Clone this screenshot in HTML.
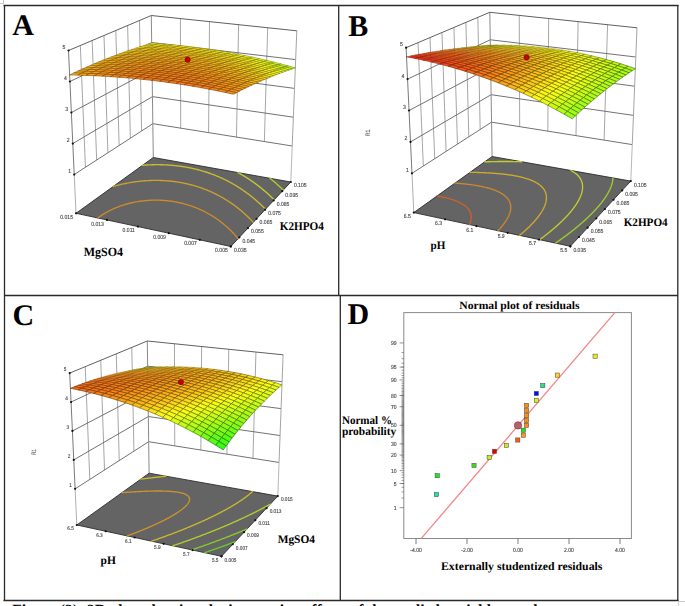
<!DOCTYPE html>
<html><head><meta charset="utf-8"><title>Figure</title><style>html,body{margin:0;padding:0;background:#fff;}body{width:685px;height:606px;overflow:hidden;}svg{display:block;}</style></head><body>
<svg width="685" height="606" viewBox="0 0 685 606" text-rendering="geometricPrecision"><g stroke="#2a2a2a" stroke-width="1.3"><line x1="3.5" y1="5.5" x2="678.5" y2="5.5"/><line x1="3.5" y1="600.5" x2="678.5" y2="600.5"/><line x1="4.5" y1="5" x2="4.5" y2="601"/><line x1="677.8" y1="5" x2="677.8" y2="601"/><line x1="4" y1="295.5" x2="678" y2="295.5"/><line x1="338.7" y1="5" x2="338.7" y2="295.5"/><line x1="340.3" y1="295.5" x2="340.3" y2="601"/></g>
<g stroke="#c8c8c8" stroke-width="1"><line x1="3.5" y1="0" x2="3.5" y2="4"/><line x1="0" y1="3.5" x2="3" y2="3.5"/><line x1="678.7" y1="601.5" x2="685" y2="601.5"/><line x1="678.7" y1="601.5" x2="678.7" y2="606"/></g>
<g stroke="#9c9c9c" stroke-width="0.9" fill="none"><line x1="85.44" y1="167.27" x2="80.33" y2="45.5"/><line x1="96.67" y1="160.01" x2="92.16" y2="40.5"/><line x1="107.9" y1="152.75" x2="103.99" y2="35.5"/><line x1="119.13" y1="145.48" x2="115.81" y2="30.5"/><line x1="130.36" y1="138.22" x2="127.64" y2="25.5"/><line x1="141.59" y1="130.95" x2="139.47" y2="20.5"/><line x1="180.7" y1="128.15" x2="180.4" y2="18.56"/><line x1="208.59" y1="132.61" x2="209.5" y2="21.62"/><line x1="236.47" y1="137.08" x2="238.6" y2="24.68"/><line x1="264.35" y1="141.54" x2="267.7" y2="27.74"/></g>
<g stroke="#626262" stroke-width="0.9" fill="none"><polyline points="74.21,174.54 152.82,123.69 292.23,146"/><polyline points="72.79,143.53 152.44,96.64 293.37,117.2"/><polyline points="71.36,112.52 152.06,69.6 294.51,88.4"/><polyline points="69.93,81.51 151.68,42.55 295.66,59.6"/></g>
<line x1="76" y1="213.3" x2="74.21" y2="174.54" stroke="#b0b0b0" stroke-width="1"/>
<line x1="74.21" y1="174.54" x2="68.5" y2="50.5" stroke="#7a7a7a" stroke-width="1"/>
<line x1="153.3" y1="157.5" x2="151.3" y2="15.5" stroke="#8a8a8a" stroke-width="1"/>
<line x1="290.8" y1="182" x2="292.23" y2="146" stroke="#b8b8b8" stroke-width="1"/>
<line x1="292.23" y1="146" x2="296.8" y2="30.8" stroke="#a5a5a5" stroke-width="1"/>
<polyline points="68.5,50.5 151.3,15.5 296.8,30.8" fill="none" stroke="#606060" stroke-width="1"/>
<polygon points="76,213.3 230.8,246.5 290.8,182 153.3,157.5" fill="#646464" stroke="#2e2e2e" stroke-width="0.9" stroke-linejoin="round"/>
<polyline points="97.9,218 98.37,217.64 98.84,217.28 99.32,216.93 99.8,216.58 100.3,216.23 100.8,215.88 101.3,215.53 101.82,215.18 102.34,214.84 102.87,214.49 103.34,214.19 103.4,214.15 103.95,213.81 104.5,213.47 105.07,213.14 105.63,212.8 106.21,212.47 106.8,212.14 107.39,211.81 108,211.48 108.39,211.27 108.61,211.15 109.23,210.83 109.87,210.51 110.51,210.19 111.16,209.87 111.82,209.55 111.9,209.52 112.49,209.24 113.18,208.93 113.87,208.62 114.58,208.31 114.81,208.21 115.29,208 116.02,207.7 116.76,207.4 117.38,207.16 117.52,207.1 118.29,206.81 119.07,206.51 119.72,206.27 119.86,206.22 120.67,205.94 121.49,205.65 121.89,205.52 122.34,205.37 123.19,205.1 123.93,204.86 124.07,204.82 124.96,204.55 125.86,204.28 125.87,204.28 126.8,204.02 127.71,203.77 127.75,203.76 128.72,203.51 129.47,203.32 129.72,203.26 130.74,203.01 131.18,202.91 131.78,202.77 132.82,202.54 132.86,202.53 133.96,202.31 134.41,202.21 135.09,202.08 135.96,201.92 136.26,201.86 137.46,201.65 137.47,201.65 138.71,201.45 138.94,201.42 140,201.26 140.37,201.21 141.33,201.08 141.77,201.02 142.72,200.9 143.14,200.85 144.17,200.74 144.49,200.71 145.69,200.59 145.81,200.58 147.1,200.47 147.28,200.46 148.38,200.38 148.97,200.34 149.63,200.3 150.75,200.24 150.86,200.24 152.07,200.19 152.67,200.18 153.27,200.16 154.44,200.14 154.75,200.14 155.6,200.13 156.75,200.13 157.03,200.14 157.88,200.15 158.99,200.18 159.6,200.2 160.09,200.21 161.18,200.26 162.26,200.32 162.6,200.34 163.32,200.38 164.37,200.46 165.41,200.55 166.35,200.63 166.44,200.64 167.46,200.74 168.46,200.85 169.46,200.97 170.45,201.1 171.43,201.23 172.32,201.37 172.4,201.38 173.36,201.53 174.31,201.68 175.25,201.85 176.18,202.02 177.11,202.2 178.03,202.38 178.94,202.57 179.84,202.77 180.74,202.98 181.63,203.19 182.43,203.38 182.51,203.4 183.39,203.63 184.25,203.86 185.12,204.09 185.97,204.33 186.82,204.58 187.66,204.83 188.2,205 188.5,205.09 189.33,205.36 190.16,205.63 190.98,205.9 191.78,206.18 191.79,206.18 192.6,206.47 193.4,206.76 194.2,207.06 194.58,207.2 194.99,207.36 195.78,207.67 196.56,207.98 196.96,208.14 197.34,208.3 198.11,208.62 198.88,208.95 199.06,209.03 199.64,209.29 200.39,209.62 200.95,209.88 201.15,209.97 201.9,210.32 202.64,210.67 202.68,210.69 203.38,211.03 204.11,211.4 204.29,211.48 204.84,211.77 205.57,212.14 205.79,212.25 206.29,212.52 207.01,212.9 207.2,213.01 207.72,213.29 208.43,213.69 208.53,213.75 209.14,214.09 209.8,214.47 209.84,214.49 210.53,214.9 211.01,215.19 211.23,215.31 211.92,215.73 212.17,215.89 212.6,216.16 213.28,216.59 213.28,216.59 213.96,217.02 214.35,217.27 214.63,217.46 215.3,217.9 215.38,217.96 215.97,218.35 216.37,218.63 216.63,218.81 217.29,219.27 217.33,219.3 217.94,219.73 218.26,219.96 218.59,220.2 219.17,220.62 219.24,220.67 219.88,221.15 220.04,221.27 220.52,221.64 220.89,221.92 221.16,222.13 221.72,222.56 221.79,222.62 222.42,223.12 222.52,223.2 223.05,223.62 223.31,223.84 223.67,224.13 224.07,224.47 224.29,224.65 224.82,225.1 224.91,225.17 225.52,225.7 225.55,225.72 226.13,226.23 226.26,226.35 226.73,226.76 226.96,226.97 227.33,227.3 227.64,227.58 227.93,227.85 228.3,228.2 228.52,228.4 228.95,228.81 229.11,228.96 229.59,229.42 229.7,229.52 230.22,230.03 230.28,230.09 230.83,230.63 230.87,230.67 231.43,231.24 231.44,231.25 232.02,231.83 232.02,231.84 232.58,232.43 232.59,232.44 233.15,233.02 233.16,233.03 233.71,233.63 233.72,233.63 234.26,234.22 234.27,234.24 234.8,234.82 234.83,234.85 235.32,235.41 235.38,235.47 235.84,235.99 235.93,236.1 236.34,236.58 236.47,236.73 236.84,237.17 237.01,237.37 237.33,237.75 237.55,238.02 237.81,238.33 238.08,238.67" fill="none" stroke="#cc8a2e" stroke-width="1.35" stroke-linecap="round"/>
<polyline points="113.01,186.58 113.37,186.48 114.28,186.21 114.95,186.02 115.2,185.95 116.14,185.69 116.83,185.51 117.09,185.44 118.06,185.18 118.64,185.03 119.04,184.93 120.04,184.68 120.39,184.6 121.06,184.44 122.1,184.2 122.1,184.2 123.15,183.96 123.75,183.83 124.23,183.73 125.33,183.5 125.37,183.49 126.45,183.27 126.94,183.17 127.59,183.05 128.49,182.88 128.76,182.83 129.95,182.62 129.99,182.61 131.18,182.41 131.47,182.36 132.43,182.21 132.92,182.14 133.72,182.02 134.34,181.92 135.04,181.83 135.74,181.73 136.39,181.64 137.11,181.55 137.79,181.47 138.46,181.39 139.24,181.3 139.79,181.24 140.73,181.14 141.1,181.11 142.28,181 142.38,180.99 143.65,180.88 143.88,180.86 144.91,180.78 145.56,180.74 146.14,180.7 147.31,180.63 147.36,180.62 148.57,180.56 149.16,180.53 149.75,180.51 150.93,180.46 151.1,180.46 152.09,180.43 153.17,180.41 153.24,180.41 154.37,180.39 155.4,180.38 155.5,180.38 156.61,180.39 157.71,180.4 157.81,180.4 158.79,180.41 159.87,180.44 160.49,180.46 160.94,180.47 161.99,180.51 163.04,180.56 163.52,180.59 164.08,180.62 165.1,180.68 166.12,180.75 167.12,180.82 167.13,180.82 168.13,180.91 169.12,180.99 170.11,181.09 171.08,181.19 171.88,181.27 172.05,181.29 173.01,181.41 173.96,181.52 174.91,181.65 175.85,181.78 176.78,181.91 177.7,182.05 178.62,182.2 179.53,182.35 180.44,182.51 181.34,182.67 182.23,182.83 183.12,183 184,183.18 184.87,183.36 185.74,183.55 186.6,183.74 187.46,183.93 188.31,184.13 189.16,184.34 190,184.55 190.84,184.76 191.67,184.98 192.26,185.14 192.5,185.2 193.32,185.43 194.14,185.66 194.95,185.9 195.76,186.14 196.56,186.38 196.77,186.45 197.36,186.63 198.15,186.89 198.94,187.14 199.73,187.4 200.15,187.55 200.51,187.67 201.29,187.94 202.06,188.22 202.83,188.49 202.95,188.54 203.6,188.78 204.36,189.06 205.11,189.35 205.39,189.46 205.87,189.65 206.62,189.95 207.36,190.25 207.57,190.34 208.1,190.55 208.84,190.86 209.57,191.18 209.58,191.18 210.31,191.5 211.04,191.82 211.41,191.99 211.76,192.15 212.48,192.48 213.13,192.78 213.2,192.81 213.91,193.15 214.62,193.49 214.75,193.55 215.33,193.83 216.03,194.18 216.27,194.3 216.73,194.54 217.43,194.89 217.72,195.05 218.13,195.26 218.82,195.62 219.11,195.78 219.51,195.99 220.19,196.36 220.43,196.49 220.87,196.74 221.55,197.12 221.7,197.2 222.23,197.5 222.9,197.89 222.93,197.9 223.57,198.28 224.11,198.6 224.24,198.68 224.91,199.08 225.24,199.28 225.57,199.48 226.23,199.89 226.35,199.96 226.88,200.3 227.42,200.64 227.54,200.71 228.19,201.13 228.45,201.31 228.84,201.55 229.46,201.97 229.48,201.98 230.12,202.41 230.44,202.63 230.76,202.85 231.4,203.28 231.4,203.28 232.04,203.73 232.33,203.93 232.67,204.17 233.24,204.58 233.3,204.62 233.93,205.07 234.13,205.22 234.55,205.53 235,205.86 235.17,205.99 235.79,206.46 235.84,206.5 236.41,206.93 236.67,207.13 237.02,207.4 237.49,207.76 237.64,207.88 238.25,208.36 238.28,208.39 238.85,208.85 239.06,209.01 239.46,209.34 239.83,209.64 240.06,209.83 240.58,210.26 240.66,210.33 241.26,210.83 241.32,210.88 241.85,211.33 242.04,211.49 242.45,211.84 242.75,212.11 243.04,212.36 243.45,212.72 243.63,212.88 244.13,213.33 244.21,213.4 244.8,213.93 244.81,213.94 245.38,214.46 245.47,214.54 245.95,214.99 246.12,215.15 246.53,215.53 246.77,215.75 247.11,216.07 247.4,216.35 247.68,216.62 248.02,216.95 248.25,217.18 248.63,217.55 248.81,217.73 249.24,218.15 249.38,218.29 249.83,218.75 249.94,218.86 250.42,219.34 250.5,219.43 251,219.94 251.06,220 251.56,220.53 251.62,220.58 252.13,221.12 252.17,221.16 252.68,221.71 252.72,221.75 253.23,222.3 253.27,222.35" fill="none" stroke="#cca12e" stroke-width="1.35" stroke-linecap="round"/>
<polyline points="142.49,165.3 143.11,165.25 143.72,165.21 144.81,165.13 144.94,165.12 146.14,165.04 146.58,165.01 147.33,164.97 148.42,164.91 148.5,164.91 149.67,164.85 150.35,164.83 150.82,164.81 151.96,164.77 152.38,164.76 153.09,164.74 154.2,164.72 154.53,164.71 155.31,164.7 156.4,164.69 156.82,164.69 157.49,164.69 158.57,164.69 159.29,164.7 159.63,164.7 160.69,164.72 161.74,164.74 161.99,164.75 162.78,164.77 163.81,164.81 164.83,164.85 164.99,164.85 165.84,164.89 166.85,164.95 167.84,165 168.46,165.04 168.84,165.07 169.82,165.13 170.79,165.21 171.76,165.29 172.71,165.37 172.72,165.37 173.68,165.46 174.62,165.55 175.56,165.65 176.5,165.75 177.43,165.86 178.35,165.97 178.9,166.04 179.26,166.09 180.17,166.21 181.08,166.34 181.97,166.47 182.87,166.6 183.75,166.74 184.63,166.89 185.51,167.03 186.38,167.18 187.24,167.34 188.1,167.5 188.96,167.66 189.81,167.83 190.65,168.01 191.5,168.18 192.33,168.36 193.16,168.55 193.99,168.73 194.62,168.88 194.81,168.92 195.63,169.12 196.44,169.32 197.25,169.52 198.06,169.73 198.86,169.94 199.65,170.15 200.45,170.37 200.53,170.4 201.23,170.59 202.02,170.82 202.8,171.05 203.58,171.28 204.35,171.52 204.51,171.57 205.12,171.75 205.88,172 206.65,172.24 207.4,172.49 207.71,172.59 208.16,172.75 208.91,173 209.66,173.26 210.4,173.53 210.45,173.54 211.14,173.79 211.88,174.07 212.62,174.34 212.88,174.44 213.35,174.62 214.08,174.9 214.8,175.18 215.08,175.29 215.52,175.47 216.24,175.76 216.96,176.05 217.11,176.12 217.67,176.35 218.38,176.65 218.99,176.91 219.09,176.96 219.79,177.26 220.49,177.57 220.76,177.69 221.19,177.89 221.89,178.2 222.43,178.45 222.58,178.52 223.27,178.85 223.96,179.18 224.01,179.2 224.64,179.51 225.32,179.84 225.51,179.93 226,180.18 226.68,180.52 226.95,180.66 227.35,180.86 228.03,181.21 228.34,181.37 228.69,181.56 229.36,181.91 229.66,182.07 230.03,182.27 230.69,182.63 230.95,182.77 231.35,182.99 232,183.35 232.18,183.46 232.66,183.72 233.31,184.1 233.38,184.14 233.96,184.47 234.54,184.81 234.61,184.85 235.25,185.23 235.67,185.48 235.89,185.62 236.53,186.01 236.77,186.15 237.17,186.4 237.81,186.8 237.83,186.81 238.44,187.19 238.87,187.47 239.08,187.6 239.7,188 239.89,188.12 240.33,188.41 240.88,188.77 240.96,188.82 241.58,189.24 241.84,189.41 242.2,189.66 242.79,190.05 242.82,190.08 243.44,190.5 243.71,190.69 244.05,190.93 244.62,191.33 244.67,191.36 245.28,191.8 245.5,191.96 245.89,192.24 246.37,192.59 246.49,192.68 247.1,193.12 247.22,193.22 247.7,193.57 248.06,193.84 248.3,194.02 248.88,194.46 248.9,194.48 249.5,194.94 249.69,195.08 250.09,195.4 250.48,195.7 250.69,195.87 251.26,196.32 251.28,196.33 251.87,196.81 252.03,196.93 252.46,197.28 252.78,197.55 253.04,197.76 253.52,198.16 253.63,198.24 254.21,198.73 254.25,198.77 254.79,199.22 254.97,199.37 255.37,199.71 255.68,199.98 255.95,200.21 256.38,200.58 256.52,200.71 257.07,201.19 257.1,201.21 257.67,201.72 257.74,201.79 258.24,202.23 258.41,202.39 258.8,202.75 259.07,202.99 259.37,203.27 259.72,203.59 259.94,203.79 260.36,204.18 260.5,204.31 260.99,204.78 261.06,204.84 261.62,205.37 261.62,205.37 262.18,205.91 262.24,205.97 262.73,206.45 262.84,206.56 263.29,206.99 263.45,207.15 263.84,207.54 264.04,207.74 264.39,208.09 264.63,208.33 264.94,208.65 265.21,208.92 265.49,209.21" fill="none" stroke="#ccba2e" stroke-width="1.35" stroke-linecap="round"/>
<polyline points="237.97,172.59 238.28,172.75 238.92,173.11 239.2,173.26 239.56,173.46 240.2,173.82 240.4,173.93 240.83,174.18 241.47,174.55 241.56,174.6 242.1,174.92 242.69,175.26 242.73,175.29 243.36,175.66 243.79,175.92 243.99,176.04 244.61,176.42 244.86,176.57 245.23,176.8 245.85,177.18 245.9,177.21 246.47,177.57 246.92,177.86 247.09,177.96 247.7,178.36 247.92,178.5 248.32,178.75 248.9,179.14 248.93,179.16 249.54,179.56 249.86,179.77 250.15,179.96 250.75,180.37 250.8,180.4 251.36,180.79 251.71,181.03 251.96,181.2 252.56,181.62 252.62,181.66 253.16,182.04 253.5,182.28 253.76,182.47 254.35,182.89 254.37,182.9 254.95,183.32 255.22,183.52 255.54,183.76 256.06,184.14 256.13,184.19 256.72,184.63 256.88,184.76 257.3,185.08 257.69,185.37 257.89,185.52 258.47,185.97 258.49,185.98 259.06,186.42 259.28,186.59 259.64,186.88 260.05,187.2 260.22,187.33 260.79,187.8 260.81,187.81 261.37,188.26 261.56,188.41 261.95,188.73 262.3,189.02 262.52,189.2 263.03,189.62 263.09,189.67 263.66,190.15 263.75,190.22 264.23,190.63 264.46,190.82 264.8,191.11 265.16,191.42 265.36,191.6 265.85,192.02 265.93,192.09 266.49,192.58 266.53,192.62 267.05,193.08 267.2,193.21 267.61,193.58 267.86,193.81 268.17,194.08 268.52,194.4 268.72,194.58 269.17,194.99 269.28,195.09 269.81,195.58 269.83,195.61 270.39,196.12 270.44,196.17 270.94,196.64 271.07,196.76 271.49,197.16 271.68,197.35 272.04,197.69 272.29,197.94 272.58,198.22 272.9,198.53 273.13,198.75 273.5,199.11 273.67,199.29 274.09,199.7 274.22,199.83" fill="none" stroke="#c9cc2e" stroke-width="1.35" stroke-linecap="round"/>
<polyline points="269.99,178.29 270.11,178.39 270.68,178.84 270.73,178.89 271.24,179.3 271.47,179.49 271.8,179.76 272.19,180.08 272.36,180.22 272.91,180.67 272.92,180.68 273.47,181.15 273.61,181.27 274.03,181.62 274.31,181.86 274.58,182.09 275,182.45 275.14,182.57 275.68,183.04 275.69,183.05 276.24,183.53 276.35,183.63 276.79,184.02 277.01,184.22 277.34,184.5 277.67,184.8 277.88,185 278.32,185.39 278.43,185.49 278.96,185.98 278.97,185.99 279.52,186.49 279.6,186.56 280.06,186.99 280.23,187.15 280.6,187.5 280.85,187.73 281.14,188 281.47,188.31 281.68,188.52 282.08,188.9 282.22,189.03 282.68,189.48 282.76,189.55 283.28,190.06 283.29,190.07" fill="none" stroke="#b2cc2e" stroke-width="1.35" stroke-linecap="round"/>
<g stroke-width="0.6" stroke-linejoin="round"><polygon points="147.59,44.31 154.83,44.81 158.88,43.56 151.69,43.04" fill="#fcf014" stroke="#6a6508" stroke-width="0.38"/><polygon points="143.49,45.6 150.78,46.09 154.83,44.81 147.59,44.31" fill="#fce914" stroke="#6a6208" stroke-width="0.39"/><polygon points="154.83,44.81 162.08,45.39 166.08,44.15 158.88,43.56" fill="#fced14" stroke="#6a6308" stroke-width="0.39"/><polygon points="150.78,46.09 158.08,46.66 162.08,45.39 154.83,44.81" fill="#fce514" stroke="#6a6008" stroke-width="0.39"/><polygon points="139.39,46.93 146.73,47.4 150.78,46.09 143.49,45.6" fill="#fce214" stroke="#6a5f08" stroke-width="0.39"/><polygon points="162.08,45.39 169.33,46.04 173.28,44.82 166.08,44.15" fill="#fcea14" stroke="#6a6208" stroke-width="0.4"/><polygon points="146.73,47.4 154.07,47.95 158.08,46.66 150.78,46.09" fill="#fcde14" stroke="#6a5d08" stroke-width="0.4"/><polygon points="158.08,46.66 165.38,47.29 169.33,46.04 162.08,45.39" fill="#fce214" stroke="#6a5f08" stroke-width="0.4"/><polygon points="169.33,46.04 176.58,46.77 180.48,45.56 173.28,44.82" fill="#fce814" stroke="#6a6208" stroke-width="0.4"/><polygon points="135.29,48.28 142.68,48.75 146.73,47.4 139.39,46.93" fill="#fcdc14" stroke="#6a5c08" stroke-width="0.4"/><polygon points="131.18,49.67 138.62,50.12 142.68,48.75 135.29,48.28" fill="#fcd614" stroke="#6a5a08" stroke-width="0.41"/><polygon points="142.68,48.75 150.07,49.28 154.07,47.95 146.73,47.4" fill="#fcd814" stroke="#6a5b08" stroke-width="0.41"/><polygon points="154.07,47.95 161.42,48.58 165.38,47.29 158.08,46.66" fill="#fcdb14" stroke="#6a5c08" stroke-width="0.4"/><polygon points="165.38,47.29 172.67,48 176.58,46.77 169.33,46.04" fill="#fce014" stroke="#6a5e08" stroke-width="0.4"/><polygon points="176.58,46.77 183.83,47.56 187.68,46.37 180.48,45.56" fill="#fce714" stroke="#6a6108" stroke-width="0.4"/><polygon points="172.67,48 179.97,48.79 183.83,47.56 176.58,46.77" fill="#fcdf14" stroke="#6a5e08" stroke-width="0.41"/><polygon points="127.08,51.1 134.56,51.53 138.62,50.12 131.18,49.67" fill="#fcd014" stroke="#6a5708" stroke-width="0.41"/><polygon points="138.62,50.12 146.06,50.64 150.07,49.28 142.68,48.75" fill="#fcd114" stroke="#6a5808" stroke-width="0.41"/><polygon points="150.07,49.28 157.47,49.89 161.42,48.58 154.07,47.95" fill="#fcd414" stroke="#6a5908" stroke-width="0.41"/><polygon points="161.42,48.58 168.77,49.27 172.67,48 165.38,47.29" fill="#fcd914" stroke="#6a5b08" stroke-width="0.41"/><polygon points="183.83,47.56 191.08,48.44 194.87,47.25 187.68,46.37" fill="#fce714" stroke="#6a6108" stroke-width="0.41"/><polygon points="122.97,52.55 130.51,52.97 134.56,51.53 127.08,51.1" fill="#fccb14" stroke="#6a5508" stroke-width="0.42"/><polygon points="146.06,50.64 153.51,51.23 157.47,49.89 150.07,49.28" fill="#fcce14" stroke="#6a5608" stroke-width="0.42"/><polygon points="168.77,49.27 176.12,50.04 179.97,48.79 172.67,48" fill="#fcd714" stroke="#6a5a08" stroke-width="0.41"/><polygon points="179.97,48.79 187.28,49.65 191.08,48.44 183.83,47.56" fill="#fcdf14" stroke="#6a5e08" stroke-width="0.41"/><polygon points="191.08,48.44 198.33,49.38 202.07,48.21 194.87,47.25" fill="#fce814" stroke="#6a6108" stroke-width="0.41"/><polygon points="134.56,51.53 142.05,52.03 146.06,50.64 138.62,50.12" fill="#fccc14" stroke="#6a5508" stroke-width="0.42"/><polygon points="157.47,49.89 164.86,50.57 168.77,49.27 161.42,48.58" fill="#fcd214" stroke="#6a5808" stroke-width="0.41"/><polygon points="130.51,52.97 138.05,53.45 142.05,52.03 134.56,51.53" fill="#fcc614" stroke="#6a5308" stroke-width="0.42"/><polygon points="153.51,51.23 160.96,51.9 164.86,50.57 157.47,49.89" fill="#fccb14" stroke="#6a5508" stroke-width="0.42"/><polygon points="187.28,49.65 194.58,50.58 198.33,49.38 191.08,48.44" fill="#fcdf14" stroke="#6a5e08" stroke-width="0.42"/><polygon points="118.87,54.04 126.45,54.44 130.51,52.97 122.97,52.55" fill="#fcc614" stroke="#6a5308" stroke-width="0.42"/><polygon points="142.05,52.03 149.55,52.61 153.51,51.23 146.06,50.64" fill="#fcc814" stroke="#6a5408" stroke-width="0.42"/><polygon points="164.86,50.57 172.26,51.33 176.12,50.04 168.77,49.27" fill="#fcd014" stroke="#6a5708" stroke-width="0.42"/><polygon points="176.12,50.04 183.47,50.89 187.28,49.65 179.97,48.79" fill="#fcd614" stroke="#6a5a08" stroke-width="0.42"/><polygon points="198.33,49.38 205.58,50.41 209.27,49.25 202.07,48.21" fill="#fce914" stroke="#6a6208" stroke-width="0.42"/><polygon points="126.45,54.44 134.04,54.91 138.05,53.45 130.51,52.97" fill="#fcc114" stroke="#6a5108" stroke-width="0.43"/><polygon points="138.05,53.45 145.59,54.02 149.55,52.61 142.05,52.03" fill="#fcc214" stroke="#6a5108" stroke-width="0.43"/><polygon points="149.55,52.61 157.05,53.26 160.96,51.9 153.51,51.23" fill="#fcc414" stroke="#6a5308" stroke-width="0.43"/><polygon points="160.96,51.9 168.41,52.64 172.26,51.33 164.86,50.57" fill="#fcc914" stroke="#6a5408" stroke-width="0.42"/><polygon points="183.47,50.89 190.82,51.81 194.58,50.58 187.28,49.65" fill="#fcd714" stroke="#6a5a08" stroke-width="0.42"/><polygon points="194.58,50.58 201.88,51.6 205.58,50.41 198.33,49.38" fill="#fce014" stroke="#6a5e08" stroke-width="0.42"/><polygon points="114.76,55.57 122.39,55.95 126.45,54.44 118.87,54.04" fill="#fcc214" stroke="#6a5208" stroke-width="0.43"/><polygon points="172.26,51.33 179.67,52.16 183.47,50.89 176.12,50.04" fill="#fccf14" stroke="#6a5708" stroke-width="0.42"/><polygon points="205.58,50.41 212.82,51.51 216.47,50.36 209.27,49.25" fill="#fceb14" stroke="#6a6308" stroke-width="0.42"/><polygon points="110.65,57.13 118.33,57.5 122.39,55.95 114.76,55.57" fill="#fcbe14" stroke="#6a5008" stroke-width="0.44"/><polygon points="134.04,54.91 141.63,55.46 145.59,54.02 138.05,53.45" fill="#fcbd14" stroke="#6a4f08" stroke-width="0.43"/><polygon points="145.59,54.02 153.14,54.65 157.05,53.26 149.55,52.61" fill="#fcbf14" stroke="#6a5008" stroke-width="0.43"/><polygon points="157.05,53.26 164.55,53.99 168.41,52.64 160.96,51.9" fill="#fcc214" stroke="#6a5208" stroke-width="0.43"/><polygon points="168.41,52.64 175.86,53.46 179.67,52.16 172.26,51.33" fill="#fcc714" stroke="#6a5408" stroke-width="0.43"/><polygon points="179.67,52.16 187.07,53.07 190.82,51.81 183.47,50.89" fill="#fcce14" stroke="#6a5708" stroke-width="0.43"/><polygon points="190.82,51.81 198.18,52.81 201.88,51.6 194.58,50.58" fill="#fcd714" stroke="#6a5a08" stroke-width="0.43"/><polygon points="201.88,51.6 209.18,52.68 212.82,51.51 205.58,50.41" fill="#fce214" stroke="#6a5f08" stroke-width="0.43"/><polygon points="212.82,51.51 220.07,52.69 223.66,51.55 216.47,50.36" fill="#fcee14" stroke="#6a6408" stroke-width="0.43"/><polygon points="122.39,55.95 130.02,56.41 134.04,54.91 126.45,54.44" fill="#fcbd14" stroke="#6a4f08" stroke-width="0.43"/><polygon points="153.14,54.65 160.68,55.37 164.55,53.99 157.05,53.26" fill="#fcbc14" stroke="#6a4f08" stroke-width="0.44"/><polygon points="175.86,53.46 183.31,54.36 187.07,53.07 179.67,52.16" fill="#fcc714" stroke="#6a5408" stroke-width="0.43"/><polygon points="209.18,52.68 216.47,53.85 220.07,52.69 212.82,51.51" fill="#fce514" stroke="#6a6008" stroke-width="0.43"/><polygon points="118.33,57.5 126.01,57.93 130.02,56.41 122.39,55.95" fill="#fcb914" stroke="#6a4e08" stroke-width="0.44"/><polygon points="141.63,55.46 149.22,56.08 153.14,54.65 145.59,54.02" fill="#fcb914" stroke="#6a4e08" stroke-width="0.44"/><polygon points="106.55,58.73 114.27,59.08 118.33,57.5 110.65,57.13" fill="#fcbb14" stroke="#6a4f08" stroke-width="0.44"/><polygon points="130.02,56.41 137.66,56.94 141.63,55.46 134.04,54.91" fill="#fcb814" stroke="#6a4d08" stroke-width="0.44"/><polygon points="164.55,53.99 172.05,54.79 175.86,53.46 168.41,52.64" fill="#fcc014" stroke="#6a5108" stroke-width="0.43"/><polygon points="187.07,53.07 194.47,54.06 198.18,52.81 190.82,51.81" fill="#fccf14" stroke="#6a5708" stroke-width="0.43"/><polygon points="198.18,52.81 205.53,53.89 209.18,52.68 201.88,51.6" fill="#fcd914" stroke="#6a5b08" stroke-width="0.43"/><polygon points="220.07,52.69 227.31,53.94 230.85,52.82 223.66,51.55" fill="#fcf214" stroke="#6a6608" stroke-width="0.43"/><polygon points="102.44,60.37 110.21,60.7 114.27,59.08 106.55,58.73" fill="#fcb814" stroke="#6a4d08" stroke-width="0.45"/><polygon points="126.01,57.93 133.7,58.45 137.66,56.94 130.02,56.41" fill="#fcb314" stroke="#6a4b08" stroke-width="0.45"/><polygon points="149.22,56.08 156.82,56.78 160.68,55.37 153.14,54.65" fill="#fcb614" stroke="#6a4c08" stroke-width="0.44"/><polygon points="160.68,55.37 168.24,56.16 172.05,54.79 164.55,53.99" fill="#fcba14" stroke="#6a4e08" stroke-width="0.44"/><polygon points="172.05,54.79 179.55,55.67 183.31,54.36 175.86,53.46" fill="#fcc014" stroke="#6a5008" stroke-width="0.44"/><polygon points="183.31,54.36 190.76,55.33 194.47,54.06 187.07,53.07" fill="#fcc714" stroke="#6a5408" stroke-width="0.44"/><polygon points="205.53,53.89 212.87,55.04 216.47,53.85 209.18,52.68" fill="#fcdb14" stroke="#6a5c08" stroke-width="0.44"/><polygon points="216.47,53.85 223.77,55.1 227.31,53.94 220.07,52.69" fill="#fce814" stroke="#6a6108" stroke-width="0.44"/><polygon points="227.31,53.94 234.55,55.28 238.04,54.16 230.85,52.82" fill="#fcf614" stroke="#6a6708" stroke-width="0.44"/><polygon points="114.27,59.08 122,59.5 126.01,57.93 118.33,57.5" fill="#fcb514" stroke="#6a4c08" stroke-width="0.45"/><polygon points="137.66,56.94 145.31,57.54 149.22,56.08 141.63,55.46" fill="#fcb414" stroke="#6a4c08" stroke-width="0.44"/><polygon points="194.47,54.06 201.87,55.12 205.53,53.89 198.18,52.81" fill="#fcd014" stroke="#6a5708" stroke-width="0.44"/><polygon points="168.24,56.16 175.79,57.02 179.55,55.67 172.05,54.79" fill="#fcb914" stroke="#6a4e08" stroke-width="0.44"/><polygon points="223.77,55.1 231.06,56.42 234.55,55.28 227.31,53.94" fill="#fcec14" stroke="#6a6308" stroke-width="0.44"/><polygon points="110.21,60.7 117.99,61.11 122,59.5 114.27,59.08" fill="#fcb214" stroke="#6a4b08" stroke-width="0.45"/><polygon points="133.7,58.45 141.39,59.04 145.31,57.54 137.66,56.94" fill="#fcaf14" stroke="#6a4a08" stroke-width="0.45"/><polygon points="98.33,62.05 106.15,62.36 110.21,60.7 102.44,60.37" fill="#fcb514" stroke="#6a4c08" stroke-width="0.46"/><polygon points="122,59.5 129.74,60 133.7,58.45 126.01,57.93" fill="#fcaf14" stroke="#6a4a08" stroke-width="0.45"/><polygon points="145.31,57.54 152.96,58.22 156.82,56.78 149.22,56.08" fill="#fcb114" stroke="#6a4a08" stroke-width="0.45"/><polygon points="156.82,56.78 164.42,57.55 168.24,56.16 160.68,55.37" fill="#fcb414" stroke="#6a4c08" stroke-width="0.45"/><polygon points="179.55,55.67 187.05,56.63 190.76,55.33 183.31,54.36" fill="#fcc014" stroke="#6a5008" stroke-width="0.44"/><polygon points="190.76,55.33 198.22,56.38 201.87,55.12 194.47,54.06" fill="#fcc814" stroke="#6a5408" stroke-width="0.44"/><polygon points="201.87,55.12 209.27,56.26 212.87,55.04 205.53,53.89" fill="#fcd214" stroke="#6a5808" stroke-width="0.44"/><polygon points="212.87,55.04 220.22,56.28 223.77,55.1 216.47,53.85" fill="#fcde14" stroke="#6a5d08" stroke-width="0.44"/><polygon points="234.55,55.28 241.79,56.69 245.22,55.59 238.04,54.16" fill="#fcfc14" stroke="#6a6a08" stroke-width="0.44"/><polygon points="117.99,61.11 125.77,61.59 129.74,60 122,59.5" fill="#fcac14" stroke="#6a4808" stroke-width="0.46"/><polygon points="141.39,59.04 149.09,59.71 152.96,58.22 145.31,57.54" fill="#fcac14" stroke="#6a4808" stroke-width="0.45"/><polygon points="164.42,57.55 172.03,58.41 175.79,57.02 168.24,56.16" fill="#fcb214" stroke="#6a4b08" stroke-width="0.45"/><polygon points="175.79,57.02 183.34,57.97 187.05,56.63 179.55,55.67" fill="#fcb914" stroke="#6a4e08" stroke-width="0.45"/><polygon points="198.22,56.38 205.67,57.51 209.27,56.26 201.87,55.12" fill="#fcca14" stroke="#6a5508" stroke-width="0.45"/><polygon points="220.22,56.28 227.56,57.59 231.06,56.42 223.77,55.1" fill="#fce214" stroke="#6a5f08" stroke-width="0.44"/><polygon points="231.06,56.42 238.35,57.83 241.79,56.69 234.55,55.28" fill="#fcf114" stroke="#6a6508" stroke-width="0.44"/><polygon points="106.15,62.36 113.98,62.75 117.99,61.11 110.21,60.7" fill="#fcaf14" stroke="#6a4908" stroke-width="0.46"/><polygon points="129.74,60 137.48,60.57 141.39,59.04 133.7,58.45" fill="#fcab14" stroke="#6a4808" stroke-width="0.46"/><polygon points="94.23,63.77 102.09,64.06 106.15,62.36 98.33,62.05" fill="#fcb314" stroke="#6a4b08" stroke-width="0.46"/><polygon points="152.96,58.22 160.61,58.98 164.42,57.55 156.82,56.78" fill="#fcae14" stroke="#6a4908" stroke-width="0.45"/><polygon points="187.05,56.63 194.56,57.67 198.22,56.38 190.76,55.33" fill="#fcc014" stroke="#6a5108" stroke-width="0.45"/><polygon points="209.27,56.26 216.67,57.49 220.22,56.28 212.87,55.04" fill="#fcd514" stroke="#6a5a08" stroke-width="0.44"/><polygon points="241.79,56.69 249.02,58.19 252.4,57.09 245.22,55.59" fill="#f7fc14" stroke="#686a08" stroke-width="0.44"/><polygon points="125.77,61.59 133.56,62.14 137.48,60.57 129.74,60" fill="#fca714" stroke="#6a4608" stroke-width="0.46"/><polygon points="90.12,65.53 98.04,65.8 102.09,64.06 94.23,63.77" fill="#fcb114" stroke="#6a4b08" stroke-width="0.47"/><polygon points="113.98,62.75 121.81,63.21 125.77,61.59 117.99,61.11" fill="#fca914" stroke="#6a4708" stroke-width="0.47"/><polygon points="149.09,59.71 156.79,60.45 160.61,58.98 152.96,58.22" fill="#fca914" stroke="#6a4708" stroke-width="0.46"/><polygon points="160.61,58.98 168.26,59.82 172.03,58.41 164.42,57.55" fill="#fcad14" stroke="#6a4808" stroke-width="0.46"/><polygon points="172.03,58.41 179.63,59.34 183.34,57.97 175.79,57.02" fill="#fcb214" stroke="#6a4b08" stroke-width="0.45"/><polygon points="183.34,57.97 190.9,59 194.56,57.67 187.05,56.63" fill="#fcb914" stroke="#6a4e08" stroke-width="0.45"/><polygon points="194.56,57.67 202.06,58.79 205.67,57.51 198.22,56.38" fill="#fcc214" stroke="#6a5108" stroke-width="0.45"/><polygon points="205.67,57.51 213.12,58.72 216.67,57.49 209.27,56.26" fill="#fccc14" stroke="#6a5608" stroke-width="0.45"/><polygon points="216.67,57.49 224.06,58.79 227.56,57.59 220.22,56.28" fill="#fcd914" stroke="#6a5b08" stroke-width="0.45"/><polygon points="227.56,57.59 234.9,58.99 238.35,57.83 231.06,56.42" fill="#fce714" stroke="#6a6108" stroke-width="0.45"/><polygon points="238.35,57.83 245.63,59.31 249.02,58.19 241.79,56.69" fill="#fcf714" stroke="#6a6808" stroke-width="0.45"/><polygon points="249.02,58.19 256.24,59.77 259.57,58.68 252.4,57.09" fill="#f0fc14" stroke="#656a08" stroke-width="0.45"/><polygon points="137.48,60.57 145.23,61.22 149.09,59.71 141.39,59.04" fill="#fca714" stroke="#6a4608" stroke-width="0.46"/><polygon points="102.09,64.06 109.97,64.43 113.98,62.75 106.15,62.36" fill="#fcac14" stroke="#6a4808" stroke-width="0.47"/><polygon points="156.79,60.45 164.49,61.27 168.26,59.82 160.61,58.98" fill="#fca714" stroke="#6a4608" stroke-width="0.46"/><polygon points="190.9,59 198.45,60.1 202.06,58.79 194.56,57.67" fill="#fcba14" stroke="#6a4e08" stroke-width="0.46"/><polygon points="213.12,58.72 220.56,60.02 224.06,58.79 216.67,57.49" fill="#fcd014" stroke="#6a5708" stroke-width="0.45"/><polygon points="245.63,59.31 252.91,60.88 256.24,59.77 249.02,58.19" fill="#fcfc14" stroke="#6a6a08" stroke-width="0.45"/><polygon points="133.56,62.14 141.36,62.78 145.23,61.22 137.48,60.57" fill="#fca314" stroke="#6a4408" stroke-width="0.47"/><polygon points="86.02,67.33 93.98,67.58 98.04,65.8 90.12,65.53" fill="#fcb014" stroke="#6a4a08" stroke-width="0.48"/><polygon points="98.04,65.8 105.96,66.15 109.97,64.43 102.09,64.06" fill="#fcaa14" stroke="#6a4708" stroke-width="0.48"/><polygon points="121.81,63.21 129.65,63.75 133.56,62.14 125.77,61.59" fill="#fca414" stroke="#6a4508" stroke-width="0.47"/><polygon points="109.97,64.43 117.85,64.88 121.81,63.21 113.98,62.75" fill="#fca614" stroke="#6a4608" stroke-width="0.47"/><polygon points="145.23,61.22 152.97,61.95 156.79,60.45 149.09,59.71" fill="#fca414" stroke="#6a4508" stroke-width="0.47"/><polygon points="168.26,59.82 175.91,60.74 179.63,59.34 172.03,58.41" fill="#fcac14" stroke="#6a4808" stroke-width="0.46"/><polygon points="179.63,59.34 187.23,60.35 190.9,59 183.34,57.97" fill="#fcb214" stroke="#6a4b08" stroke-width="0.46"/><polygon points="202.06,58.79 209.56,59.99 213.12,58.72 205.67,57.51" fill="#fcc414" stroke="#6a5208" stroke-width="0.46"/><polygon points="224.06,58.79 231.46,60.17 234.9,58.99 227.56,57.59" fill="#fcdd14" stroke="#6a5d08" stroke-width="0.45"/><polygon points="234.9,58.99 242.24,60.46 245.63,59.31 238.35,57.83" fill="#fcec14" stroke="#6a6308" stroke-width="0.45"/><polygon points="256.24,59.77 263.46,61.43 266.74,60.35 259.57,58.68" fill="#e9fc14" stroke="#626a08" stroke-width="0.45"/><polygon points="105.96,66.15 113.88,66.58 117.85,64.88 109.97,64.43" fill="#fca414" stroke="#6a4508" stroke-width="0.48"/><polygon points="141.36,62.78 149.16,63.49 152.97,61.95 145.23,61.22" fill="#fca014" stroke="#6a4308" stroke-width="0.47"/><polygon points="152.97,61.95 160.73,62.76 164.49,61.27 156.79,60.45" fill="#fca214" stroke="#6a4408" stroke-width="0.47"/><polygon points="164.49,61.27 172.2,62.18 175.91,60.74 168.26,59.82" fill="#fca614" stroke="#6a4608" stroke-width="0.47"/><polygon points="187.23,60.35 194.84,61.44 198.45,60.1 190.9,59" fill="#fcb314" stroke="#6a4b08" stroke-width="0.46"/><polygon points="198.45,60.1 206,61.29 209.56,59.99 202.06,58.79" fill="#fcbc14" stroke="#6a4f08" stroke-width="0.46"/><polygon points="209.56,59.99 217.06,61.27 220.56,60.02 213.12,58.72" fill="#fcc714" stroke="#6a5408" stroke-width="0.46"/><polygon points="220.56,60.02 228.01,61.39 231.46,60.17 224.06,58.79" fill="#fcd414" stroke="#6a5908" stroke-width="0.46"/><polygon points="242.24,60.46 249.57,62.02 252.91,60.88 245.63,59.31" fill="#fcf314" stroke="#6a6608" stroke-width="0.45"/><polygon points="252.91,60.88 260.18,62.53 263.46,61.43 256.24,59.77" fill="#f4fc14" stroke="#676a08" stroke-width="0.45"/><polygon points="263.46,61.43 270.67,63.17 273.9,62.09 266.74,60.35" fill="#e1fc14" stroke="#5e6a08" stroke-width="0.45"/><polygon points="81.92,69.17 89.92,69.41 93.98,67.58 86.02,67.33" fill="#fcaf14" stroke="#6a4a08" stroke-width="0.49"/><polygon points="93.98,67.58 101.95,67.92 105.96,66.15 98.04,65.8" fill="#fca814" stroke="#6a4708" stroke-width="0.48"/><polygon points="129.65,63.75 137.49,64.37 141.36,62.78 133.56,62.14" fill="#fc9f14" stroke="#6a4308" stroke-width="0.48"/><polygon points="117.85,64.88 125.73,65.4 129.65,63.75 121.81,63.21" fill="#fca114" stroke="#6a4308" stroke-width="0.48"/><polygon points="175.91,60.74 183.57,61.74 187.23,60.35 179.63,59.34" fill="#fcab14" stroke="#6a4808" stroke-width="0.46"/><polygon points="231.46,60.17 238.84,61.64 242.24,60.46 234.9,58.99" fill="#fce214" stroke="#6a5f08" stroke-width="0.46"/><polygon points="149.16,63.49 156.96,64.28 160.73,62.76 152.97,61.95" fill="#fc9d14" stroke="#6a4208" stroke-width="0.48"/><polygon points="206,61.29 213.55,62.56 217.06,61.27 209.56,59.99" fill="#fcbf14" stroke="#6a5008" stroke-width="0.46"/><polygon points="260.18,62.53 267.44,64.27 270.67,63.17 263.46,61.43" fill="#ecfc14" stroke="#636a08" stroke-width="0.46"/><polygon points="113.88,66.58 121.82,67.08 125.73,65.4 117.85,64.88" fill="#fc9e14" stroke="#6a4208" stroke-width="0.49"/><polygon points="77.82,71.06 85.87,71.27 89.92,69.41 81.92,69.17" fill="#fcaf14" stroke="#6a4908" stroke-width="0.5"/><polygon points="101.95,67.92 109.92,68.32 113.88,66.58 105.96,66.15" fill="#fca214" stroke="#6a4408" stroke-width="0.49"/><polygon points="89.92,69.41 97.94,69.72 101.95,67.92 93.98,67.58" fill="#fca714" stroke="#6a4608" stroke-width="0.49"/><polygon points="137.49,64.37 145.34,65.07 149.16,63.49 141.36,62.78" fill="#fc9c14" stroke="#6a4108" stroke-width="0.48"/><polygon points="160.73,62.76 168.48,63.65 172.2,62.18 164.49,61.27" fill="#fca014" stroke="#6a4308" stroke-width="0.47"/><polygon points="172.2,62.18 179.9,63.16 183.57,61.74 175.91,60.74" fill="#fca514" stroke="#6a4508" stroke-width="0.47"/><polygon points="183.57,61.74 191.22,62.82 194.84,61.44 187.23,60.35" fill="#fcac14" stroke="#6a4808" stroke-width="0.47"/><polygon points="194.84,61.44 202.44,62.62 206,61.29 198.45,60.1" fill="#fcb514" stroke="#6a4c08" stroke-width="0.47"/><polygon points="217.06,61.27 224.55,62.63 228.01,61.39 220.56,60.02" fill="#fccb14" stroke="#6a5508" stroke-width="0.46"/><polygon points="228.01,61.39 235.45,62.84 238.84,61.64 231.46,60.17" fill="#fcd914" stroke="#6a5b08" stroke-width="0.46"/><polygon points="238.84,61.64 246.23,63.19 249.57,62.02 242.24,60.46" fill="#fce814" stroke="#6a6208" stroke-width="0.46"/><polygon points="249.57,62.02 256.89,63.66 260.18,62.53 252.91,60.88" fill="#fcfa14" stroke="#6a6908" stroke-width="0.46"/><polygon points="270.67,63.17 277.88,64.99 281.05,63.93 273.9,62.09" fill="#d7fc14" stroke="#5a6a08" stroke-width="0.46"/><polygon points="125.73,65.4 133.62,66 137.49,64.37 129.65,63.75" fill="#fc9c14" stroke="#6a4108" stroke-width="0.48"/><polygon points="145.34,65.07 153.19,65.84 156.96,64.28 149.16,63.49" fill="#fc9914" stroke="#6a4008" stroke-width="0.48"/><polygon points="156.96,64.28 164.76,65.16 168.48,63.65 160.73,62.76" fill="#fc9b14" stroke="#6a4108" stroke-width="0.48"/><polygon points="179.9,63.16 187.61,64.23 191.22,62.82 183.57,61.74" fill="#fca614" stroke="#6a4608" stroke-width="0.47"/><polygon points="202.44,62.62 210.04,63.87 213.55,62.56 206,61.29" fill="#fcb714" stroke="#6a4d08" stroke-width="0.47"/><polygon points="213.55,62.56 221.1,63.91 224.55,62.63 217.06,61.27" fill="#fcc214" stroke="#6a5208" stroke-width="0.47"/><polygon points="235.45,62.84 242.88,64.38 246.23,63.19 238.84,61.64" fill="#fcde14" stroke="#6a5d08" stroke-width="0.46"/><polygon points="256.89,63.66 264.21,65.39 267.44,64.27 260.18,62.53" fill="#f8fc14" stroke="#686a08" stroke-width="0.46"/><polygon points="267.44,64.27 274.7,66.08 277.88,64.99 270.67,63.17" fill="#e3fc14" stroke="#5f6a08" stroke-width="0.46"/><polygon points="109.92,68.32 117.9,68.81 121.82,67.08 113.88,66.58" fill="#fc9c14" stroke="#6a4108" stroke-width="0.49"/><polygon points="121.82,67.08 129.75,67.67 133.62,66 125.73,65.4" fill="#fc9914" stroke="#6a4008" stroke-width="0.49"/><polygon points="73.72,72.99 81.82,73.19 85.87,71.27 77.82,71.06" fill="#fcae14" stroke="#6a4908" stroke-width="0.5"/><polygon points="85.87,71.27 93.93,71.57 97.94,69.72 89.92,69.41" fill="#fca614" stroke="#6a4608" stroke-width="0.5"/><polygon points="97.94,69.72 105.96,70.11 109.92,68.32 101.95,67.92" fill="#fca014" stroke="#6a4308" stroke-width="0.5"/><polygon points="133.62,66 141.52,66.68 145.34,65.07 137.49,64.37" fill="#fc9814" stroke="#6a4008" stroke-width="0.49"/><polygon points="168.48,63.65 176.23,64.62 179.9,63.16 172.2,62.18" fill="#fca014" stroke="#6a4308" stroke-width="0.48"/><polygon points="191.22,62.82 198.88,63.98 202.44,62.62 194.84,61.44" fill="#fcae14" stroke="#6a4908" stroke-width="0.47"/><polygon points="224.55,62.63 232.04,64.08 235.45,62.84 228.01,61.39" fill="#fcd014" stroke="#6a5708" stroke-width="0.47"/><polygon points="246.23,63.19 253.6,64.82 256.89,63.66 249.57,62.02" fill="#fcef14" stroke="#6a6408" stroke-width="0.46"/><polygon points="277.88,64.99 285.08,66.9 288.19,65.84 281.05,63.93" fill="#cdfc14" stroke="#566a08" stroke-width="0.46"/><polygon points="69.63,74.96 77.77,75.14 81.82,73.19 73.72,72.99" fill="#fcaf14" stroke="#6a4908" stroke-width="0.51"/><polygon points="81.82,73.19 89.92,73.46 93.93,71.57 85.87,71.27" fill="#fca614" stroke="#6a4608" stroke-width="0.51"/><polygon points="93.93,71.57 102,71.94 105.96,70.11 97.94,69.72" fill="#fc9f14" stroke="#6a4308" stroke-width="0.51"/><polygon points="105.96,70.11 113.99,70.58 117.9,68.81 109.92,68.32" fill="#fc9a14" stroke="#6a4108" stroke-width="0.5"/><polygon points="117.9,68.81 125.89,69.38 129.75,67.67 121.82,67.08" fill="#fc9614" stroke="#6a3f08" stroke-width="0.5"/><polygon points="129.75,67.67 137.7,68.33 141.52,66.68 133.62,66" fill="#fc9514" stroke="#6a3f08" stroke-width="0.49"/><polygon points="141.52,66.68 149.42,67.44 153.19,65.84 145.34,65.07" fill="#fc9514" stroke="#6a3f08" stroke-width="0.49"/><polygon points="153.19,65.84 161.04,66.7 164.76,65.16 156.96,64.28" fill="#fc9714" stroke="#6a3f08" stroke-width="0.49"/><polygon points="164.76,65.16 172.56,66.11 176.23,64.62 168.48,63.65" fill="#fc9a14" stroke="#6a4108" stroke-width="0.48"/><polygon points="176.23,64.62 183.99,65.67 187.61,64.23 179.9,63.16" fill="#fca014" stroke="#6a4308" stroke-width="0.48"/><polygon points="187.61,64.23 195.31,65.37 198.88,63.98 191.22,62.82" fill="#fca714" stroke="#6a4608" stroke-width="0.48"/><polygon points="198.88,63.98 206.53,65.22 210.04,63.87 202.44,62.62" fill="#fcb014" stroke="#6a4a08" stroke-width="0.48"/><polygon points="210.04,63.87 217.64,65.21 221.1,63.91 213.55,62.56" fill="#fcba14" stroke="#6a4e08" stroke-width="0.47"/><polygon points="221.1,63.91 228.64,65.34 232.04,64.08 224.55,62.63" fill="#fcc714" stroke="#6a5308" stroke-width="0.47"/><polygon points="232.04,64.08 239.53,65.6 242.88,64.38 235.45,62.84" fill="#fcd514" stroke="#6a5908" stroke-width="0.47"/><polygon points="242.88,64.38 250.31,66 253.6,64.82 246.23,63.19" fill="#fce514" stroke="#6a6008" stroke-width="0.47"/><polygon points="253.6,64.82 260.97,66.54 264.21,65.39 256.89,63.66" fill="#fcf714" stroke="#6a6808" stroke-width="0.46"/><polygon points="264.21,65.39 271.52,67.2 274.7,66.08 267.44,64.27" fill="#effc14" stroke="#646a08" stroke-width="0.46"/><polygon points="274.7,66.08 281.95,67.98 285.08,66.9 277.88,64.99" fill="#dafc14" stroke="#5b6a08" stroke-width="0.46"/><polygon points="285.08,66.9 292.27,68.9 295.33,67.84 288.19,65.84" fill="#c3fc14" stroke="#526a08" stroke-width="0.46"/><polygon points="137.7,68.33 145.65,69.08 149.42,67.44 141.52,66.68" fill="#fc9114" stroke="#6a3d08" stroke-width="0.5"/><polygon points="172.56,66.11 180.37,67.15 183.99,65.67 176.23,64.62" fill="#fc9a14" stroke="#6a4108" stroke-width="0.49"/><polygon points="195.31,65.37 203.01,66.6 206.53,65.22 198.88,63.98" fill="#fca914" stroke="#6a4708" stroke-width="0.48"/><polygon points="228.64,65.34 236.18,66.85 239.53,65.6 232.04,64.08" fill="#fccc14" stroke="#6a5608" stroke-width="0.47"/><polygon points="250.31,66 257.73,67.71 260.97,66.54 253.6,64.82" fill="#fcec14" stroke="#6a6308" stroke-width="0.47"/><polygon points="281.95,67.98 289.2,69.97 292.27,68.9 285.08,66.9" fill="#cffc14" stroke="#576a08" stroke-width="0.46"/><polygon points="89.92,73.46 98.04,73.82 102,71.94 93.93,71.57" fill="#fc9e14" stroke="#6a4308" stroke-width="0.51"/><polygon points="102,71.94 110.07,72.39 113.99,70.58 105.96,70.11" fill="#fc9914" stroke="#6a4008" stroke-width="0.51"/><polygon points="77.77,75.14 85.92,75.4 89.92,73.46 81.82,73.19" fill="#fca614" stroke="#6a4608" stroke-width="0.52"/><polygon points="113.99,70.58 122.02,71.13 125.89,69.38 117.9,68.81" fill="#fc9414" stroke="#6a3e08" stroke-width="0.51"/><polygon points="125.89,69.38 133.88,70.03 137.7,68.33 129.75,67.67" fill="#fc9214" stroke="#6a3d08" stroke-width="0.5"/><polygon points="149.42,67.44 157.32,68.28 161.04,66.7 153.19,65.84" fill="#fc9314" stroke="#6a3e08" stroke-width="0.49"/><polygon points="161.04,66.7 168.89,67.64 172.56,66.11 164.76,65.16" fill="#fc9614" stroke="#6a3f08" stroke-width="0.49"/><polygon points="183.99,65.67 191.74,66.8 195.31,65.37 187.61,64.23" fill="#fca114" stroke="#6a4308" stroke-width="0.48"/><polygon points="206.53,65.22 214.18,66.54 217.64,65.21 210.04,63.87" fill="#fcb314" stroke="#6a4b08" stroke-width="0.48"/><polygon points="217.64,65.21 225.23,66.63 228.64,65.34 221.1,63.91" fill="#fcbe14" stroke="#6a5008" stroke-width="0.48"/><polygon points="239.53,65.6 247.01,67.22 250.31,66 242.88,64.38" fill="#fcdb14" stroke="#6a5c08" stroke-width="0.47"/><polygon points="260.97,66.54 268.34,68.34 271.52,67.2 264.21,65.39" fill="#fafc14" stroke="#696a08" stroke-width="0.47"/><polygon points="271.52,67.2 278.83,69.09 281.95,67.98 274.7,66.08" fill="#e6fc14" stroke="#606a08" stroke-width="0.47"/><polygon points="133.88,70.03 141.87,70.75 145.65,69.08 137.7,68.33" fill="#fc8e14" stroke="#6a3c08" stroke-width="0.51"/><polygon points="98.04,73.82 106.16,74.25 110.07,72.39 102,71.94" fill="#fc9814" stroke="#6a4008" stroke-width="0.52"/><polygon points="145.65,69.08 153.6,69.9 157.32,68.28 149.42,67.44" fill="#fc8f14" stroke="#6a3c08" stroke-width="0.5"/><polygon points="168.89,67.64 176.75,68.66 180.37,67.15 172.56,66.11" fill="#fc9514" stroke="#6a3f08" stroke-width="0.49"/><polygon points="180.37,67.15 188.17,68.26 191.74,66.8 183.99,65.67" fill="#fc9b14" stroke="#6a4108" stroke-width="0.49"/><polygon points="191.74,66.8 199.5,68.02 203.01,66.6 195.31,65.37" fill="#fca214" stroke="#6a4408" stroke-width="0.49"/><polygon points="203.01,66.6 210.71,67.91 214.18,66.54 206.53,65.22" fill="#fcab14" stroke="#6a4808" stroke-width="0.48"/><polygon points="225.23,66.63 232.83,68.14 236.18,66.85 228.64,65.34" fill="#fcc314" stroke="#6a5208" stroke-width="0.48"/><polygon points="236.18,66.85 243.71,68.46 247.01,67.22 239.53,65.6" fill="#fcd214" stroke="#6a5808" stroke-width="0.48"/><polygon points="247.01,67.22 254.49,68.91 257.73,67.71 250.31,66" fill="#fce214" stroke="#6a5f08" stroke-width="0.47"/><polygon points="257.73,67.71 265.15,69.5 268.34,68.34 260.97,66.54" fill="#fcf414" stroke="#6a6608" stroke-width="0.47"/><polygon points="278.83,69.09 286.12,71.07 289.2,69.97 281.95,67.98" fill="#dcfc14" stroke="#5c6a08" stroke-width="0.47"/><polygon points="85.92,75.4 94.08,75.73 98.04,73.82 89.92,73.46" fill="#fc9e14" stroke="#6a4208" stroke-width="0.52"/><polygon points="110.07,72.39 118.15,72.92 122.02,71.13 113.99,70.58" fill="#fc9314" stroke="#6a3e08" stroke-width="0.51"/><polygon points="122.02,71.13 130.06,71.76 133.88,70.03 125.89,69.38" fill="#fc9014" stroke="#6a3c08" stroke-width="0.51"/><polygon points="157.32,68.28 165.22,69.2 168.89,67.64 161.04,66.7" fill="#fc9114" stroke="#6a3d08" stroke-width="0.5"/><polygon points="214.18,66.54 221.82,67.95 225.23,66.63 217.64,65.21" fill="#fcb614" stroke="#6a4d08" stroke-width="0.48"/><polygon points="268.34,68.34 275.7,70.22 278.83,69.09 271.52,67.2" fill="#f1fc14" stroke="#656a08" stroke-width="0.47"/><polygon points="188.17,68.26 195.98,69.46 199.5,68.02 191.74,66.8" fill="#fc9c14" stroke="#6a4208" stroke-width="0.49"/><polygon points="243.71,68.46 251.24,70.14 254.49,68.91 247.01,67.22" fill="#fcd814" stroke="#6a5b08" stroke-width="0.48"/><polygon points="130.06,71.76 138.1,72.47 141.87,70.75 133.88,70.03" fill="#fc8c14" stroke="#6a3b08" stroke-width="0.51"/><polygon points="94.08,75.73 102.25,76.15 106.16,74.25 98.04,73.82" fill="#fc9714" stroke="#6a3f08" stroke-width="0.53"/><polygon points="106.16,74.25 114.29,74.76 118.15,72.92 110.07,72.39" fill="#fc9114" stroke="#6a3d08" stroke-width="0.52"/><polygon points="141.87,70.75 149.87,71.56 153.6,69.9 145.65,69.08" fill="#fc8b14" stroke="#6a3b08" stroke-width="0.51"/><polygon points="118.15,72.92 126.24,73.54 130.06,71.76 122.02,71.13" fill="#fc8e14" stroke="#6a3c08" stroke-width="0.52"/><polygon points="153.6,69.9 161.55,70.81 165.22,69.2 157.32,68.28" fill="#fc8d14" stroke="#6a3b08" stroke-width="0.5"/><polygon points="165.22,69.2 173.13,70.21 176.75,68.66 168.89,67.64" fill="#fc9014" stroke="#6a3d08" stroke-width="0.5"/><polygon points="176.75,68.66 184.6,69.76 188.17,68.26 180.37,67.15" fill="#fc9514" stroke="#6a3f08" stroke-width="0.5"/><polygon points="199.5,68.02 207.25,69.31 210.71,67.91 203.01,66.6" fill="#fca514" stroke="#6a4508" stroke-width="0.49"/><polygon points="210.71,67.91 218.41,69.31 221.82,67.95 214.18,66.54" fill="#fcaf14" stroke="#6a4908" stroke-width="0.49"/><polygon points="221.82,67.95 229.47,69.45 232.83,68.14 225.23,66.63" fill="#fcbb14" stroke="#6a4f08" stroke-width="0.49"/><polygon points="232.83,68.14 240.41,69.73 243.71,68.46 236.18,66.85" fill="#fcc914" stroke="#6a5408" stroke-width="0.48"/><polygon points="254.49,68.91 261.96,70.69 265.15,69.5 257.73,67.71" fill="#fcea14" stroke="#6a6208" stroke-width="0.48"/><polygon points="265.15,69.5 272.56,71.38 275.7,70.22 268.34,68.34" fill="#fcfc14" stroke="#6a6a08" stroke-width="0.47"/><polygon points="275.7,70.22 283.05,72.19 286.12,71.07 278.83,69.09" fill="#e7fc14" stroke="#616a08" stroke-width="0.47"/><polygon points="126.24,73.54 134.33,74.23 138.1,72.47 130.06,71.76" fill="#fc8914" stroke="#6a3a08" stroke-width="0.52"/><polygon points="161.55,70.81 169.5,71.8 173.13,70.21 165.22,69.2" fill="#fc8c14" stroke="#6a3b08" stroke-width="0.51"/><polygon points="184.6,69.76 192.46,70.95 195.98,69.46 188.17,68.26" fill="#fc9614" stroke="#6a3f08" stroke-width="0.5"/><polygon points="195.98,69.46 203.78,70.75 207.25,69.31 199.5,68.02" fill="#fc9e14" stroke="#6a4208" stroke-width="0.5"/><polygon points="218.41,69.31 226.11,70.79 229.47,69.45 221.82,67.95" fill="#fcb314" stroke="#6a4b08" stroke-width="0.49"/><polygon points="240.41,69.73 247.99,71.4 251.24,70.14 243.71,68.46" fill="#fccf14" stroke="#6a5708" stroke-width="0.49"/><polygon points="251.24,70.14 258.77,71.91 261.96,70.69 254.49,68.91" fill="#fce014" stroke="#6a5e08" stroke-width="0.48"/><polygon points="272.56,71.38 279.96,73.34 283.05,72.19 275.7,70.22" fill="#f3fc14" stroke="#666a08" stroke-width="0.48"/><polygon points="102.25,76.15 110.42,76.64 114.29,74.76 106.16,74.25" fill="#fc9114" stroke="#6a3d08" stroke-width="0.53"/><polygon points="114.29,74.76 122.42,75.35 126.24,73.54 118.15,72.92" fill="#fc8c14" stroke="#6a3b08" stroke-width="0.53"/><polygon points="138.1,72.47 146.15,73.26 149.87,71.56 141.87,70.75" fill="#fc8914" stroke="#6a3908" stroke-width="0.52"/><polygon points="149.87,71.56 157.88,72.45 161.55,70.81 153.6,69.9" fill="#fc8914" stroke="#6a3a08" stroke-width="0.51"/><polygon points="173.13,70.21 181.03,71.3 184.6,69.76 176.75,68.66" fill="#fc9014" stroke="#6a3d08" stroke-width="0.5"/><polygon points="207.25,69.31 215,70.7 218.41,69.31 210.71,67.91" fill="#fca814" stroke="#6a4608" stroke-width="0.49"/><polygon points="229.47,69.45 237.11,71.03 240.41,69.73 232.83,68.14" fill="#fcc014" stroke="#6a5108" stroke-width="0.49"/><polygon points="261.96,70.69 269.42,72.56 272.56,71.38 265.15,69.5" fill="#fcf214" stroke="#6a6608" stroke-width="0.48"/><polygon points="122.42,75.35 130.56,76.03 134.33,74.23 126.24,73.54" fill="#fc8814" stroke="#6a3908" stroke-width="0.53"/><polygon points="157.88,72.45 165.88,73.43 169.5,71.8 161.55,70.81" fill="#fc8814" stroke="#6a3908" stroke-width="0.52"/><polygon points="110.42,76.64 118.6,77.22 122.42,75.35 114.29,74.76" fill="#fc8b14" stroke="#6a3a08" stroke-width="0.53"/><polygon points="134.33,74.23 142.43,75 146.15,73.26 138.1,72.47" fill="#fc8614" stroke="#6a3808" stroke-width="0.52"/><polygon points="169.5,71.8 177.46,72.87 181.03,71.3 173.13,70.21" fill="#fc8c14" stroke="#6a3b08" stroke-width="0.51"/><polygon points="181.03,71.3 188.94,72.47 192.46,70.95 184.6,69.76" fill="#fc9114" stroke="#6a3d08" stroke-width="0.51"/><polygon points="192.46,70.95 200.31,72.22 203.78,70.75 195.98,69.46" fill="#fc9814" stroke="#6a4008" stroke-width="0.5"/><polygon points="203.78,70.75 211.58,72.12 215,70.7 207.25,69.31" fill="#fca114" stroke="#6a4408" stroke-width="0.5"/><polygon points="215,70.7 222.75,72.17 226.11,70.79 218.41,69.31" fill="#fcac14" stroke="#6a4808" stroke-width="0.5"/><polygon points="226.11,70.79 233.8,72.36 237.11,71.03 229.47,69.45" fill="#fcb814" stroke="#6a4d08" stroke-width="0.49"/><polygon points="237.11,71.03 244.74,72.69 247.99,71.4 240.41,69.73" fill="#fcc614" stroke="#6a5308" stroke-width="0.49"/><polygon points="247.99,71.4 255.57,73.16 258.77,71.91 251.24,70.14" fill="#fcd614" stroke="#6a5a08" stroke-width="0.49"/><polygon points="258.77,71.91 266.28,73.77 269.42,72.56 261.96,70.69" fill="#fce814" stroke="#6a6108" stroke-width="0.48"/><polygon points="269.42,72.56 276.88,74.52 279.96,73.34 272.56,71.38" fill="#fcfb14" stroke="#6a6a08" stroke-width="0.48"/><polygon points="146.15,73.26 154.2,74.14 157.88,72.45 149.87,71.56" fill="#fc8614" stroke="#6a3808" stroke-width="0.52"/><polygon points="118.6,77.22 126.79,77.87 130.56,76.03 122.42,75.35" fill="#fc8614" stroke="#6a3808" stroke-width="0.54"/><polygon points="177.46,72.87 185.41,74.03 188.94,72.47 181.03,71.3" fill="#fc8c14" stroke="#6a3b08" stroke-width="0.51"/><polygon points="211.58,72.12 219.38,73.58 222.75,72.17 215,70.7" fill="#fca514" stroke="#6a4508" stroke-width="0.5"/><polygon points="233.8,72.36 241.48,74.01 244.74,72.69 237.11,71.03" fill="#fcbe14" stroke="#6a5008" stroke-width="0.5"/><polygon points="266.28,73.77 273.79,75.72 276.88,74.52 269.42,72.56" fill="#fcf114" stroke="#6a6508" stroke-width="0.49"/><polygon points="130.56,76.03 138.71,76.79 142.43,75 134.33,74.23" fill="#fc8414" stroke="#6a3708" stroke-width="0.53"/><polygon points="154.2,74.14 162.26,75.09 165.88,73.43 157.88,72.45" fill="#fc8514" stroke="#6a3808" stroke-width="0.52"/><polygon points="142.43,75 150.53,75.86 154.2,74.14 146.15,73.26" fill="#fc8314" stroke="#6a3708" stroke-width="0.53"/><polygon points="165.88,73.43 173.88,74.48 177.46,72.87 169.5,71.8" fill="#fc8714" stroke="#6a3908" stroke-width="0.52"/><polygon points="188.94,72.47 196.84,73.73 200.31,72.22 192.46,70.95" fill="#fc9314" stroke="#6a3e08" stroke-width="0.51"/><polygon points="200.31,72.22 208.16,73.58 211.58,72.12 203.78,70.75" fill="#fc9b14" stroke="#6a4108" stroke-width="0.51"/><polygon points="222.75,72.17 230.49,73.72 233.8,72.36 226.11,70.79" fill="#fcb014" stroke="#6a4a08" stroke-width="0.5"/><polygon points="244.74,72.69 252.37,74.44 255.57,73.16 247.99,71.4" fill="#fccd14" stroke="#6a5608" stroke-width="0.49"/><polygon points="255.57,73.16 263.14,75.01 266.28,73.77 258.77,71.91" fill="#fcde14" stroke="#6a5d08" stroke-width="0.49"/><polygon points="126.79,77.87 134.98,78.61 138.71,76.79 130.56,76.03" fill="#fc8214" stroke="#6a3708" stroke-width="0.54"/><polygon points="150.53,75.86 158.63,76.8 162.26,75.09 154.2,74.14" fill="#fc8114" stroke="#6a3608" stroke-width="0.53"/><polygon points="173.88,74.48 181.89,75.63 185.41,74.03 177.46,72.87" fill="#fc8814" stroke="#6a3908" stroke-width="0.52"/><polygon points="185.41,74.03 193.37,75.27 196.84,73.73 188.94,72.47" fill="#fc8d14" stroke="#6a3b08" stroke-width="0.52"/><polygon points="208.16,73.58 216.01,75.02 219.38,73.58 211.58,72.12" fill="#fc9e14" stroke="#6a4208" stroke-width="0.51"/><polygon points="219.38,73.58 227.17,75.12 230.49,73.72 222.75,72.17" fill="#fca914" stroke="#6a4708" stroke-width="0.51"/><polygon points="230.49,73.72 238.23,75.37 241.48,74.01 233.8,72.36" fill="#fcb614" stroke="#6a4c08" stroke-width="0.5"/><polygon points="241.48,74.01 249.17,75.75 252.37,74.44 244.74,72.69" fill="#fcc514" stroke="#6a5308" stroke-width="0.5"/><polygon points="263.14,75.01 270.7,76.95 273.79,75.72 266.28,73.77" fill="#fce714" stroke="#6a6108" stroke-width="0.49"/><polygon points="138.71,76.79 146.85,77.63 150.53,75.86 142.43,75" fill="#fc8114" stroke="#6a3608" stroke-width="0.54"/><polygon points="162.26,75.09 170.31,76.14 173.88,74.48 165.88,73.43" fill="#fc8414" stroke="#6a3708" stroke-width="0.53"/><polygon points="196.84,73.73 204.74,75.07 208.16,73.58 200.31,72.22" fill="#fc9514" stroke="#6a3f08" stroke-width="0.51"/><polygon points="252.37,74.44 259.99,76.28 263.14,75.01 255.57,73.16" fill="#fcd514" stroke="#6a5908" stroke-width="0.5"/><polygon points="227.17,75.12 234.96,76.75 238.23,75.37 230.49,73.72" fill="#fcae14" stroke="#6a4908" stroke-width="0.51"/><polygon points="146.85,77.63 155,78.55 158.63,76.8 150.53,75.86" fill="#fc7f14" stroke="#6a3508" stroke-width="0.54"/><polygon points="170.31,76.14 178.37,77.26 181.89,75.63 173.88,74.48" fill="#fc8414" stroke="#6a3708" stroke-width="0.53"/><polygon points="134.98,78.61 143.18,79.44 146.85,77.63 138.71,76.79" fill="#fc7f14" stroke="#6a3508" stroke-width="0.54"/><polygon points="158.63,76.8 166.73,77.83 170.31,76.14 162.26,75.09" fill="#fc8014" stroke="#6a3608" stroke-width="0.53"/><polygon points="181.89,75.63 189.9,76.86 193.37,75.27 185.41,74.03" fill="#fc8914" stroke="#6a3908" stroke-width="0.53"/><polygon points="193.37,75.27 201.32,76.6 204.74,75.07 196.84,73.73" fill="#fc8f14" stroke="#6a3c08" stroke-width="0.52"/><polygon points="204.74,75.07 212.64,76.5 216.01,75.02 208.16,73.58" fill="#fc9814" stroke="#6a4008" stroke-width="0.52"/><polygon points="216.01,75.02 223.86,76.55 227.17,75.12 219.38,73.58" fill="#fca214" stroke="#6a4408" stroke-width="0.51"/><polygon points="238.23,75.37 245.96,77.1 249.17,75.75 241.48,74.01" fill="#fcbc14" stroke="#6a4f08" stroke-width="0.5"/><polygon points="249.17,75.75 256.84,77.58 259.99,76.28 252.37,74.44" fill="#fccc14" stroke="#6a5608" stroke-width="0.5"/><polygon points="259.99,76.28 267.6,78.21 270.7,76.95 263.14,75.01" fill="#fcdd14" stroke="#6a5d08" stroke-width="0.5"/><polygon points="143.18,79.44 151.38,80.35 155,78.55 146.85,77.63" fill="#fc7c14" stroke="#6a3408" stroke-width="0.55"/><polygon points="166.73,77.83 174.84,78.94 178.37,77.26 170.31,76.14" fill="#fc8014" stroke="#6a3608" stroke-width="0.54"/><polygon points="201.32,76.6 209.27,78.02 212.64,76.5 204.74,75.07" fill="#fc9214" stroke="#6a3d08" stroke-width="0.52"/><polygon points="223.86,76.55 231.7,78.17 234.96,76.75 227.17,75.12" fill="#fca714" stroke="#6a4608" stroke-width="0.51"/><polygon points="234.96,76.75 242.75,78.47 245.96,77.1 238.23,75.37" fill="#fcb414" stroke="#6a4c08" stroke-width="0.51"/><polygon points="256.84,77.58 264.51,79.5 267.6,78.21 259.99,76.28" fill="#fcd414" stroke="#6a5908" stroke-width="0.5"/><polygon points="155,78.55 163.16,79.56 166.73,77.83 158.63,76.8" fill="#fc7d14" stroke="#6a3508" stroke-width="0.54"/><polygon points="178.37,77.26 186.42,78.48 189.9,76.86 181.89,75.63" fill="#fc8414" stroke="#6a3808" stroke-width="0.53"/><polygon points="189.9,76.86 197.9,78.17 201.32,76.6 193.37,75.27" fill="#fc8a14" stroke="#6a3a08" stroke-width="0.53"/><polygon points="212.64,76.5 220.54,78.02 223.86,76.55 216.01,75.02" fill="#fc9c14" stroke="#6a4108" stroke-width="0.52"/><polygon points="245.96,77.1 253.69,78.91 256.84,77.58 249.17,75.75" fill="#fcc314" stroke="#6a5208" stroke-width="0.51"/><polygon points="163.16,79.56 171.31,80.66 174.84,78.94 166.73,77.83" fill="#fc7d14" stroke="#6a3408" stroke-width="0.55"/><polygon points="151.38,80.35 159.58,81.34 163.16,79.56 155,78.55" fill="#fc7b14" stroke="#6a3408" stroke-width="0.55"/><polygon points="174.84,78.94 182.94,80.14 186.42,78.48 178.37,77.26" fill="#fc8014" stroke="#6a3608" stroke-width="0.54"/><polygon points="186.42,78.48 194.47,79.78 197.9,78.17 189.9,76.86" fill="#fc8614" stroke="#6a3808" stroke-width="0.54"/><polygon points="197.9,78.17 205.9,79.57 209.27,78.02 201.32,76.6" fill="#fc8d14" stroke="#6a3b08" stroke-width="0.53"/><polygon points="209.27,78.02 217.22,79.52 220.54,78.02 212.64,76.5" fill="#fc9614" stroke="#6a3f08" stroke-width="0.53"/><polygon points="220.54,78.02 228.44,79.63 231.7,78.17 223.86,76.55" fill="#fca114" stroke="#6a4308" stroke-width="0.52"/><polygon points="231.7,78.17 239.54,79.88 242.75,78.47 234.96,76.75" fill="#fcad14" stroke="#6a4908" stroke-width="0.52"/><polygon points="242.75,78.47 250.53,80.28 253.69,78.91 245.96,77.1" fill="#fcbb14" stroke="#6a4f08" stroke-width="0.51"/><polygon points="253.69,78.91 261.41,80.82 264.51,79.5 256.84,77.58" fill="#fccb14" stroke="#6a5508" stroke-width="0.51"/><polygon points="159.58,81.34 167.79,82.42 171.31,80.66 163.16,79.56" fill="#fc7a14" stroke="#6a3308" stroke-width="0.55"/><polygon points="217.22,79.52 225.17,81.12 228.44,79.63 220.54,78.02" fill="#fc9a14" stroke="#6a4108" stroke-width="0.53"/><polygon points="250.53,80.28 258.3,82.18 261.41,80.82 253.69,78.91" fill="#fcc314" stroke="#6a5208" stroke-width="0.51"/><polygon points="171.31,80.66 179.47,81.84 182.94,80.14 174.84,78.94" fill="#fc7d14" stroke="#6a3408" stroke-width="0.55"/><polygon points="182.94,80.14 191.05,81.43 194.47,79.78 186.42,78.48" fill="#fc8214" stroke="#6a3608" stroke-width="0.54"/><polygon points="194.47,79.78 202.53,81.17 205.9,79.57 197.9,78.17" fill="#fc8814" stroke="#6a3908" stroke-width="0.54"/><polygon points="205.9,79.57 213.9,81.07 217.22,79.52 209.27,78.02" fill="#fc9014" stroke="#6a3d08" stroke-width="0.53"/><polygon points="228.44,79.63 236.32,81.32 239.54,79.88 231.7,78.17" fill="#fca614" stroke="#6a4608" stroke-width="0.52"/><polygon points="239.54,79.88 247.37,81.68 250.53,80.28 242.75,78.47" fill="#fcb314" stroke="#6a4b08" stroke-width="0.52"/><polygon points="167.79,82.42 175.99,83.59 179.47,81.84 171.31,80.66" fill="#fc7a14" stroke="#6a3308" stroke-width="0.56"/><polygon points="191.05,81.43 199.15,82.8 202.53,81.17 194.47,79.78" fill="#fc8314" stroke="#6a3708" stroke-width="0.55"/><polygon points="213.9,81.07 221.9,82.65 225.17,81.12 217.22,79.52" fill="#fc9414" stroke="#6a3e08" stroke-width="0.54"/><polygon points="225.17,81.12 233.11,82.8 236.32,81.32 228.44,79.63" fill="#fc9f14" stroke="#6a4308" stroke-width="0.53"/><polygon points="247.37,81.68 255.19,83.56 258.3,82.18 250.53,80.28" fill="#fcbb14" stroke="#6a4e08" stroke-width="0.52"/><polygon points="179.47,81.84 187.62,83.11 191.05,81.43 182.94,80.14" fill="#fc7e14" stroke="#6a3508" stroke-width="0.55"/><polygon points="202.53,81.17 210.58,82.64 213.9,81.07 205.9,79.57" fill="#fc8b14" stroke="#6a3a08" stroke-width="0.54"/><polygon points="236.32,81.32 244.21,83.11 247.37,81.68 239.54,79.88" fill="#fcac14" stroke="#6a4808" stroke-width="0.53"/><polygon points="187.62,83.11 195.78,84.47 199.15,82.8 191.05,81.43" fill="#fc7f14" stroke="#6a3508" stroke-width="0.55"/><polygon points="210.58,82.64 218.63,84.21 221.9,82.65 213.9,81.07" fill="#fc8f14" stroke="#6a3c08" stroke-width="0.54"/><polygon points="175.99,83.59 184.19,84.84 187.62,83.11 179.47,81.84" fill="#fc7a14" stroke="#6a3308" stroke-width="0.56"/><polygon points="199.15,82.8 207.25,84.26 210.58,82.64 202.53,81.17" fill="#fc8614" stroke="#6a3808" stroke-width="0.55"/><polygon points="221.9,82.65 229.89,84.32 233.11,82.8 225.17,81.12" fill="#fc9914" stroke="#6a4008" stroke-width="0.54"/><polygon points="233.11,82.8 241.04,84.57 244.21,83.11 236.32,81.32" fill="#fca514" stroke="#6a4508" stroke-width="0.53"/><polygon points="244.21,83.11 252.08,84.98 255.19,83.56 247.37,81.68" fill="#fcb314" stroke="#6a4b08" stroke-width="0.53"/><polygon points="184.19,84.84 192.4,86.18 195.78,84.47 187.62,83.11" fill="#fc7c14" stroke="#6a3408" stroke-width="0.56"/><polygon points="195.78,84.47 203.93,85.92 207.25,84.26 199.15,82.8" fill="#fc8214" stroke="#6a3708" stroke-width="0.56"/><polygon points="207.25,84.26 215.35,85.81 218.63,84.21 210.58,82.64" fill="#fc8a14" stroke="#6a3a08" stroke-width="0.55"/><polygon points="218.63,84.21 226.67,85.87 229.89,84.32 221.9,82.65" fill="#fc9314" stroke="#6a3e08" stroke-width="0.54"/><polygon points="241.04,84.57 248.97,86.44 252.08,84.98 244.21,83.11" fill="#fcac14" stroke="#6a4808" stroke-width="0.53"/><polygon points="229.89,84.32 237.88,86.08 241.04,84.57 233.11,82.8" fill="#fc9f14" stroke="#6a4308" stroke-width="0.54"/><polygon points="192.4,86.18 200.6,87.62 203.93,85.92 195.78,84.47" fill="#fc7e14" stroke="#6a3508" stroke-width="0.56"/><polygon points="203.93,85.92 212.08,87.46 215.35,85.81 207.25,84.26" fill="#fc8514" stroke="#6a3808" stroke-width="0.56"/><polygon points="215.35,85.81 223.45,87.46 226.67,85.87 218.63,84.21" fill="#fc8e14" stroke="#6a3c08" stroke-width="0.55"/><polygon points="226.67,85.87 234.71,87.62 237.88,86.08 229.89,84.32" fill="#fc9914" stroke="#6a4008" stroke-width="0.55"/><polygon points="237.88,86.08 245.86,87.93 248.97,86.44 241.04,84.57" fill="#fca514" stroke="#6a4508" stroke-width="0.54"/><polygon points="200.6,87.62 208.8,89.14 212.08,87.46 203.93,85.92" fill="#fc8114" stroke="#6a3608" stroke-width="0.57"/><polygon points="212.08,87.46 220.22,89.09 223.45,87.46 215.35,85.81" fill="#fc8914" stroke="#6a3a08" stroke-width="0.56"/><polygon points="223.45,87.46 231.54,89.19 234.71,87.62 226.67,85.87" fill="#fc9314" stroke="#6a3e08" stroke-width="0.55"/><polygon points="234.71,87.62 242.74,89.46 245.86,87.93 237.88,86.08" fill="#fc9f14" stroke="#6a4308" stroke-width="0.55"/><polygon points="208.8,89.14 217,90.76 220.22,89.09 212.08,87.46" fill="#fc8514" stroke="#6a3808" stroke-width="0.57"/><polygon points="231.54,89.19 239.62,91.02 242.74,89.46 234.71,87.62" fill="#fc9914" stroke="#6a4008" stroke-width="0.56"/><polygon points="220.22,89.09 228.36,90.81 231.54,89.19 223.45,87.46" fill="#fc8e14" stroke="#6a3c08" stroke-width="0.56"/><polygon points="228.36,90.81 236.5,92.63 239.62,91.02 231.54,89.19" fill="#fc9314" stroke="#6a3e08" stroke-width="0.56"/><polygon points="217,90.76 225.19,92.47 228.36,90.81 220.22,89.09" fill="#fc8914" stroke="#6a3a08" stroke-width="0.57"/><polygon points="225.19,92.47 233.38,94.27 236.5,92.63 228.36,90.81" fill="#fc8e14" stroke="#6a3c08" stroke-width="0.57"/></g>
<circle cx="187.6" cy="59.7" r="2.6" fill="#c80000" stroke="#700000" stroke-width="0.6"/>
<g fill="#111"><circle cx="74.21" cy="174.54" r="1.1"/><circle cx="72.79" cy="143.53" r="1.1"/><circle cx="71.36" cy="112.52" r="1.1"/><circle cx="69.93" cy="81.51" r="1.1"/><circle cx="68.5" cy="50.5" r="1.1"/><circle cx="76" cy="213.3" r="1.1"/><circle cx="106.96" cy="219.94" r="1.1"/><circle cx="137.92" cy="226.58" r="1.1"/><circle cx="168.88" cy="233.22" r="1.1"/><circle cx="199.84" cy="239.86" r="1.1"/><circle cx="230.8" cy="246.5" r="1.1"/><circle cx="230.8" cy="246.5" r="1.1"/><circle cx="239.37" cy="237.29" r="1.1"/><circle cx="247.94" cy="228.07" r="1.1"/><circle cx="256.51" cy="218.86" r="1.1"/><circle cx="265.09" cy="209.64" r="1.1"/><circle cx="273.66" cy="200.43" r="1.1"/><circle cx="282.23" cy="191.21" r="1.1"/><circle cx="290.8" cy="182" r="1.1"/></g>
<g style="filter:grayscale(1)" font-family="Liberation Sans, sans-serif" font-size="5.9" fill="#404040" stroke="#404040" stroke-width="0.12"><text x="69.61" y="172.95" text-anchor="middle" textLength="2.82" lengthAdjust="spacingAndGlyphs">1</text><text x="68.19" y="141.94" text-anchor="middle" textLength="2.82" lengthAdjust="spacingAndGlyphs">2</text><text x="66.76" y="110.93" text-anchor="middle" textLength="2.82" lengthAdjust="spacingAndGlyphs">3</text><text x="65.33" y="79.92" text-anchor="middle" textLength="2.82" lengthAdjust="spacingAndGlyphs">4</text><text x="63.9" y="48.91" text-anchor="middle" textLength="2.82" lengthAdjust="spacingAndGlyphs">5</text><text x="73" y="218.91" text-anchor="end" textLength="12.7" lengthAdjust="spacingAndGlyphs">0.015</text><text x="103.96" y="225.55" text-anchor="end" textLength="12.7" lengthAdjust="spacingAndGlyphs">0.013</text><text x="134.92" y="232.19" text-anchor="end" textLength="12.32" lengthAdjust="spacingAndGlyphs">0.011</text><text x="165.88" y="238.83" text-anchor="end" textLength="12.7" lengthAdjust="spacingAndGlyphs">0.009</text><text x="196.84" y="245.47" text-anchor="end" textLength="12.7" lengthAdjust="spacingAndGlyphs">0.007</text><text x="227.8" y="252.11" text-anchor="end" textLength="12.7" lengthAdjust="spacingAndGlyphs">0.005</text><text x="233.9" y="251.91" text-anchor="start" textLength="12.7" lengthAdjust="spacingAndGlyphs">0.035</text><text x="242.47" y="242.7" text-anchor="start" textLength="12.7" lengthAdjust="spacingAndGlyphs">0.045</text><text x="251.04" y="233.48" text-anchor="start" textLength="12.7" lengthAdjust="spacingAndGlyphs">0.055</text><text x="259.61" y="224.27" text-anchor="start" textLength="12.7" lengthAdjust="spacingAndGlyphs">0.065</text><text x="268.19" y="215.06" text-anchor="start" textLength="12.7" lengthAdjust="spacingAndGlyphs">0.075</text><text x="276.76" y="205.84" text-anchor="start" textLength="12.7" lengthAdjust="spacingAndGlyphs">0.085</text><text x="285.33" y="196.63" text-anchor="start" textLength="12.7" lengthAdjust="spacingAndGlyphs">0.095</text><text x="293.9" y="187.41" text-anchor="start" textLength="12.7" lengthAdjust="spacingAndGlyphs">0.105</text></g>
<g stroke="#9c9c9c" stroke-width="0.9" fill="none"><line x1="423.34" y1="166.03" x2="418.06" y2="42.64"/><line x1="434.71" y1="158.72" x2="430.01" y2="37.59"/><line x1="446.07" y1="151.41" x2="441.97" y2="32.53"/><line x1="457.44" y1="144.1" x2="453.93" y2="27.47"/><line x1="468.81" y1="136.79" x2="465.89" y2="22.41"/><line x1="480.18" y1="129.48" x2="477.84" y2="17.36"/><line x1="519.7" y1="126.65" x2="519.24" y2="15.4"/><line x1="547.84" y1="131.14" x2="548.68" y2="18.5"/><line x1="575.99" y1="135.63" x2="578.12" y2="21.6"/><line x1="604.13" y1="140.11" x2="607.56" y2="24.7"/></g>
<g stroke="#626262" stroke-width="0.9" fill="none"><polyline points="411.97,173.34 491.55,122.17 632.28,144.6"/><polyline points="410.5,141.93 491.11,94.7 633.46,115.4"/><polyline points="409.03,110.52 490.68,67.23 634.64,86.2"/><polyline points="407.57,79.11 490.24,39.77 635.82,57"/></g>
<line x1="413.8" y1="212.6" x2="411.97" y2="173.34" stroke="#b0b0b0" stroke-width="1"/>
<line x1="411.97" y1="173.34" x2="406.1" y2="47.7" stroke="#7a7a7a" stroke-width="1"/>
<line x1="492.1" y1="156.5" x2="489.8" y2="12.3" stroke="#8a8a8a" stroke-width="1"/>
<line x1="630.8" y1="181.1" x2="632.28" y2="144.6" stroke="#b8b8b8" stroke-width="1"/>
<line x1="632.28" y1="144.6" x2="637" y2="27.8" stroke="#a5a5a5" stroke-width="1"/>
<polyline points="406.1,47.7 489.8,12.3 637,27.8" fill="none" stroke="#606060" stroke-width="1"/>
<polygon points="413.8,212.6 570.3,246.3 630.8,181.1 492.1,156.5" fill="#646464" stroke="#2e2e2e" stroke-width="0.9" stroke-linejoin="round"/>
<polyline points="437.03,195.96 438,196.13 438.97,196.31 439.93,196.49 440.89,196.68 441.83,196.87 442.77,197.07 443.7,197.27 444.62,197.48 445.54,197.7 446.44,197.92 447.34,198.15 448.23,198.38 449.11,198.63 449.34,198.69 449.98,198.88 450.84,199.13 451.69,199.4 452.54,199.67 453.37,199.95 453.55,200.01 454.19,200.24 455,200.53 455.8,200.84 456.27,201.02 456.59,201.15 457.36,201.48 458.13,201.81 458.33,201.91 458.88,202.16 459.62,202.51 460,202.71 460.34,202.88 461.05,203.26 461.4,203.45 461.75,203.65 462.43,204.05 462.6,204.16 463.09,204.46 463.65,204.83 463.74,204.89 464.37,205.34 464.56,205.48 464.98,205.8 465.37,206.11 465.58,206.28 466.09,206.71 466.15,206.77 466.7,207.28 466.73,207.31 467.23,207.81 467.31,207.89 467.74,208.36 467.82,208.46 468.22,208.93 468.29,209.01 468.68,209.53 468.7,209.56 469.08,210.1 469.11,210.15 469.41,210.63 469.5,210.79 469.7,211.15 469.87,211.47 469.97,211.67 470.2,212.17 470.2,212.18 470.4,212.69 470.49,212.91 470.58,213.19 470.74,213.68 470.74,213.68 470.86,214.17 470.94,214.49 470.97,214.66 471.06,215.14 471.09,215.35 471.13,215.62 471.18,216.1 471.19,216.26 471.21,216.57 471.22,217.04 471.22,217.22 471.22,217.5 471.2,217.96 471.19,218.24 471.17,218.42 471.13,218.88 471.07,219.33 471.07,219.33 471,219.78 470.92,220.23 470.86,220.5 470.82,220.67 470.71,221.12 470.6,221.56 470.54,221.77 470.47,222 470.33,222.44 470.18,222.87 470.08,223.16 470.02,223.3 469.86,223.74 469.68,224.17 469.5,224.59" fill="none" stroke="#cc602e" stroke-width="1.35" stroke-linecap="round"/>
<polyline points="454.95,183.12 456.01,183.2 457.07,183.28 458.12,183.36 458.38,183.38 459.17,183.45 460.21,183.54 461.25,183.63 462.28,183.73 462.6,183.76 463.31,183.83 464.33,183.94 465.34,184.04 466.36,184.16 467.36,184.27 467.69,184.31 468.36,184.39 469.35,184.51 470.34,184.64 471.32,184.77 472.3,184.91 473.27,185.05 474.23,185.2 475.19,185.34 475.65,185.42 476.14,185.5 477.08,185.66 478.02,185.82 478.95,185.99 479.87,186.16 480.79,186.34 481.7,186.53 482.6,186.72 483.5,186.91 484.39,187.11 484.73,187.19 485.27,187.32 486.14,187.54 487,187.76 487.86,187.98 488.71,188.22 489.55,188.46 490.38,188.71 490.8,188.84 491.2,188.96 492.01,189.22 492.81,189.5 493.61,189.77 494,189.92 494.39,190.06 495.16,190.36 495.92,190.66 496.33,190.83 496.67,190.98 497.41,191.3 498.14,191.64 498.17,191.65 498.86,191.98 499.56,192.34 499.69,192.41 500.25,192.71 500.93,193.08 500.99,193.12 501.59,193.48 502.12,193.8 502.24,193.88 502.88,194.3 503.11,194.46 503.49,194.73 503.98,195.09 504.1,195.17 504.68,195.64 504.76,195.7 505.25,196.11 505.46,196.3 505.8,196.61 506.08,196.88 506.32,197.12 506.65,197.46 506.83,197.65 507.16,198.02 507.32,198.21 507.62,198.57 507.78,198.78 508.03,199.12 508.22,199.38 508.4,199.65 508.63,200 508.74,200.18 509.01,200.64 509.04,200.71 509.32,201.22 509.36,201.32 509.56,201.74 509.68,202.02 509.77,202.24 509.96,202.74 509.97,202.76 510.13,203.24 510.21,203.53 510.27,203.73 510.39,204.22 510.42,204.34 510.49,204.71 510.58,205.19 510.58,205.2 510.64,205.67 510.69,206.1 510.69,206.14 510.72,206.62 510.74,207.05 510.74,207.09 510.74,207.55 510.73,208.02 510.73,208.06 510.7,208.48 510.67,208.94 510.65,209.13 510.62,209.39 510.55,209.85 510.48,210.29 510.48,210.3 510.4,210.75 510.3,211.2 510.22,211.53 510.2,211.64 510.08,212.09 509.95,212.53 509.85,212.87 509.82,212.97 509.68,213.41 509.52,213.84 509.36,214.28 509.34,214.34 509.19,214.71 509.02,215.15 508.83,215.58 508.66,215.96 508.64,216.01 508.44,216.43 508.24,216.86 508.02,217.29 507.8,217.71 507.76,217.79 507.58,218.13 507.34,218.55 507.1,218.97 506.86,219.39 506.61,219.81 506.56,219.89 506.35,220.23 506.08,220.64 505.81,221.06 505.54,221.47 505.26,221.88 504.98,222.29 504.9,222.4 504.69,222.7 504.39,223.11 504.09,223.52 503.78,223.93 503.47,224.34 503.16,224.74 502.84,225.14 502.52,225.55 502.46,225.62 502.19,225.95 501.85,226.35 501.52,226.75 501.18,227.15 500.83,227.55 500.48,227.95 500.13,228.35 499.77,228.74 499.41,229.14 499.04,229.53 498.67,229.93 498.3,230.32 497.97,230.67 497.92,230.72" fill="none" stroke="#cc862e" stroke-width="1.35" stroke-linecap="round"/>
<polyline points="470.02,172.32 470.32,172.32 471.13,172.34 472.24,172.36 472.9,172.37 473.34,172.38 474.44,172.4 475.54,172.43 475.56,172.43 476.63,172.45 477.71,172.48 478.32,172.5 478.8,172.52 479.88,172.55 480.95,172.59 481.2,172.6 482.02,172.63 483.08,172.67 484.15,172.72 484.21,172.72 485.2,172.76 486.26,172.81 487.3,172.87 487.41,172.87 488.35,172.92 489.39,172.98 490.42,173.04 490.85,173.07 491.45,173.11 492.47,173.18 493.49,173.25 494.51,173.32 494.62,173.33 495.52,173.4 496.53,173.48 497.53,173.56 498.52,173.65 498.93,173.69 499.51,173.74 500.5,173.84 501.48,173.93 502.45,174.04 503.42,174.14 504.29,174.24 504.39,174.25 505.35,174.36 506.3,174.48 507.25,174.6 508.19,174.73 509.13,174.86 510.06,174.99 510.98,175.13 511.9,175.28 512.82,175.42 513.72,175.58 514.62,175.74 515.52,175.9 516.4,176.07 517.28,176.24 518.16,176.42 519.02,176.61 519.88,176.8 520.74,176.99 521.58,177.2 522.42,177.41 523.25,177.62 524.07,177.84 524.89,178.07 524.95,178.09 525.69,178.31 526.49,178.55 527.28,178.8 528.06,179.06 528.47,179.2 528.83,179.33 529.59,179.6 530.35,179.89 530.95,180.12 531.09,180.18 531.82,180.48 532.55,180.79 532.88,180.94 533.26,181.11 533.96,181.44 534.48,181.7 534.65,181.78 535.33,182.13 535.84,182.41 535.99,182.5 536.65,182.87 537.01,183.09 537.29,183.26 537.91,183.66 538.04,183.74 538.53,184.07 538.96,184.38 539.13,184.5 539.71,184.94 539.77,184.99 540.28,185.4 540.5,185.59 540.83,185.87 541.16,186.17 541.36,186.36 541.76,186.75 541.87,186.86 542.3,187.31 542.37,187.39 542.79,187.87 542.85,187.93 543.23,188.41 543.3,188.5 543.63,188.95 543.73,189.09 544,189.48 544.14,189.7 544.33,190.01 544.52,190.34 544.63,190.53 544.87,191 544.9,191.05 545.14,191.56 545.2,191.69 545.35,192.06 545.49,192.41 545.55,192.56 545.72,193.06 545.75,193.17 545.86,193.56 545.97,193.96 545.99,194.05 546.1,194.53 546.16,194.8 546.2,195.02 546.27,195.5 546.3,195.67 546.33,195.97 546.37,196.45 546.38,196.59 546.4,196.92 546.42,197.39 546.42,197.57 546.42,197.86 546.41,198.32 546.4,198.61 546.38,198.79 546.35,199.25 546.3,199.71 546.3,199.71 546.24,200.16 546.17,200.62 546.13,200.89 546.1,201.07 546.01,201.52 545.91,201.97 545.87,202.16 545.8,202.42 545.68,202.86 545.56,203.31 545.49,203.53 545.43,203.75 545.28,204.19 545.13,204.63 544.99,205.03 544.98,205.07 544.81,205.51 544.64,205.95 544.46,206.38 544.33,206.69 544.28,206.81 544.08,207.25 543.88,207.68 543.68,208.11 543.47,208.54 543.46,208.54 543.25,208.96 543.02,209.39 542.79,209.81 542.56,210.24 542.32,210.66 542.31,210.67 542.07,211.08 541.82,211.51 541.56,211.93 541.3,212.35 541.03,212.76 540.76,213.18 540.76,213.18 540.48,213.6 540.2,214.01 539.91,214.43 539.62,214.84 539.32,215.25 539.02,215.67 538.72,216.08 538.51,216.36 538.41,216.49 538.1,216.9 537.78,217.31 537.46,217.71 537.13,218.12 536.8,218.53 536.47,218.93 536.13,219.34 535.79,219.74 535.45,220.15 535.1,220.55 534.75,220.95 534.67,221.05 534.4,221.35 534.04,221.75 533.68,222.15 533.31,222.55 532.94,222.95 532.57,223.35 532.19,223.75 531.82,224.14 531.43,224.54 531.05,224.93 530.66,225.33 530.27,225.72 529.88,226.12 529.48,226.51 529.08,226.9 528.68,227.29 528.27,227.68 527.86,228.07 527.45,228.46 527.04,228.85 526.62,229.24 526.2,229.63 525.78,230.02 525.35,230.4 524.92,230.79 524.49,231.17 524.06,231.56 523.62,231.94 523.19,232.33 522.74,232.71 522.3,233.09 521.86,233.48 521.41,233.86 520.96,234.24 520.5,234.62 520.05,235 519.59,235.38" fill="none" stroke="#ccab2e" stroke-width="1.35" stroke-linecap="round"/>
<polyline points="484.68,161.82 485.04,161.81 485.82,161.79 486.96,161.76 487.14,161.75 488.1,161.73 489.23,161.7 489.28,161.7 490.36,161.67 491.45,161.65 491.49,161.65 492.61,161.63 493.65,161.61 493.73,161.61 494.85,161.59 495.89,161.57 495.96,161.57 497.07,161.55 498.17,161.54 498.17,161.54 499.28,161.53 500.37,161.52 500.49,161.51 501.47,161.51 502.56,161.5 502.87,161.5 503.65,161.5 504.73,161.49 505.31,161.49 505.81,161.49 506.89,161.49 507.81,161.5 507.96,161.5 509.03,161.5 510.09,161.51 510.38,161.51 511.15,161.52 512.21,161.53 513.04,161.54 513.26,161.55 514.31,161.56 515.36,161.58 515.81,161.59 516.4,161.61 517.44,161.63 518.47,161.66 518.7,161.66 519.5,161.69 520.52,161.72 521.54,161.75 521.75,161.76" fill="none" stroke="#c4cc2e" stroke-width="1.35" stroke-linecap="round"/>
<polyline points="570.83,170.46 570.95,170.53 571.6,170.87 572.09,171.15 572.24,171.23 572.87,171.6 573.2,171.8 573.49,171.98 574.09,172.38 574.18,172.44 574.68,172.79 575.05,173.05 575.26,173.21 575.82,173.65 575.83,173.65 576.37,174.1 576.54,174.24 576.91,174.56 577.18,174.82 577.42,175.05 577.76,175.38 577.92,175.55 578.29,175.94 578.41,176.07 578.77,176.49 578.87,176.61 579.21,177.03 579.31,177.16 579.61,177.57 579.74,177.74 579.98,178.1 580.14,178.35 580.31,178.62 580.52,178.97 580.61,179.14 580.87,179.63 580.89,179.66 581.14,180.16 581.2,180.31 581.36,180.67 581.5,181.02 581.56,181.17 581.74,181.67 581.77,181.76 581.9,182.17 582.01,182.53 582.04,182.66 582.16,183.15 582.21,183.35 582.27,183.63 582.36,184.12 582.37,184.2 582.43,184.6 582.49,185.07 582.49,185.1 582.53,185.55 582.56,186.02 582.56,186.04 582.58,186.49 582.58,186.96 582.58,187.04 582.58,187.43 582.56,187.9 582.55,188.1 582.53,188.36 582.49,188.82 582.45,189.23 582.44,189.28 582.38,189.74 582.31,190.2 582.27,190.44 582.23,190.65 582.14,191.1 582.05,191.56 582.01,191.74 581.94,192.01 581.83,192.46 581.71,192.9 581.64,193.14 581.58,193.35 581.44,193.8 581.3,194.24 581.15,194.67 581.15,194.68 580.99,195.12 580.83,195.56 580.66,196 580.52,196.35 580.48,196.44 580.3,196.88 580.11,197.32 579.91,197.75 579.71,198.19 579.69,198.23 579.5,198.62 579.29,199.05 579.07,199.48 578.85,199.91 578.62,200.34 578.6,200.38 578.39,200.77 578.15,201.2 577.91,201.62 577.66,202.05 577.41,202.47 577.15,202.9 577.15,202.9 576.89,203.32 576.62,203.74 576.35,204.17 576.07,204.59 575.79,205.01 575.51,205.43 575.22,205.84 575.1,206.02 574.93,206.26 574.63,206.68 574.33,207.1 574.03,207.51 573.72,207.93 573.41,208.34 573.1,208.75 572.78,209.17 572.46,209.58 572.13,209.99 571.81,210.4 571.8,210.41 571.47,210.81 571.14,211.22 570.8,211.63 570.46,212.04 570.11,212.45 569.76,212.85 569.41,213.26 569.06,213.67 568.7,214.07 568.34,214.48 567.97,214.88 567.61,215.29 567.24,215.69 566.86,216.09 566.49,216.49 566.11,216.89 565.73,217.3 565.34,217.7 564.96,218.1 564.57,218.49 564.18,218.89 563.78,219.29 563.39,219.69 562.99,220.09 562.58,220.48 562.18,220.88 561.77,221.27 561.36,221.67 560.95,222.06 560.53,222.46 560.12,222.85 559.7,223.24 559.27,223.64 558.85,224.03 558.42,224.42 557.99,224.81 557.56,225.2 557.13,225.59 556.69,225.98 556.25,226.37 555.81,226.76 555.37,227.15 554.93,227.53 554.48,227.92 554.03,228.31 553.58,228.69 553.13,229.08 552.81,229.34 552.67,229.46 552.21,229.85 551.75,230.23 551.29,230.62 550.83,231 550.36,231.38 549.89,231.77 549.42,232.15 548.95,232.53 548.48,232.91 548,233.29 547.52,233.67 547.05,234.05 546.56,234.43 546.44,234.53 546.08,234.81 545.6,235.19 545.11,235.57 544.62,235.94 544.13,236.32 543.63,236.7 543.14,237.07 542.64,237.45 542.15,237.82 541.65,238.2 541.31,238.45 541.14,238.57 540.64,238.95 540.13,239.32 539.63,239.7" fill="none" stroke="#c4cc2e" stroke-width="1.35" stroke-linecap="round"/>
<polyline points="612.98,177.94 612.96,178.41 612.95,178.55 612.92,178.87 612.88,179.33 612.84,179.7 612.83,179.79 612.77,180.25 612.7,180.71 612.66,180.94 612.62,181.17 612.53,181.62 612.43,182.08 612.39,182.26 612.33,182.53 612.22,182.98 612.1,183.43 612.03,183.7 611.98,183.88 611.85,184.33 611.71,184.78 611.56,185.23 611.55,185.26 611.41,185.67 611.25,186.11 611.09,186.56 610.93,186.97 610.92,187 610.74,187.44 610.56,187.88 610.38,188.32 610.18,188.76 610.13,188.89 609.99,189.2 609.78,189.63 609.57,190.07 609.36,190.51 609.14,190.94 609.08,191.06 608.92,191.37 608.69,191.81 608.46,192.24 608.23,192.67 607.98,193.1 607.74,193.53 607.7,193.6 607.49,193.96 607.24,194.39 606.98,194.81 606.71,195.24 606.45,195.67 606.18,196.09 605.91,196.52 605.77,196.72 605.63,196.94 605.35,197.37 605.06,197.79 604.77,198.21 604.48,198.63 604.18,199.05 603.88,199.47 603.58,199.89 603.27,200.31 602.97,200.73 602.77,200.99 602.65,201.15 602.34,201.57 602.02,201.98 601.69,202.4 601.37,202.82 601.04,203.23 600.71,203.64 600.37,204.06 600.03,204.47 599.69,204.88 599.35,205.3 599,205.71 598.65,206.12 598.3,206.53 597.95,206.94 597.59,207.35 597.23,207.76 596.87,208.17 596.5,208.58 596.13,208.98 595.76,209.39 595.39,209.8 595.01,210.2 594.63,210.61 594.25,211.02 593.87,211.42 593.48,211.82 593.1,212.23 592.7,212.63 592.31,213.03 591.92,213.44 591.52,213.84 591.12,214.24 590.72,214.64 590.31,215.04 589.9,215.44 589.49,215.84 589.08,216.24 588.67,216.64 588.25,217.04 587.84,217.43 587.42,217.83 586.99,218.23 586.57,218.62 586.14,219.02 585.71,219.42 585.28,219.81 584.85,220.21 584.42,220.6 583.98,220.99 583.54,221.39 583.1,221.78 582.66,222.17 582.51,222.31 582.21,222.56 581.77,222.96 581.32,223.35 580.87,223.74 580.42,224.13 579.96,224.52 579.51,224.91 579.05,225.3 578.59,225.69 578.13,226.07 577.66,226.46 577.2,226.85 576.73,227.24 576.51,227.42 576.26,227.62 575.79,228.01 575.32,228.39 574.84,228.78 574.37,229.17 573.89,229.55 573.41,229.93 572.93,230.32 572.45,230.7 571.96,231.08 571.59,231.38 571.48,231.47 570.99,231.85 570.5,232.23 570.01,232.61 569.51,232.99 569.02,233.37 568.52,233.75 568.03,234.13 567.53,234.51 567.2,234.76 567.03,234.89 566.52,235.27 566.02,235.65 565.51,236.03 565,236.41 564.49,236.78 563.98,237.16 563.47,237.54 563.15,237.77 562.96,237.91 562.44,238.29 561.92,238.66 561.41,239.04 560.89,239.41 560.36,239.79 559.84,240.16 559.33,240.52 559.32,240.53 558.79,240.91 558.26,241.28 557.73,241.65 557.2,242.02 556.67,242.39 556.14,242.76 555.7,243.07 555.6,243.13" fill="none" stroke="#a0cc2e" stroke-width="1.35" stroke-linecap="round"/>
<g stroke-width="0.6" stroke-linejoin="round"><polygon points="486.17,45.45 493.47,45.46 497.57,45.05 490.32,45.11" fill="#defc14" stroke="#5d6a08" stroke-width="0.3"/><polygon points="482.01,45.8 489.37,45.89 493.47,45.46 486.17,45.45" fill="#effc14" stroke="#646a08" stroke-width="0.3"/><polygon points="493.47,45.46 500.78,45.59 504.83,45.11 497.57,45.05" fill="#e7fc14" stroke="#616a08" stroke-width="0.3"/><polygon points="489.37,45.89 496.73,46.1 500.78,45.59 493.47,45.46" fill="#f7fc14" stroke="#686a08" stroke-width="0.3"/><polygon points="477.85,46.18 485.26,46.34 489.37,45.89 482.01,45.8" fill="#fcf914" stroke="#6a6908" stroke-width="0.3"/><polygon points="500.78,45.59 508.1,45.86 512.1,45.3 504.83,45.11" fill="#effc14" stroke="#646a08" stroke-width="0.3"/><polygon points="485.26,46.34 492.67,46.63 496.73,46.1 489.37,45.89" fill="#fcf214" stroke="#6a6608" stroke-width="0.3"/><polygon points="496.73,46.1 504.1,46.44 508.1,45.86 500.78,45.59" fill="#fcfb14" stroke="#6a6908" stroke-width="0.3"/><polygon points="508.1,45.86 515.42,46.24 519.36,45.61 512.1,45.3" fill="#f5fc14" stroke="#676a08" stroke-width="0.3"/><polygon points="473.68,46.58 481.14,46.82 485.26,46.34 477.85,46.18" fill="#fcea14" stroke="#6a6208" stroke-width="0.3"/><polygon points="469.51,47.01 477.02,47.32 481.14,46.82 473.68,46.58" fill="#fcda14" stroke="#6a5c08" stroke-width="0.3"/><polygon points="481.14,46.82 488.61,47.18 492.67,46.63 485.26,46.34" fill="#fce314" stroke="#6a5f08" stroke-width="0.3"/><polygon points="492.67,46.63 500.09,47.04 504.1,46.44 496.73,46.1" fill="#fcec14" stroke="#6a6308" stroke-width="0.3"/><polygon points="504.1,46.44 511.47,46.9 515.42,46.24 508.1,45.86" fill="#fcf614" stroke="#6a6708" stroke-width="0.3"/><polygon points="515.42,46.24 522.74,46.76 526.64,46.05 519.36,45.61" fill="#f9fc14" stroke="#696a08" stroke-width="0.3"/><polygon points="511.47,46.9 518.85,47.5 522.74,46.76 515.42,46.24" fill="#fcf114" stroke="#6a6508" stroke-width="0.3"/><polygon points="465.33,47.45 472.9,47.84 477.02,47.32 469.51,47.01" fill="#fccb14" stroke="#6a5508" stroke-width="0.3"/><polygon points="477.02,47.32 484.54,47.76 488.61,47.18 481.14,46.82" fill="#fcd414" stroke="#6a5908" stroke-width="0.3"/><polygon points="488.61,47.18 496.08,47.67 500.09,47.04 492.67,46.63" fill="#fcde14" stroke="#6a5d08" stroke-width="0.3"/><polygon points="500.09,47.04 507.52,47.59 511.47,46.9 504.1,46.44" fill="#fce714" stroke="#6a6108" stroke-width="0.3"/><polygon points="522.74,46.76 530.07,47.4 533.91,46.61 526.64,46.05" fill="#fcfc14" stroke="#6a6a08" stroke-width="0.3"/><polygon points="461.15,47.93 468.77,48.4 472.9,47.84 465.33,47.45" fill="#fcbd14" stroke="#6a4f08" stroke-width="0.3"/><polygon points="484.54,47.76 492.07,48.33 496.08,47.67 488.61,47.18" fill="#fcd014" stroke="#6a5708" stroke-width="0.3"/><polygon points="507.52,47.59 514.95,48.26 518.85,47.5 511.47,46.9" fill="#fce414" stroke="#6a6008" stroke-width="0.3"/><polygon points="518.85,47.5 526.22,48.22 530.07,47.4 522.74,46.76" fill="#fcef14" stroke="#6a6408" stroke-width="0.3"/><polygon points="530.07,47.4 537.4,48.18 541.18,47.31 533.91,46.61" fill="#fcfa14" stroke="#6a6908" stroke-width="0.3"/><polygon points="472.9,47.84 480.47,48.36 484.54,47.76 477.02,47.32" fill="#fcc614" stroke="#6a5308" stroke-width="0.3"/><polygon points="496.08,47.67 503.56,48.3 507.52,47.59 500.09,47.04" fill="#fcda14" stroke="#6a5b08" stroke-width="0.3"/><polygon points="468.77,48.4 476.4,49 480.47,48.36 472.9,47.84" fill="#fcb814" stroke="#6a4d08" stroke-width="0.3"/><polygon points="492.07,48.33 499.6,49.04 503.56,48.3 496.08,47.67" fill="#fccc14" stroke="#6a5608" stroke-width="0.3"/><polygon points="526.22,48.22 533.6,49.08 537.4,48.18 530.07,47.4" fill="#fced14" stroke="#6a6408" stroke-width="0.32"/><polygon points="456.96,48.43 464.64,48.98 468.77,48.4 461.15,47.93" fill="#fcaf14" stroke="#6a4a08" stroke-width="0.3"/><polygon points="480.47,48.36 488.05,49.02 492.07,48.33 484.54,47.76" fill="#fcc214" stroke="#6a5208" stroke-width="0.3"/><polygon points="503.56,48.3 511.04,49.05 514.95,48.26 507.52,47.59" fill="#fcd714" stroke="#6a5a08" stroke-width="0.3"/><polygon points="514.95,48.26 522.38,49.07 526.22,48.22 518.85,47.5" fill="#fce214" stroke="#6a5f08" stroke-width="0.3"/><polygon points="537.4,48.18 544.72,49.09 548.46,48.13 541.18,47.31" fill="#fcf914" stroke="#6a6908" stroke-width="0.34"/><polygon points="464.64,48.98 472.32,49.66 476.4,49 468.77,48.4" fill="#fcab14" stroke="#6a4808" stroke-width="0.3"/><polygon points="476.4,49 484.03,49.73 488.05,49.02 480.47,48.36" fill="#fcb514" stroke="#6a4c08" stroke-width="0.3"/><polygon points="488.05,49.02 495.64,49.8 499.6,49.04 492.07,48.33" fill="#fcbf14" stroke="#6a5008" stroke-width="0.3"/><polygon points="499.6,49.04 507.13,49.87 511.04,49.05 503.56,48.3" fill="#fcca14" stroke="#6a5508" stroke-width="0.3"/><polygon points="522.38,49.07 529.81,50.01 533.6,49.08 526.22,48.22" fill="#fce114" stroke="#6a5f08" stroke-width="0.33"/><polygon points="533.6,49.08 540.98,50.07 544.72,49.09 537.4,48.18" fill="#fced14" stroke="#6a6408" stroke-width="0.35"/><polygon points="452.77,48.96 460.5,49.59 464.64,48.98 456.96,48.43" fill="#fca214" stroke="#6a4408" stroke-width="0.3"/><polygon points="511.04,49.05 518.52,49.94 522.38,49.07 514.95,48.26" fill="#fcd614" stroke="#6a5a08" stroke-width="0.32"/><polygon points="544.72,49.09 552.05,50.13 555.73,49.09 548.46,48.13" fill="#fcfa14" stroke="#6a6908" stroke-width="0.37"/><polygon points="448.58,49.52 456.37,50.23 460.5,49.59 452.77,48.96" fill="#fc9414" stroke="#6a3e08" stroke-width="0.3"/><polygon points="472.32,49.66 480.01,50.48 484.03,49.73 476.4,49" fill="#fca814" stroke="#6a4708" stroke-width="0.3"/><polygon points="484.03,49.73 491.67,50.6 495.64,49.8 488.05,49.02" fill="#fcb314" stroke="#6a4b08" stroke-width="0.3"/><polygon points="495.64,49.8 503.22,50.72 507.13,49.87 499.6,49.04" fill="#fcbe14" stroke="#6a5008" stroke-width="0.31"/><polygon points="507.13,49.87 514.67,50.85 518.52,49.94 511.04,49.05" fill="#fcca14" stroke="#6a5508" stroke-width="0.33"/><polygon points="518.52,49.94 526.01,50.96 529.81,50.01 522.38,49.07" fill="#fcd614" stroke="#6a5a08" stroke-width="0.35"/><polygon points="529.81,50.01 537.24,51.08 540.98,50.07 533.6,49.08" fill="#fce214" stroke="#6a5f08" stroke-width="0.37"/><polygon points="540.98,50.07 548.36,51.19 552.05,50.13 544.72,49.09" fill="#fcef14" stroke="#6a6408" stroke-width="0.39"/><polygon points="552.05,50.13 559.37,51.3 563.01,50.18 555.73,49.09" fill="#fcfc14" stroke="#6a6a08" stroke-width="0.41"/><polygon points="460.5,49.59 468.24,50.35 472.32,49.66 464.64,48.98" fill="#fc9e14" stroke="#6a4208" stroke-width="0.3"/><polygon points="491.67,50.6 499.31,51.6 503.22,50.72 495.64,49.8" fill="#fcb214" stroke="#6a4b08" stroke-width="0.33"/><polygon points="514.67,50.85 522.2,51.95 526.01,50.96 518.52,49.94" fill="#fcca14" stroke="#6a5508" stroke-width="0.37"/><polygon points="548.36,51.19 555.73,52.45 559.37,51.3 552.05,50.13" fill="#fcf114" stroke="#6a6508" stroke-width="0.42"/><polygon points="456.37,50.23 464.16,51.07 468.24,50.35 460.5,49.59" fill="#fc9214" stroke="#6a3d08" stroke-width="0.3"/><polygon points="480.01,50.48 487.7,51.43 491.67,50.6 484.03,49.73" fill="#fca714" stroke="#6a4608" stroke-width="0.31"/><polygon points="444.39,50.1 452.23,50.9 456.37,50.23 448.58,49.52" fill="#fc8814" stroke="#6a3908" stroke-width="0.3"/><polygon points="468.24,50.35 475.98,51.25 480.01,50.48 472.32,49.66" fill="#fc9c14" stroke="#6a4208" stroke-width="0.3"/><polygon points="503.22,50.72 510.81,51.78 514.67,50.85 507.13,49.87" fill="#fcbe14" stroke="#6a5008" stroke-width="0.35"/><polygon points="526.01,50.96 533.49,52.12 537.24,51.08 529.81,50.01" fill="#fcd714" stroke="#6a5a08" stroke-width="0.39"/><polygon points="537.24,51.08 544.66,52.29 548.36,51.19 540.98,50.07" fill="#fce414" stroke="#6a6008" stroke-width="0.4"/><polygon points="559.37,51.3 566.69,52.61 570.27,51.4 563.01,50.18" fill="#fafc14" stroke="#696a08" stroke-width="0.44"/><polygon points="440.19,50.72 448.08,51.6 452.23,50.9 444.39,50.1" fill="#fc7c14" stroke="#6a3408" stroke-width="0.3"/><polygon points="464.16,51.07 471.95,52.06 475.98,51.25 468.24,50.35" fill="#fc9114" stroke="#6a3d08" stroke-width="0.31"/><polygon points="487.7,51.43 495.39,52.52 499.31,51.6 491.67,50.6" fill="#fca714" stroke="#6a4608" stroke-width="0.35"/><polygon points="499.31,51.6 506.95,52.75 510.81,51.78 503.22,50.72" fill="#fcb314" stroke="#6a4b08" stroke-width="0.37"/><polygon points="510.81,51.78 518.4,52.97 522.2,51.95 514.67,50.85" fill="#fcc014" stroke="#6a5008" stroke-width="0.38"/><polygon points="522.2,51.95 529.74,53.2 533.49,52.12 526.01,50.96" fill="#fccc14" stroke="#6a5608" stroke-width="0.4"/><polygon points="544.66,52.29 552.09,53.64 555.73,52.45 548.36,51.19" fill="#fce714" stroke="#6a6108" stroke-width="0.44"/><polygon points="555.73,52.45 563.1,53.85 566.69,52.61 559.37,51.3" fill="#fcf514" stroke="#6a6708" stroke-width="0.46"/><polygon points="566.69,52.61 574,54.06 577.54,52.76 570.27,51.4" fill="#f5fc14" stroke="#676a08" stroke-width="0.47"/><polygon points="452.23,50.9 460.07,51.83 464.16,51.07 456.37,50.23" fill="#fc8614" stroke="#6a3808" stroke-width="0.3"/><polygon points="475.98,51.25 483.72,52.29 487.7,51.43 480.01,50.48" fill="#fc9c14" stroke="#6a4108" stroke-width="0.33"/><polygon points="533.49,52.12 540.97,53.42 544.66,52.29 537.24,51.08" fill="#fcd914" stroke="#6a5b08" stroke-width="0.42"/><polygon points="506.95,52.75 514.59,54.03 518.4,52.97 510.81,51.78" fill="#fcb514" stroke="#6a4c08" stroke-width="0.4"/><polygon points="563.1,53.85 570.47,55.38 574,54.06 566.69,52.61" fill="#fcfa14" stroke="#6a6908" stroke-width="0.49"/><polygon points="448.08,51.6 455.98,52.61 460.07,51.83 452.23,50.9" fill="#fc7b14" stroke="#6a3308" stroke-width="0.31"/><polygon points="471.95,52.06 479.75,53.18 483.72,52.29 475.98,51.25" fill="#fc9114" stroke="#6a3d08" stroke-width="0.35"/><polygon points="435.99,51.37 443.94,52.33 448.08,51.6 440.19,50.72" fill="#fc7014" stroke="#6a2f08" stroke-width="0.3"/><polygon points="460.07,51.83 467.92,52.9 471.95,52.06 464.16,51.07" fill="#fc8514" stroke="#6a3808" stroke-width="0.33"/><polygon points="483.72,52.29 491.47,53.46 495.39,52.52 487.7,51.43" fill="#fc9d14" stroke="#6a4208" stroke-width="0.37"/><polygon points="495.39,52.52 503.08,53.75 506.95,52.75 499.31,51.6" fill="#fca914" stroke="#6a4708" stroke-width="0.38"/><polygon points="518.4,52.97 525.98,54.31 529.74,53.2 522.2,51.95" fill="#fcc214" stroke="#6a5208" stroke-width="0.42"/><polygon points="529.74,53.2 537.27,54.58 540.97,53.42 533.49,52.12" fill="#fcd014" stroke="#6a5708" stroke-width="0.44"/><polygon points="540.97,53.42 548.45,54.86 552.09,53.64 544.66,52.29" fill="#fcdd14" stroke="#6a5d08" stroke-width="0.45"/><polygon points="552.09,53.64 559.51,55.12 563.1,53.85 555.73,52.45" fill="#fcec14" stroke="#6a6308" stroke-width="0.47"/><polygon points="574,54.06 581.31,55.64 584.8,54.26 577.54,52.76" fill="#effc14" stroke="#656a08" stroke-width="0.51"/><polygon points="455.98,52.61 463.88,53.77 467.92,52.9 460.07,51.83" fill="#fc7b14" stroke="#6a3408" stroke-width="0.35"/><polygon points="479.75,53.18 487.55,54.44 491.47,53.46 483.72,52.29" fill="#fc9214" stroke="#6a3d08" stroke-width="0.38"/><polygon points="503.08,53.75 510.78,55.11 514.59,54.03 506.95,52.75" fill="#fcab14" stroke="#6a4808" stroke-width="0.42"/><polygon points="514.59,54.03 522.23,55.45 525.98,54.31 518.4,52.97" fill="#fcb914" stroke="#6a4e08" stroke-width="0.44"/><polygon points="537.27,54.58 544.8,56.11 548.45,54.86 540.97,53.42" fill="#fcd414" stroke="#6a5908" stroke-width="0.47"/><polygon points="559.51,55.12 566.93,56.75 570.47,55.38 563.1,53.85" fill="#fcf214" stroke="#6a6608" stroke-width="0.51"/><polygon points="570.47,55.38 577.83,57.06 581.31,55.64 574,54.06" fill="#f8fc14" stroke="#686a08" stroke-width="0.52"/><polygon points="443.94,52.33 451.89,53.43 455.98,52.61 448.08,51.6" fill="#fc7014" stroke="#6a2f08" stroke-width="0.33"/><polygon points="467.92,52.9 475.77,54.11 479.75,53.18 471.95,52.06" fill="#fc8614" stroke="#6a3808" stroke-width="0.36"/><polygon points="431.78,52.05 439.79,53.1 443.94,52.33 435.99,51.37" fill="#fc6514" stroke="#6a2a08" stroke-width="0.31"/><polygon points="491.47,53.46 499.22,54.78 503.08,53.75 495.39,52.52" fill="#fc9f14" stroke="#6a4308" stroke-width="0.4"/><polygon points="525.98,54.31 533.57,55.78 537.27,54.58 529.74,53.2" fill="#fcc614" stroke="#6a5308" stroke-width="0.45"/><polygon points="548.45,54.86 555.92,56.43 559.51,55.12 552.09,53.64" fill="#fce314" stroke="#6a5f08" stroke-width="0.49"/><polygon points="581.31,55.64 588.61,57.36 592.05,55.89 584.8,54.26" fill="#e8fc14" stroke="#616a08" stroke-width="0.54"/><polygon points="463.88,53.77 471.79,55.07 475.77,54.11 467.92,52.9" fill="#fc7c14" stroke="#6a3408" stroke-width="0.38"/><polygon points="427.58,52.77 435.64,53.9 439.79,53.1 431.78,52.05" fill="#fc5a14" stroke="#6a2608" stroke-width="0.33"/><polygon points="451.89,53.43 459.85,54.68 463.88,53.77 455.98,52.61" fill="#fc7014" stroke="#6a2f08" stroke-width="0.36"/><polygon points="487.55,54.44 495.35,55.85 499.22,54.78 491.47,53.46" fill="#fc9514" stroke="#6a3f08" stroke-width="0.42"/><polygon points="499.22,54.78 506.96,56.24 510.78,55.11 503.08,53.75" fill="#fca214" stroke="#6a4408" stroke-width="0.44"/><polygon points="510.78,55.11 518.47,56.63 522.23,55.45 514.59,54.03" fill="#fcaf14" stroke="#6a4a08" stroke-width="0.45"/><polygon points="522.23,55.45 529.86,57.01 533.57,55.78 525.98,54.31" fill="#fcbd14" stroke="#6a5008" stroke-width="0.47"/><polygon points="533.57,55.78 541.15,57.39 544.8,56.11 537.27,54.58" fill="#fccc14" stroke="#6a5608" stroke-width="0.49"/><polygon points="544.8,56.11 552.32,57.77 555.92,56.43 548.45,54.86" fill="#fcda14" stroke="#6a5c08" stroke-width="0.51"/><polygon points="555.92,56.43 563.38,58.14 566.93,56.75 559.51,55.12" fill="#fce914" stroke="#6a6208" stroke-width="0.52"/><polygon points="566.93,56.75 574.34,58.51 577.83,57.06 570.47,55.38" fill="#fcf914" stroke="#6a6908" stroke-width="0.54"/><polygon points="577.83,57.06 585.18,58.87 588.61,57.36 581.31,55.64" fill="#f0fc14" stroke="#656a08" stroke-width="0.56"/><polygon points="588.61,57.36 595.91,59.23 599.29,57.66 592.05,55.89" fill="#e0fc14" stroke="#5e6a08" stroke-width="0.57"/><polygon points="475.77,54.11 483.62,55.46 487.55,54.44 479.75,53.18" fill="#fc8814" stroke="#6a3908" stroke-width="0.4"/><polygon points="439.79,53.1 447.8,54.29 451.89,53.43 443.94,52.33" fill="#fc6514" stroke="#6a2a08" stroke-width="0.35"/><polygon points="495.35,55.85 503.14,57.39 506.96,56.24 499.22,54.78" fill="#fc9914" stroke="#6a4008" stroke-width="0.45"/><polygon points="529.86,57.01 537.49,58.72 541.15,57.39 533.57,55.78" fill="#fcc314" stroke="#6a5208" stroke-width="0.51"/><polygon points="552.32,57.77 559.84,59.58 563.38,58.14 555.92,56.43" fill="#fce214" stroke="#6a5f08" stroke-width="0.54"/><polygon points="585.18,58.87 592.52,60.83 595.91,59.23 588.61,57.36" fill="#e7fc14" stroke="#616a08" stroke-width="0.59"/><polygon points="471.79,55.07 479.69,56.51 483.62,55.46 475.77,54.11" fill="#fc7f14" stroke="#6a3508" stroke-width="0.42"/><polygon points="423.37,53.52 431.49,54.74 435.64,53.9 427.58,52.77" fill="#fc5014" stroke="#6a2208" stroke-width="0.35"/><polygon points="435.64,53.9 443.7,55.18 447.8,54.29 439.79,53.1" fill="#fc5b14" stroke="#6a2608" stroke-width="0.36"/><polygon points="459.85,54.68 467.81,56.06 471.79,55.07 463.88,53.77" fill="#fc7314" stroke="#6a3008" stroke-width="0.4"/><polygon points="447.8,54.29 455.81,55.62 459.85,54.68 451.89,53.43" fill="#fc6714" stroke="#6a2b08" stroke-width="0.38"/><polygon points="483.62,55.46 491.47,56.95 495.35,55.85 487.55,54.44" fill="#fc8c14" stroke="#6a3b08" stroke-width="0.44"/><polygon points="506.96,56.24 514.7,57.84 518.47,56.63 510.78,55.11" fill="#fca714" stroke="#6a4608" stroke-width="0.47"/><polygon points="518.47,56.63 526.15,58.28 529.86,57.01 522.23,55.45" fill="#fcb514" stroke="#6a4c08" stroke-width="0.49"/><polygon points="541.15,57.39 548.72,59.15 552.32,57.77 544.8,56.11" fill="#fcd214" stroke="#6a5808" stroke-width="0.52"/><polygon points="563.38,58.14 570.84,60 574.34,58.51 566.93,56.75" fill="#fcf114" stroke="#6a6508" stroke-width="0.56"/><polygon points="574.34,58.51 581.74,60.42 585.18,58.87 577.83,57.06" fill="#f7fc14" stroke="#686a08" stroke-width="0.57"/><polygon points="595.91,59.23 603.19,61.23 606.52,59.57 599.29,57.66" fill="#d6fc14" stroke="#5a6a08" stroke-width="0.61"/><polygon points="443.7,55.18 451.77,56.6 455.81,55.62 447.8,54.29" fill="#fc5d14" stroke="#6a2708" stroke-width="0.4"/><polygon points="479.69,56.51 487.6,58.09 491.47,56.95 483.62,55.46" fill="#fc8314" stroke="#6a3708" stroke-width="0.45"/><polygon points="491.47,56.95 499.33,58.59 503.14,57.39 495.35,55.85" fill="#fc9114" stroke="#6a3d08" stroke-width="0.47"/><polygon points="503.14,57.39 510.94,59.09 514.7,57.84 506.96,56.24" fill="#fc9f14" stroke="#6a4308" stroke-width="0.49"/><polygon points="526.15,58.28 533.84,60.08 537.49,58.72 529.86,57.01" fill="#fcbc14" stroke="#6a4f08" stroke-width="0.52"/><polygon points="537.49,58.72 545.12,60.57 548.72,59.15 541.15,57.39" fill="#fccb14" stroke="#6a5508" stroke-width="0.54"/><polygon points="548.72,59.15 556.29,61.05 559.84,59.58 552.32,57.77" fill="#fcda14" stroke="#6a5c08" stroke-width="0.56"/><polygon points="559.84,59.58 567.35,61.53 570.84,60 563.38,58.14" fill="#fcea14" stroke="#6a6208" stroke-width="0.57"/><polygon points="581.74,60.42 589.13,62.47 592.52,60.83 585.18,58.87" fill="#edfc14" stroke="#646a08" stroke-width="0.61"/><polygon points="592.52,60.83 599.85,62.93 603.19,61.23 595.91,59.23" fill="#dcfc14" stroke="#5c6a08" stroke-width="0.62"/><polygon points="603.19,61.23 610.46,63.38 613.75,61.62 606.52,59.57" fill="#cafc14" stroke="#556a08" stroke-width="0.62"/><polygon points="419.16,54.3 427.33,55.61 431.49,54.74 423.37,53.52" fill="#fc4614" stroke="#6a1d08" stroke-width="0.36"/><polygon points="431.49,54.74 439.6,56.1 443.7,55.18 435.64,53.9" fill="#fc5114" stroke="#6a2208" stroke-width="0.38"/><polygon points="467.81,56.06 475.77,57.59 479.69,56.51 471.79,55.07" fill="#fc7614" stroke="#6a3208" stroke-width="0.44"/><polygon points="455.81,55.62 463.82,57.09 467.81,56.06 459.85,54.68" fill="#fc6914" stroke="#6a2c08" stroke-width="0.42"/><polygon points="514.7,57.84 522.45,59.58 526.15,58.28 518.47,56.63" fill="#fcad14" stroke="#6a4908" stroke-width="0.51"/><polygon points="570.84,60 578.3,62 581.74,60.42 574.34,58.51" fill="#fcfb14" stroke="#6a6908" stroke-width="0.59"/><polygon points="487.6,58.09 495.51,59.82 499.33,58.59 491.47,56.95" fill="#fc8914" stroke="#6a3908" stroke-width="0.49"/><polygon points="545.12,60.57 552.74,62.56 556.29,61.05 548.72,59.15" fill="#fcd414" stroke="#6a5908" stroke-width="0.57"/><polygon points="599.85,62.93 607.18,65.17 610.46,63.38 603.19,61.23" fill="#d0fc14" stroke="#576a08" stroke-width="0.62"/><polygon points="451.77,56.6 459.83,58.16 463.82,57.09 455.81,55.62" fill="#fc6114" stroke="#6a2908" stroke-width="0.44"/><polygon points="414.95,55.12 423.18,56.52 427.33,55.61 419.16,54.3" fill="#fc3d14" stroke="#6a1a08" stroke-width="0.38"/><polygon points="439.6,56.1 447.72,57.61 451.77,56.6 443.7,55.18" fill="#fc5414" stroke="#6a2308" stroke-width="0.42"/><polygon points="427.33,55.61 435.5,57.07 439.6,56.1 431.49,54.74" fill="#fc4814" stroke="#6a1e08" stroke-width="0.4"/><polygon points="475.77,57.59 483.72,59.27 487.6,58.09 479.69,56.51" fill="#fc7b14" stroke="#6a3408" stroke-width="0.47"/><polygon points="499.33,58.59 507.17,60.37 510.94,59.09 503.14,57.39" fill="#fc9714" stroke="#6a3f08" stroke-width="0.51"/><polygon points="510.94,59.09 518.73,60.93 522.45,59.58 514.7,57.84" fill="#fca514" stroke="#6a4508" stroke-width="0.52"/><polygon points="522.45,59.58 530.18,61.47 533.84,60.08 526.15,58.28" fill="#fcb414" stroke="#6a4c08" stroke-width="0.54"/><polygon points="533.84,60.08 541.52,62.02 545.12,60.57 537.49,58.72" fill="#fcc414" stroke="#6a5208" stroke-width="0.56"/><polygon points="556.29,61.05 563.85,63.1 567.35,61.53 559.84,59.58" fill="#fce414" stroke="#6a6008" stroke-width="0.59"/><polygon points="567.35,61.53 574.85,63.63 578.3,62 570.84,60" fill="#fcf414" stroke="#6a6708" stroke-width="0.61"/><polygon points="578.3,62 585.74,64.15 589.13,62.47 581.74,60.42" fill="#f3fc14" stroke="#666a08" stroke-width="0.62"/><polygon points="589.13,62.47 596.52,64.66 599.85,62.93 592.52,60.83" fill="#e2fc14" stroke="#5f6a08" stroke-width="0.62"/><polygon points="610.46,63.38 617.73,65.67 620.96,63.82 613.75,61.62" fill="#befc14" stroke="#506a08" stroke-width="0.62"/><polygon points="463.82,57.09 471.83,58.72 475.77,57.59 467.81,56.06" fill="#fc6e14" stroke="#6a2e08" stroke-width="0.45"/><polygon points="483.72,59.27 491.68,61.09 495.51,59.82 487.6,58.09" fill="#fc8114" stroke="#6a3608" stroke-width="0.51"/><polygon points="495.51,59.82 503.41,61.7 507.17,60.37 499.33,58.59" fill="#fc8f14" stroke="#6a3c08" stroke-width="0.52"/><polygon points="518.73,60.93 526.52,62.91 530.18,61.47 522.45,59.58" fill="#fcad14" stroke="#6a4908" stroke-width="0.56"/><polygon points="541.52,62.02 549.19,64.11 552.74,62.56 545.12,60.57" fill="#fccd14" stroke="#6a5608" stroke-width="0.59"/><polygon points="552.74,62.56 560.35,64.7 563.85,63.1 556.29,61.05" fill="#fcde14" stroke="#6a5d08" stroke-width="0.61"/><polygon points="574.85,63.63 582.35,65.87 585.74,64.15 578.3,62" fill="#f9fc14" stroke="#696a08" stroke-width="0.62"/><polygon points="596.52,64.66 603.89,67.01 607.18,65.17 599.85,62.93" fill="#d5fc14" stroke="#5a6a08" stroke-width="0.62"/><polygon points="607.18,65.17 614.49,67.56 617.73,65.67 610.46,63.38" fill="#c3fc14" stroke="#526a08" stroke-width="0.62"/><polygon points="447.72,57.61 455.85,59.27 459.83,58.16 451.77,56.6" fill="#fc5914" stroke="#6a2508" stroke-width="0.45"/><polygon points="459.83,58.16 467.9,59.88 471.83,58.72 463.82,57.09" fill="#fc6614" stroke="#6a2b08" stroke-width="0.47"/><polygon points="410.74,55.98 419.02,57.47 423.18,56.52 414.95,55.12" fill="#fc3414" stroke="#6a1608" stroke-width="0.4"/><polygon points="423.18,56.52 431.41,58.07 435.5,57.07 427.33,55.61" fill="#fc4014" stroke="#6a1b08" stroke-width="0.42"/><polygon points="435.5,57.07 443.68,58.67 447.72,57.61 439.6,56.1" fill="#fc4c14" stroke="#6a2008" stroke-width="0.44"/><polygon points="471.83,58.72 479.85,60.49 483.72,59.27 475.77,57.59" fill="#fc7314" stroke="#6a3008" stroke-width="0.49"/><polygon points="507.17,60.37 515.02,62.31 518.73,60.93 510.94,59.09" fill="#fc9e14" stroke="#6a4208" stroke-width="0.54"/><polygon points="530.18,61.47 537.91,63.51 541.52,62.02 533.84,60.08" fill="#fcbd14" stroke="#6a4f08" stroke-width="0.57"/><polygon points="563.85,63.1 571.41,65.29 574.85,63.63 567.35,61.53" fill="#fcee14" stroke="#6a6408" stroke-width="0.62"/><polygon points="585.74,64.15 593.17,66.44 596.52,64.66 589.13,62.47" fill="#e7fc14" stroke="#616a08" stroke-width="0.62"/><polygon points="617.73,65.67 624.98,68.1 628.16,66.16 620.96,63.82" fill="#b0fc14" stroke="#4a6a08" stroke-width="0.62"/><polygon points="406.53,56.88 414.86,58.46 419.02,57.47 410.74,55.98" fill="#fc2b14" stroke="#6a1208" stroke-width="0.42"/><polygon points="419.02,57.47 427.31,59.11 431.41,58.07 423.18,56.52" fill="#fc3714" stroke="#6a1708" stroke-width="0.44"/><polygon points="431.41,58.07 439.64,59.76 443.68,58.67 435.5,57.07" fill="#fc4414" stroke="#6a1d08" stroke-width="0.46"/><polygon points="443.68,58.67 451.86,60.42 455.85,59.27 447.72,57.61" fill="#fc5114" stroke="#6a2208" stroke-width="0.47"/><polygon points="455.85,59.27 463.97,61.08 467.9,59.88 459.83,58.16" fill="#fc5e14" stroke="#6a2808" stroke-width="0.49"/><polygon points="467.9,59.88 475.97,61.74 479.85,60.49 471.83,58.72" fill="#fc6c14" stroke="#6a2d08" stroke-width="0.51"/><polygon points="479.85,60.49 487.86,62.41 491.68,61.09 483.72,59.27" fill="#fc7a14" stroke="#6a3308" stroke-width="0.52"/><polygon points="491.68,61.09 499.64,63.07 503.41,61.7 495.51,59.82" fill="#fc8914" stroke="#6a3908" stroke-width="0.54"/><polygon points="503.41,61.7 511.31,63.73 515.02,62.31 507.17,60.37" fill="#fc9814" stroke="#6a4008" stroke-width="0.56"/><polygon points="515.02,62.31 522.86,64.39 526.52,62.91 518.73,60.93" fill="#fca714" stroke="#6a4608" stroke-width="0.58"/><polygon points="526.52,62.91 534.3,65.04 537.91,63.51 530.18,61.47" fill="#fcb714" stroke="#6a4d08" stroke-width="0.59"/><polygon points="537.91,63.51 545.63,65.7 549.19,64.11 541.52,62.02" fill="#fcc714" stroke="#6a5408" stroke-width="0.61"/><polygon points="549.19,64.11 556.85,66.35 560.35,64.7 552.74,62.56" fill="#fcd814" stroke="#6a5b08" stroke-width="0.62"/><polygon points="560.35,64.7 567.96,66.99 571.41,65.29 563.85,63.1" fill="#fce914" stroke="#6a6208" stroke-width="0.62"/><polygon points="571.41,65.29 578.95,67.63 582.35,65.87 574.85,63.63" fill="#fcfb14" stroke="#6a6908" stroke-width="0.62"/><polygon points="582.35,65.87 589.83,68.26 593.17,66.44 585.74,64.15" fill="#ecfc14" stroke="#636a08" stroke-width="0.62"/><polygon points="593.17,66.44 600.6,68.88 603.89,67.01 596.52,64.66" fill="#dafc14" stroke="#5c6a08" stroke-width="0.62"/><polygon points="603.89,67.01 611.25,69.49 614.49,67.56 607.18,65.17" fill="#c7fc14" stroke="#546a08" stroke-width="0.62"/><polygon points="614.49,67.56 621.79,70.1 624.98,68.1 617.73,65.67" fill="#b4fc14" stroke="#4c6a08" stroke-width="0.62"/><polygon points="624.98,68.1 632.21,70.69 635.35,68.64 628.16,66.16" fill="#a0fc14" stroke="#436a08" stroke-width="0.62"/><polygon points="475.97,61.74 484.03,63.76 487.86,62.41 479.85,60.49" fill="#fc7314" stroke="#6a3008" stroke-width="0.54"/><polygon points="511.31,63.73 519.2,65.91 522.86,64.39 515.02,62.31" fill="#fca114" stroke="#6a4408" stroke-width="0.59"/><polygon points="534.3,65.04 542.08,67.33 545.63,65.7 537.91,63.51" fill="#fcc214" stroke="#6a5108" stroke-width="0.62"/><polygon points="567.96,66.99 575.55,69.43 578.95,67.63 571.41,65.29" fill="#fcf614" stroke="#6a6708" stroke-width="0.62"/><polygon points="589.83,68.26 597.3,70.8 600.6,68.88 593.17,66.44" fill="#defc14" stroke="#5d6a08" stroke-width="0.62"/><polygon points="621.79,70.1 629.07,72.78 632.21,70.69 624.98,68.1" fill="#a4fc14" stroke="#456a08" stroke-width="0.62"/><polygon points="427.31,59.11 435.59,60.9 439.64,59.76 431.41,58.07" fill="#fc3c14" stroke="#6a1908" stroke-width="0.47"/><polygon points="439.64,59.76 447.87,61.61 451.86,60.42 443.68,58.67" fill="#fc4a14" stroke="#6a1f08" stroke-width="0.49"/><polygon points="414.86,58.46 423.2,60.19 427.31,59.11 419.02,57.47" fill="#fc3014" stroke="#6a1408" stroke-width="0.46"/><polygon points="451.86,60.42 460.03,62.32 463.97,61.08 455.85,59.27" fill="#fc5714" stroke="#6a2508" stroke-width="0.51"/><polygon points="463.97,61.08 472.09,63.04 475.97,61.74 467.9,59.88" fill="#fc6514" stroke="#6a2a08" stroke-width="0.53"/><polygon points="487.86,62.41 495.87,64.47 499.64,63.07 491.68,61.09" fill="#fc8214" stroke="#6a3708" stroke-width="0.56"/><polygon points="499.64,63.07 507.59,65.19 511.31,63.73 503.41,61.7" fill="#fc9214" stroke="#6a3d08" stroke-width="0.58"/><polygon points="522.86,64.39 530.69,66.62 534.3,65.04 526.52,62.91" fill="#fcb114" stroke="#6a4a08" stroke-width="0.61"/><polygon points="545.63,65.7 553.35,68.03 556.85,66.35 549.19,64.11" fill="#fcd314" stroke="#6a5808" stroke-width="0.62"/><polygon points="556.85,66.35 564.51,68.73 567.96,66.99 560.35,64.7" fill="#fce414" stroke="#6a6008" stroke-width="0.62"/><polygon points="578.95,67.63 586.48,70.12 589.83,68.26 582.35,65.87" fill="#f1fc14" stroke="#656a08" stroke-width="0.62"/><polygon points="600.6,68.88 608,71.47 611.25,69.49 603.89,67.01" fill="#cbfc14" stroke="#556a08" stroke-width="0.62"/><polygon points="611.25,69.49 618.59,72.13 621.79,70.1 614.49,67.56" fill="#b8fc14" stroke="#4d6a08" stroke-width="0.62"/><polygon points="472.09,63.04 480.21,65.15 484.03,63.76 475.97,61.74" fill="#fc6d14" stroke="#6a2e08" stroke-width="0.56"/><polygon points="435.59,60.9 443.88,62.84 447.87,61.61 439.64,59.76" fill="#fc4314" stroke="#6a1c08" stroke-width="0.51"/><polygon points="484.03,63.76 492.1,65.92 495.87,64.47 487.86,62.41" fill="#fc7c14" stroke="#6a3408" stroke-width="0.58"/><polygon points="507.59,65.19 515.53,67.47 519.2,65.91 511.31,63.73" fill="#fc9c14" stroke="#6a4108" stroke-width="0.61"/><polygon points="519.2,65.91 527.08,68.23 530.69,66.62 522.86,64.39" fill="#fcac14" stroke="#6a4808" stroke-width="0.62"/><polygon points="530.69,66.62 538.52,69 542.08,67.33 534.3,65.04" fill="#fcbd14" stroke="#6a4f08" stroke-width="0.62"/><polygon points="542.08,67.33 549.85,69.76 553.35,68.03 545.63,65.7" fill="#fcce14" stroke="#6a5608" stroke-width="0.62"/><polygon points="564.51,68.73 572.15,71.27 575.55,69.43 567.96,66.99" fill="#fcf114" stroke="#6a6508" stroke-width="0.62"/><polygon points="575.55,69.43 583.14,72.02 586.48,70.12 578.95,67.63" fill="#f5fc14" stroke="#676a08" stroke-width="0.62"/><polygon points="586.48,70.12 594.01,72.76 597.3,70.8 589.83,68.26" fill="#e2fc14" stroke="#5f6a08" stroke-width="0.62"/><polygon points="597.3,70.8 604.76,73.49 608,71.47 600.6,68.88" fill="#cffc14" stroke="#576a08" stroke-width="0.62"/><polygon points="618.59,72.13 625.93,74.91 629.07,72.78 621.79,70.1" fill="#a7fc14" stroke="#466a08" stroke-width="0.62"/><polygon points="423.2,60.19 431.55,62.07 435.59,60.9 427.31,59.11" fill="#fc3514" stroke="#6a1608" stroke-width="0.49"/><polygon points="447.87,61.61 456.1,63.61 460.03,62.32 451.86,60.42" fill="#fc5014" stroke="#6a2208" stroke-width="0.53"/><polygon points="460.03,62.32 468.21,64.38 472.09,63.04 463.97,61.08" fill="#fc5f14" stroke="#6a2808" stroke-width="0.54"/><polygon points="495.87,64.47 503.87,66.7 507.59,65.19 499.64,63.07" fill="#fc8c14" stroke="#6a3b08" stroke-width="0.59"/><polygon points="553.35,68.03 561.06,70.52 564.51,68.73 556.85,66.35" fill="#fcdf14" stroke="#6a5e08" stroke-width="0.62"/><polygon points="608,71.47 615.4,74.21 618.59,72.13 611.25,69.49" fill="#bbfc14" stroke="#4f6a08" stroke-width="0.62"/><polygon points="527.08,68.23 534.96,70.72 538.52,69 530.69,66.62" fill="#fcb814" stroke="#6a4d08" stroke-width="0.62"/><polygon points="583.14,72.02 590.71,74.76 594.01,72.76 586.48,70.12" fill="#e6fc14" stroke="#606a08" stroke-width="0.62"/><polygon points="468.21,64.38 476.38,66.59 480.21,65.15 472.09,63.04" fill="#fc6814" stroke="#6a2c08" stroke-width="0.58"/><polygon points="431.55,62.07 439.89,64.11 443.88,62.84 435.59,60.9" fill="#fc3c14" stroke="#6a1908" stroke-width="0.53"/><polygon points="443.88,62.84 452.16,64.94 456.1,63.61 447.87,61.61" fill="#fc4a14" stroke="#6a1f08" stroke-width="0.55"/><polygon points="480.21,65.15 488.32,67.42 492.1,65.92 484.03,63.76" fill="#fc7714" stroke="#6a3208" stroke-width="0.6"/><polygon points="456.1,63.61 464.33,65.76 468.21,64.38 460.03,62.32" fill="#fc5914" stroke="#6a2508" stroke-width="0.56"/><polygon points="492.1,65.92 500.15,68.24 503.87,66.7 495.87,64.47" fill="#fc8714" stroke="#6a3908" stroke-width="0.61"/><polygon points="503.87,66.7 511.87,69.07 515.53,67.47 507.59,65.19" fill="#fc9714" stroke="#6a3f08" stroke-width="0.62"/><polygon points="515.53,67.47 523.47,69.89 527.08,68.23 519.2,65.91" fill="#fca714" stroke="#6a4608" stroke-width="0.62"/><polygon points="538.52,69 546.34,71.54 549.85,69.76 542.08,67.33" fill="#fcca14" stroke="#6a5508" stroke-width="0.62"/><polygon points="549.85,69.76 557.6,72.35 561.06,70.52 553.35,68.03" fill="#fcdb14" stroke="#6a5c08" stroke-width="0.62"/><polygon points="561.06,70.52 568.75,73.16 572.15,71.27 564.51,68.73" fill="#fcee14" stroke="#6a6408" stroke-width="0.62"/><polygon points="572.15,71.27 579.79,73.96 583.14,72.02 575.55,69.43" fill="#f9fc14" stroke="#686a08" stroke-width="0.62"/><polygon points="594.01,72.76 601.51,75.55 604.76,73.49 597.3,70.8" fill="#d2fc14" stroke="#586a08" stroke-width="0.62"/><polygon points="604.76,73.49 612.2,76.33 615.4,74.21 608,71.47" fill="#befc14" stroke="#506a08" stroke-width="0.62"/><polygon points="615.4,74.21 622.78,77.09 625.93,74.91 618.59,72.13" fill="#aafc14" stroke="#476a08" stroke-width="0.62"/><polygon points="464.33,65.76 472.56,68.07 476.38,66.59 468.21,64.38" fill="#fc6214" stroke="#6a2908" stroke-width="0.6"/><polygon points="500.15,68.24 508.2,70.72 511.87,69.07 503.87,66.7" fill="#fc9214" stroke="#6a3d08" stroke-width="0.62"/><polygon points="523.47,69.89 531.4,72.48 534.96,70.72 527.08,68.23" fill="#fcb414" stroke="#6a4c08" stroke-width="0.62"/><polygon points="534.96,70.72 542.83,73.35 546.34,71.54 538.52,69" fill="#fcc614" stroke="#6a5308" stroke-width="0.62"/><polygon points="557.6,72.35 565.35,75.09 568.75,73.16 561.06,70.52" fill="#fcea14" stroke="#6a6208" stroke-width="0.62"/><polygon points="579.79,73.96 587.41,76.81 590.71,74.76 583.14,72.02" fill="#e9fc14" stroke="#626a08" stroke-width="0.62"/><polygon points="590.71,74.76 598.26,77.65 601.51,75.55 594.01,72.76" fill="#d5fc14" stroke="#596a08" stroke-width="0.62"/><polygon points="612.2,76.33 619.63,79.32 622.78,77.09 615.4,74.21" fill="#acfc14" stroke="#486a08" stroke-width="0.62"/><polygon points="439.89,64.11 448.23,66.31 452.16,64.94 443.88,62.84" fill="#fc4514" stroke="#6a1d08" stroke-width="0.56"/><polygon points="452.16,64.94 460.45,67.19 464.33,65.76 456.1,63.61" fill="#fc5314" stroke="#6a2308" stroke-width="0.58"/><polygon points="476.38,66.59 484.55,68.95 488.32,67.42 480.21,65.15" fill="#fc7214" stroke="#6a3008" stroke-width="0.61"/><polygon points="488.32,67.42 496.43,69.83 500.15,68.24 492.1,65.92" fill="#fc8214" stroke="#6a3708" stroke-width="0.62"/><polygon points="511.87,69.07 519.86,71.6 523.47,69.89 515.53,67.47" fill="#fca314" stroke="#6a4408" stroke-width="0.62"/><polygon points="546.34,71.54 554.15,74.23 557.6,72.35 549.85,69.76" fill="#fcd814" stroke="#6a5b08" stroke-width="0.62"/><polygon points="568.75,73.16 576.43,75.95 579.79,73.96 572.15,71.27" fill="#fcfc14" stroke="#6a6a08" stroke-width="0.62"/><polygon points="601.51,75.55 609.01,78.49 612.2,76.33 604.76,73.49" fill="#c1fc14" stroke="#516a08" stroke-width="0.62"/><polygon points="460.45,67.19 468.73,69.59 472.56,68.07 464.33,65.76" fill="#fc5e14" stroke="#6a2708" stroke-width="0.62"/><polygon points="496.43,69.83 504.54,72.41 508.2,70.72 500.15,68.24" fill="#fc8e14" stroke="#6a3c08" stroke-width="0.62"/><polygon points="448.23,66.31 456.57,68.66 460.45,67.19 452.16,64.94" fill="#fc4e14" stroke="#6a2108" stroke-width="0.6"/><polygon points="472.56,68.07 480.78,70.53 484.55,68.95 476.38,66.59" fill="#fc6d14" stroke="#6a2e08" stroke-width="0.62"/><polygon points="508.2,70.72 516.25,73.35 519.86,71.6 511.87,69.07" fill="#fc9f14" stroke="#6a4308" stroke-width="0.62"/><polygon points="519.86,71.6 527.84,74.28 531.4,72.48 523.47,69.89" fill="#fcb014" stroke="#6a4a08" stroke-width="0.62"/><polygon points="531.4,72.48 539.32,75.22 542.83,73.35 534.96,70.72" fill="#fcc214" stroke="#6a5208" stroke-width="0.62"/><polygon points="542.83,73.35 550.69,76.15 554.15,74.23 546.34,71.54" fill="#fcd414" stroke="#6a5908" stroke-width="0.62"/><polygon points="554.15,74.23 561.94,77.07 565.35,75.09 557.6,72.35" fill="#fce714" stroke="#6a6108" stroke-width="0.62"/><polygon points="565.35,75.09 573.08,77.99 576.43,75.95 568.75,73.16" fill="#fcfa14" stroke="#6a6908" stroke-width="0.62"/><polygon points="576.43,75.95 584.11,78.9 587.41,76.81 579.79,73.96" fill="#ebfc14" stroke="#636a08" stroke-width="0.62"/><polygon points="587.41,76.81 595.01,79.81 598.26,77.65 590.71,74.76" fill="#d7fc14" stroke="#5a6a08" stroke-width="0.62"/><polygon points="598.26,77.65 605.81,80.7 609.01,78.49 601.51,75.55" fill="#c3fc14" stroke="#526a08" stroke-width="0.62"/><polygon points="609.01,78.49 616.48,81.59 619.63,79.32 612.2,76.33" fill="#aefc14" stroke="#496a08" stroke-width="0.62"/><polygon points="484.55,68.95 492.71,71.47 496.43,69.83 488.32,67.42" fill="#fc7d14" stroke="#6a3508" stroke-width="0.62"/><polygon points="456.57,68.66 464.9,71.16 468.73,69.59 460.45,67.19" fill="#fc5914" stroke="#6a2608" stroke-width="0.62"/><polygon points="516.25,73.35 524.28,76.14 527.84,74.28 519.86,71.6" fill="#fcad14" stroke="#6a4908" stroke-width="0.62"/><polygon points="550.69,76.15 558.54,79.1 561.94,77.07 554.15,74.23" fill="#fce514" stroke="#6a6008" stroke-width="0.62"/><polygon points="573.08,77.99 580.8,81.04 584.11,78.9 576.43,75.95" fill="#edfc14" stroke="#646a08" stroke-width="0.62"/><polygon points="605.81,80.7 613.33,83.91 616.48,81.59 609.01,78.49" fill="#affc14" stroke="#4a6a08" stroke-width="0.62"/><polygon points="468.73,69.59 477,72.16 480.78,70.53 472.56,68.07" fill="#fc6914" stroke="#6a2c08" stroke-width="0.62"/><polygon points="492.71,71.47 500.87,74.15 504.54,72.41 496.43,69.83" fill="#fc8a14" stroke="#6a3a08" stroke-width="0.62"/><polygon points="480.78,70.53 488.99,73.15 492.71,71.47 484.55,68.95" fill="#fc7a14" stroke="#6a3308" stroke-width="0.62"/><polygon points="504.54,72.41 512.63,75.14 516.25,73.35 508.2,70.72" fill="#fc9c14" stroke="#6a4108" stroke-width="0.62"/><polygon points="527.84,74.28 535.81,77.13 539.32,75.22 531.4,72.48" fill="#fcbf14" stroke="#6a5008" stroke-width="0.62"/><polygon points="539.32,75.22 547.23,78.11 550.69,76.15 542.83,73.35" fill="#fcd214" stroke="#6a5808" stroke-width="0.62"/><polygon points="561.94,77.07 569.73,80.07 573.08,77.99 565.35,75.09" fill="#fcf814" stroke="#6a6808" stroke-width="0.62"/><polygon points="584.11,78.9 591.76,82.01 595.01,79.81 587.41,76.81" fill="#d9fc14" stroke="#5b6a08" stroke-width="0.62"/><polygon points="595.01,79.81 602.6,82.96 605.81,80.7 598.26,77.65" fill="#c4fc14" stroke="#536a08" stroke-width="0.62"/><polygon points="464.9,71.16 473.23,73.83 477,72.16 468.73,69.59" fill="#fc6614" stroke="#6a2b08" stroke-width="0.62"/><polygon points="488.99,73.15 497.2,75.93 500.87,74.15 492.71,71.47" fill="#fc8714" stroke="#6a3908" stroke-width="0.62"/><polygon points="512.63,75.14 520.72,78.04 524.28,76.14 516.25,73.35" fill="#fcab14" stroke="#6a4808" stroke-width="0.62"/><polygon points="524.28,76.14 532.3,79.08 535.81,77.13 527.84,74.28" fill="#fcbd14" stroke="#6a4f08" stroke-width="0.62"/><polygon points="547.23,78.11 555.13,81.17 558.54,79.1 550.69,76.15" fill="#fce314" stroke="#6a5f08" stroke-width="0.62"/><polygon points="558.54,79.1 566.37,82.2 569.73,80.07 561.94,77.07" fill="#fcf614" stroke="#6a6708" stroke-width="0.62"/><polygon points="569.73,80.07 577.5,83.23 580.8,81.04 573.08,77.99" fill="#effc14" stroke="#646a08" stroke-width="0.62"/><polygon points="580.8,81.04 588.51,84.26 591.76,82.01 584.11,78.9" fill="#dafc14" stroke="#5c6a08" stroke-width="0.62"/><polygon points="602.6,82.96 610.18,86.28 613.33,83.91 605.81,80.7" fill="#b0fc14" stroke="#4a6a08" stroke-width="0.62"/><polygon points="477,72.16 485.27,74.88 488.99,73.15 480.78,70.53" fill="#fc7614" stroke="#6a3208" stroke-width="0.62"/><polygon points="500.87,74.15 509.02,76.99 512.63,75.14 504.54,72.41" fill="#fc9914" stroke="#6a4008" stroke-width="0.62"/><polygon points="535.81,77.13 543.78,80.13 547.23,78.11 539.32,75.22" fill="#fcd014" stroke="#6a5708" stroke-width="0.62"/><polygon points="591.76,82.01 599.4,85.27 602.6,82.96 595.01,79.81" fill="#c6fc14" stroke="#536a08" stroke-width="0.62"/><polygon points="566.37,82.2 574.19,85.47 577.5,83.23 569.73,80.07" fill="#f0fc14" stroke="#656a08" stroke-width="0.62"/><polygon points="485.27,74.88 493.54,77.77 497.2,75.93 488.99,73.15" fill="#fc8514" stroke="#6a3808" stroke-width="0.62"/><polygon points="509.02,76.99 517.16,79.98 520.72,78.04 512.63,75.14" fill="#fca814" stroke="#6a4708" stroke-width="0.62"/><polygon points="473.23,73.83 481.55,76.66 485.27,74.88 477,72.16" fill="#fc7314" stroke="#6a3008" stroke-width="0.62"/><polygon points="497.2,75.93 505.4,78.88 509.02,76.99 500.87,74.15" fill="#fc9614" stroke="#6a3f08" stroke-width="0.62"/><polygon points="520.72,78.04 528.79,81.09 532.3,79.08 524.28,76.14" fill="#fcbb14" stroke="#6a4e08" stroke-width="0.62"/><polygon points="532.3,79.08 540.32,82.19 543.78,80.13 535.81,77.13" fill="#fcce14" stroke="#6a5608" stroke-width="0.62"/><polygon points="543.78,80.13 551.72,83.29 555.13,81.17 547.23,78.11" fill="#fce114" stroke="#6a5f08" stroke-width="0.62"/><polygon points="555.13,81.17 563.02,84.38 566.37,82.2 558.54,79.1" fill="#fcf514" stroke="#6a6708" stroke-width="0.62"/><polygon points="577.5,83.23 585.25,86.55 588.51,84.26 580.8,81.04" fill="#dbfc14" stroke="#5c6a08" stroke-width="0.62"/><polygon points="588.51,84.26 596.2,87.63 599.4,85.27 591.76,82.01" fill="#c6fc14" stroke="#536a08" stroke-width="0.62"/><polygon points="599.4,85.27 607.02,88.69 610.18,86.28 602.6,82.96" fill="#b1fc14" stroke="#4a6a08" stroke-width="0.62"/><polygon points="481.55,76.66 489.87,79.65 493.54,77.77 485.27,74.88" fill="#fc8214" stroke="#6a3708" stroke-width="0.62"/><polygon points="505.4,78.88 513.59,81.98 517.16,79.98 509.02,76.99" fill="#fca614" stroke="#6a4608" stroke-width="0.62"/><polygon points="540.32,82.19 548.32,85.46 551.72,83.29 543.78,80.13" fill="#fce014" stroke="#6a5e08" stroke-width="0.62"/><polygon points="563.02,84.38 570.89,87.76 574.19,85.47 566.37,82.2" fill="#f1fc14" stroke="#656a08" stroke-width="0.62"/><polygon points="574.19,85.47 582,88.9 585.25,86.55 577.5,83.23" fill="#dcfc14" stroke="#5c6a08" stroke-width="0.62"/><polygon points="596.2,87.63 603.87,91.16 607.02,88.69 599.4,85.27" fill="#b1fc14" stroke="#4a6a08" stroke-width="0.62"/><polygon points="493.54,77.77 501.79,80.82 505.4,78.88 497.2,75.93" fill="#fc9414" stroke="#6a3e08" stroke-width="0.62"/><polygon points="517.16,79.98 525.28,83.15 528.79,81.09 520.72,78.04" fill="#fcb914" stroke="#6a4e08" stroke-width="0.62"/><polygon points="528.79,81.09 536.86,84.31 540.32,82.19 532.3,79.08" fill="#fccc14" stroke="#6a5608" stroke-width="0.62"/><polygon points="551.72,83.29 559.66,86.61 563.02,84.38 555.13,81.17" fill="#fcf414" stroke="#6a6608" stroke-width="0.62"/><polygon points="585.25,86.55 592.99,90.04 596.2,87.63 588.51,84.26" fill="#c6fc14" stroke="#536a08" stroke-width="0.62"/><polygon points="501.79,80.82 510.03,84.03 513.59,81.98 505.4,78.88" fill="#fca514" stroke="#6a4508" stroke-width="0.62"/><polygon points="489.87,79.65 498.17,82.81 501.79,80.82 493.54,77.77" fill="#fc9314" stroke="#6a3e08" stroke-width="0.62"/><polygon points="513.59,81.98 521.77,85.25 525.28,83.15 517.16,79.98" fill="#fcb814" stroke="#6a4d08" stroke-width="0.62"/><polygon points="525.28,83.15 533.4,86.47 536.86,84.31 528.79,81.09" fill="#fccc14" stroke="#6a5508" stroke-width="0.62"/><polygon points="536.86,84.31 544.91,87.69 548.32,85.46 540.32,82.19" fill="#fcdf14" stroke="#6a5e08" stroke-width="0.62"/><polygon points="548.32,85.46 556.3,88.9 559.66,86.61 551.72,83.29" fill="#fcf414" stroke="#6a6608" stroke-width="0.62"/><polygon points="559.66,86.61 567.58,90.1 570.89,87.76 563.02,84.38" fill="#f1fc14" stroke="#656a08" stroke-width="0.62"/><polygon points="570.89,87.76 578.74,91.3 582,88.9 574.19,85.47" fill="#dcfc14" stroke="#5c6a08" stroke-width="0.62"/><polygon points="582,88.9 589.78,92.5 592.99,90.04 585.25,86.55" fill="#c6fc14" stroke="#536a08" stroke-width="0.62"/><polygon points="592.99,90.04 600.71,93.68 603.87,91.16 596.2,87.63" fill="#b0fc14" stroke="#4a6a08" stroke-width="0.62"/><polygon points="498.17,82.81 506.47,86.13 510.03,84.03 501.79,80.82" fill="#fca414" stroke="#6a4508" stroke-width="0.62"/><polygon points="556.3,88.9 564.27,92.5 567.58,90.1 559.66,86.61" fill="#f0fc14" stroke="#656a08" stroke-width="0.62"/><polygon points="589.78,92.5 597.55,96.25 600.71,93.68 592.99,90.04" fill="#affc14" stroke="#4a6a08" stroke-width="0.62"/><polygon points="510.03,84.03 518.26,87.41 521.77,85.25 513.59,81.98" fill="#fcb714" stroke="#6a4d08" stroke-width="0.62"/><polygon points="521.77,85.25 529.94,88.69 533.4,86.47 525.28,83.15" fill="#fccb14" stroke="#6a5508" stroke-width="0.62"/><polygon points="533.4,86.47 541.5,89.96 544.91,87.69 536.86,84.31" fill="#fcdf14" stroke="#6a5e08" stroke-width="0.62"/><polygon points="544.91,87.69 552.94,91.23 556.3,88.9 548.32,85.46" fill="#fcf414" stroke="#6a6608" stroke-width="0.62"/><polygon points="567.58,90.1 575.48,93.75 578.74,91.3 570.89,87.76" fill="#dbfc14" stroke="#5c6a08" stroke-width="0.62"/><polygon points="578.74,91.3 586.58,95.01 589.78,92.5 582,88.9" fill="#c5fc14" stroke="#536a08" stroke-width="0.62"/><polygon points="506.47,86.13 514.75,89.62 518.26,87.41 510.03,84.03" fill="#fcb714" stroke="#6a4d08" stroke-width="0.62"/><polygon points="529.94,88.69 538.09,92.29 541.5,89.96 533.4,86.47" fill="#fcdf14" stroke="#6a5e08" stroke-width="0.62"/><polygon points="552.94,91.23 560.96,94.94 564.27,92.5 556.3,88.9" fill="#f0fc14" stroke="#656a08" stroke-width="0.62"/><polygon points="564.27,92.5 572.22,96.26 575.48,93.75 567.58,90.1" fill="#dafc14" stroke="#5c6a08" stroke-width="0.62"/><polygon points="586.58,95.01 594.39,98.88 597.55,96.25 589.78,92.5" fill="#aefc14" stroke="#496a08" stroke-width="0.62"/><polygon points="518.26,87.41 526.48,90.95 529.94,88.69 521.77,85.25" fill="#fccb14" stroke="#6a5508" stroke-width="0.62"/><polygon points="541.5,89.96 549.59,93.62 552.94,91.23 544.91,87.69" fill="#fcf414" stroke="#6a6708" stroke-width="0.62"/><polygon points="575.48,93.75 583.37,97.57 586.58,95.01 578.74,91.3" fill="#c4fc14" stroke="#526a08" stroke-width="0.62"/><polygon points="526.48,90.95 534.68,94.67 538.09,92.29 529.94,88.69" fill="#fce014" stroke="#6a5e08" stroke-width="0.62"/><polygon points="549.59,93.62 557.66,97.44 560.96,94.94 552.94,91.23" fill="#effc14" stroke="#646a08" stroke-width="0.62"/><polygon points="514.75,89.62 523.02,93.28 526.48,90.95 518.26,87.41" fill="#fccc14" stroke="#6a5608" stroke-width="0.62"/><polygon points="538.09,92.29 546.23,96.06 549.59,93.62 541.5,89.96" fill="#fcf514" stroke="#6a6708" stroke-width="0.62"/><polygon points="560.96,94.94 568.97,98.82 572.22,96.26 564.27,92.5" fill="#d9fc14" stroke="#5b6a08" stroke-width="0.62"/><polygon points="572.22,96.26 580.16,100.19 583.37,97.57 575.48,93.75" fill="#c3fc14" stroke="#526a08" stroke-width="0.62"/><polygon points="583.37,97.57 591.24,101.56 594.39,98.88 586.58,95.01" fill="#acfc14" stroke="#486a08" stroke-width="0.62"/><polygon points="523.02,93.28 531.27,97.11 534.68,94.67 526.48,90.95" fill="#fce114" stroke="#6a5f08" stroke-width="0.62"/><polygon points="534.68,94.67 542.87,98.55 546.23,96.06 538.09,92.29" fill="#fcf614" stroke="#6a6808" stroke-width="0.62"/><polygon points="546.23,96.06 554.35,100 557.66,97.44 549.59,93.62" fill="#edfc14" stroke="#636a08" stroke-width="0.62"/><polygon points="557.66,97.44 565.71,101.44 568.97,98.82 560.96,94.94" fill="#d7fc14" stroke="#5a6a08" stroke-width="0.62"/><polygon points="580.16,100.19 588.08,104.3 591.24,101.56 583.37,97.57" fill="#aafc14" stroke="#476a08" stroke-width="0.62"/><polygon points="568.97,98.82 576.95,102.87 580.16,100.19 572.22,96.26" fill="#c1fc14" stroke="#516a08" stroke-width="0.62"/><polygon points="531.27,97.11 539.51,101.11 542.87,98.55 534.68,94.67" fill="#fcf814" stroke="#6a6808" stroke-width="0.62"/><polygon points="542.87,98.55 551.04,102.61 554.35,100 546.23,96.06" fill="#ebfc14" stroke="#636a08" stroke-width="0.62"/><polygon points="554.35,100 562.45,104.11 565.71,101.44 557.66,97.44" fill="#d5fc14" stroke="#596a08" stroke-width="0.62"/><polygon points="565.71,101.44 573.74,105.6 576.95,102.87 568.97,98.82" fill="#befc14" stroke="#506a08" stroke-width="0.62"/><polygon points="576.95,102.87 584.91,107.09 588.08,104.3 580.16,100.19" fill="#a7fc14" stroke="#466a08" stroke-width="0.62"/><polygon points="539.51,101.11 547.73,105.28 551.04,102.61 542.87,98.55" fill="#e8fc14" stroke="#626a08" stroke-width="0.62"/><polygon points="551.04,102.61 559.19,106.84 562.45,104.11 554.35,100" fill="#d2fc14" stroke="#586a08" stroke-width="0.62"/><polygon points="562.45,104.11 570.53,108.4 573.74,105.6 565.71,101.44" fill="#bbfc14" stroke="#4f6a08" stroke-width="0.62"/><polygon points="573.74,105.6 581.75,109.94 584.91,107.09 576.95,102.87" fill="#a4fc14" stroke="#456a08" stroke-width="0.62"/><polygon points="547.73,105.28 555.93,109.63 559.19,106.84 551.04,102.61" fill="#cffc14" stroke="#576a08" stroke-width="0.62"/><polygon points="570.53,108.4 578.59,112.85 581.75,109.94 573.74,105.6" fill="#a0fc14" stroke="#436a08" stroke-width="0.62"/><polygon points="559.19,106.84 567.32,111.25 570.53,108.4 562.45,104.11" fill="#b7fc14" stroke="#4d6a08" stroke-width="0.62"/><polygon points="567.32,111.25 575.43,115.83 578.59,112.85 570.53,108.4" fill="#9cfc14" stroke="#416a08" stroke-width="0.62"/><polygon points="555.93,109.63 564.11,114.16 567.32,111.25 559.19,106.84" fill="#b3fc14" stroke="#4b6a08" stroke-width="0.62"/><polygon points="564.11,114.16 572.27,118.86 575.43,115.83 567.32,111.25" fill="#97fc14" stroke="#3f6a08" stroke-width="0.62"/></g>
<circle cx="526.6" cy="57.3" r="2.6" fill="#c80000" stroke="#700000" stroke-width="0.6"/>
<g fill="#111"><circle cx="411.97" cy="173.34" r="1.1"/><circle cx="410.5" cy="141.93" r="1.1"/><circle cx="409.03" cy="110.52" r="1.1"/><circle cx="407.57" cy="79.11" r="1.1"/><circle cx="406.1" cy="47.7" r="1.1"/><circle cx="413.8" cy="212.6" r="1.1"/><circle cx="445.1" cy="219.34" r="1.1"/><circle cx="476.4" cy="226.08" r="1.1"/><circle cx="507.7" cy="232.82" r="1.1"/><circle cx="539" cy="239.56" r="1.1"/><circle cx="570.3" cy="246.3" r="1.1"/><circle cx="570.3" cy="246.3" r="1.1"/><circle cx="578.94" cy="236.99" r="1.1"/><circle cx="587.59" cy="227.67" r="1.1"/><circle cx="596.23" cy="218.36" r="1.1"/><circle cx="604.87" cy="209.04" r="1.1"/><circle cx="613.51" cy="199.73" r="1.1"/><circle cx="622.16" cy="190.41" r="1.1"/><circle cx="630.8" cy="181.1" r="1.1"/></g>
<g style="filter:grayscale(1)" font-family="Liberation Sans, sans-serif" font-size="5.9" fill="#404040" stroke="#404040" stroke-width="0.12"><text x="407.37" y="171.75" text-anchor="middle" textLength="2.82" lengthAdjust="spacingAndGlyphs">1</text><text x="405.9" y="140.34" text-anchor="middle" textLength="2.82" lengthAdjust="spacingAndGlyphs">2</text><text x="404.43" y="108.93" text-anchor="middle" textLength="2.82" lengthAdjust="spacingAndGlyphs">3</text><text x="402.97" y="77.52" text-anchor="middle" textLength="2.82" lengthAdjust="spacingAndGlyphs">4</text><text x="401.5" y="46.11" text-anchor="middle" textLength="2.82" lengthAdjust="spacingAndGlyphs">5</text><text x="410.8" y="218.21" text-anchor="end" textLength="7.05" lengthAdjust="spacingAndGlyphs">6.5</text><text x="442.1" y="224.95" text-anchor="end" textLength="7.05" lengthAdjust="spacingAndGlyphs">6.3</text><text x="473.4" y="231.69" text-anchor="end" textLength="7.05" lengthAdjust="spacingAndGlyphs">6.1</text><text x="504.7" y="238.43" text-anchor="end" textLength="7.05" lengthAdjust="spacingAndGlyphs">5.9</text><text x="536" y="245.17" text-anchor="end" textLength="7.05" lengthAdjust="spacingAndGlyphs">5.7</text><text x="567.3" y="251.91" text-anchor="end" textLength="7.05" lengthAdjust="spacingAndGlyphs">5.5</text><text x="573.4" y="251.71" text-anchor="start" textLength="12.7" lengthAdjust="spacingAndGlyphs">0.035</text><text x="582.04" y="242.4" text-anchor="start" textLength="12.7" lengthAdjust="spacingAndGlyphs">0.045</text><text x="590.69" y="233.08" text-anchor="start" textLength="12.7" lengthAdjust="spacingAndGlyphs">0.055</text><text x="599.33" y="223.77" text-anchor="start" textLength="12.7" lengthAdjust="spacingAndGlyphs">0.065</text><text x="607.97" y="214.46" text-anchor="start" textLength="12.7" lengthAdjust="spacingAndGlyphs">0.075</text><text x="616.61" y="205.14" text-anchor="start" textLength="12.7" lengthAdjust="spacingAndGlyphs">0.085</text><text x="625.26" y="195.83" text-anchor="start" textLength="12.7" lengthAdjust="spacingAndGlyphs">0.095</text><text x="633.9" y="186.51" text-anchor="start" textLength="12.7" lengthAdjust="spacingAndGlyphs">0.105</text></g>
<g stroke="#9c9c9c" stroke-width="0.9" fill="none"><line x1="89.82" y1="479.41" x2="85.22" y2="366.68"/><line x1="104.53" y1="469.99" x2="100.74" y2="360.26"/><line x1="119.25" y1="460.57" x2="116.26" y2="353.84"/><line x1="133.96" y1="451.15" x2="131.78" y2="347.42"/><line x1="174.75" y1="445.87" x2="174.46" y2="343.76"/><line x1="200.83" y1="450.02" x2="201.62" y2="346.52"/><line x1="226.91" y1="454.16" x2="228.78" y2="349.28"/><line x1="252.98" y1="458.31" x2="255.94" y2="352.04"/></g>
<g stroke="#626262" stroke-width="0.9" fill="none"><polyline points="75.11,488.83 148.67,441.72 279.06,462.46"/><polyline points="73.76,459.9 148.33,416.54 280.07,435.54"/><polyline points="72.4,430.97 147.99,391.36 281.08,408.63"/><polyline points="71.05,402.03 147.64,366.18 282.09,381.71"/></g>
<line x1="76.8" y1="525" x2="75.11" y2="488.83" stroke="#b0b0b0" stroke-width="1"/>
<line x1="75.11" y1="488.83" x2="69.7" y2="373.1" stroke="#7a7a7a" stroke-width="1"/>
<line x1="149.1" y1="473.2" x2="147.3" y2="341" stroke="#8a8a8a" stroke-width="1"/>
<line x1="277.8" y1="496.1" x2="279.06" y2="462.46" stroke="#b8b8b8" stroke-width="1"/>
<line x1="279.06" y1="462.46" x2="283.1" y2="354.8" stroke="#a5a5a5" stroke-width="1"/>
<polyline points="69.7,373.1 147.3,341 283.1,354.8" fill="none" stroke="#606060" stroke-width="1"/>
<polygon points="76.8,525 221.5,556.3 277.8,496.1 149.1,473.2" fill="#646464" stroke="#2e2e2e" stroke-width="0.9" stroke-linejoin="round"/>
<polyline points="122,492.62 123.18,492.53 123.52,492.51 124.37,492.45 125.08,492.4 125.55,492.37 126.65,492.29 126.72,492.29 127.9,492.21 128.24,492.19 129.06,492.13 129.84,492.08 130.23,492.06 131.38,491.98 131.45,491.98 132.54,491.91 133.09,491.88 133.69,491.84 134.74,491.78 134.83,491.78 135.98,491.71 136.41,491.69 137.11,491.65 138.09,491.6 138.24,491.59 139.37,491.53 139.81,491.51 140.49,491.48 141.54,491.43 141.61,491.43 142.73,491.38 143.31,491.35 143.83,491.33 144.94,491.29 145.1,491.28 146.04,491.24 146.93,491.21 147.13,491.21 148.22,491.17 148.8,491.15 149.3,491.14 150.38,491.11 150.71,491.1 151.45,491.08 152.51,491.06 152.67,491.06 153.57,491.04 154.63,491.03 154.7,491.02 155.68,491.01 156.72,491.01 156.8,491.01 157.76,491 158.79,491 158.99,491 159.81,491.01 160.83,491.02 161.31,491.02 161.84,491.03 162.84,491.05 163.78,491.07 163.83,491.07 164.82,491.1 165.8,491.13 166.5,491.16 166.78,491.17 167.74,491.22 168.7,491.27 169.61,491.33 169.64,491.33 170.58,491.4 171.51,491.47 172.43,491.55 173.34,491.63 173.66,491.67 174.24,491.73 175.13,491.83 176,491.95 176.87,492.07 177.72,492.2 178.56,492.35 179.38,492.5 180.19,492.67 180.98,492.85 181.76,493.04 182.52,493.25 183.1,493.43 183.25,493.48 183.97,493.73 184.66,493.99 185.31,494.27 185.33,494.28 185.97,494.59 186.58,494.92 186.59,494.93 187.16,495.29 187.46,495.51 187.69,495.69 188.1,496.06 188.18,496.13 188.58,496.57 188.62,496.62 188.93,497.06 189,497.16 189.19,497.53 189.3,497.77 189.37,497.99 189.5,498.44 189.5,498.46 189.56,498.87 189.58,499.26 189.58,499.3 189.56,499.72 189.5,500.14 189.49,500.21 189.41,500.55 189.3,500.95 189.15,501.35 189.14,501.39 188.98,501.74 188.79,502.13 188.58,502.52 188.35,502.9 188.29,503 188.11,503.28 187.84,503.65 187.56,504.03 187.27,504.4 186.96,504.76 186.64,505.13 186.31,505.49 185.97,505.85 185.7,506.12 185.61,506.21 185.25,506.57 184.87,506.92 184.49,507.27 184.09,507.63 183.69,507.97 183.28,508.32 182.86,508.67 182.43,509.01 181.99,509.35 181.7,509.58 181.55,509.7 181.1,510.04 180.64,510.37 180.18,510.71 179.71,511.05 179.23,511.38 178.75,511.72 178.26,512.05 177.77,512.38 177.27,512.71 176.76,513.04 176.32,513.32 176.25,513.36 175.73,513.69 175.21,514.02 174.69,514.34 174.16,514.66 173.62,514.99 173.08,515.31 172.68,515.55 172.54,515.63 171.99,515.95 171.43,516.27 170.88,516.58 170.31,516.9 169.75,517.22 169.52,517.34 169.18,517.53 168.6,517.84 168.03,518.16 167.44,518.47 166.86,518.78 166.63,518.9 166.27,519.09 165.68,519.4 165.08,519.71 164.48,520.02 163.9,520.31 163.88,520.33 163.27,520.63 162.66,520.94 162.05,521.24 161.43,521.55 161.3,521.61 160.81,521.85 160.19,522.15 159.56,522.45 158.93,522.76 158.79,522.82 158.3,523.06 157.66,523.36 157.02,523.65 156.38,523.95 156.35,523.97 155.74,524.25 155.09,524.55 154.44,524.84 153.96,525.06 153.79,525.14 153.13,525.43 152.47,525.73 151.81,526.02 151.63,526.1 151.15,526.31 150.48,526.61 149.81,526.9 149.34,527.1 149.14,527.19 148.47,527.48 147.79,527.77 147.11,528.06 147.08,528.07 146.43,528.34 145.74,528.63 145.06,528.92 144.86,529 144.37,529.2 143.67,529.49 142.98,529.77 142.66,529.9 142.28,530.06 141.58,530.34 140.88,530.63 140.49,530.78 140.18,530.91 139.47,531.19 138.76,531.47 138.34,531.64 138.05,531.75 137.34,532.03 136.62,532.31 136.21,532.47 135.91,532.59 135.19,532.87 134.46,533.14 134.1,533.28 133.74,533.42 133.01,533.7 132.29,533.97 132,534.08 131.55,534.25 130.82,534.52 130.09,534.8 129.92,534.86 129.35,535.07 128.61,535.34 127.87,535.61 127.85,535.62 127.13,535.89" fill="none" stroke="#cc922e" stroke-width="1.35" stroke-linecap="round"/>
<polyline points="140.79,479.15 141.3,479.09 142.03,479 142.63,478.93 143.26,478.85 143.97,478.76 144.49,478.7 145.31,478.6 145.71,478.55 146.65,478.44 146.94,478.4 147.99,478.27 148.16,478.25 149.34,478.11 149.37,478.11 150.59,477.96 150.69,477.95 151.8,477.81 152.04,477.78 153.01,477.67 153.4,477.62 154.21,477.52 154.76,477.46 155.41,477.38 156.12,477.3 156.61,477.24 157.49,477.13 157.81,477.1 158.86,476.97 159,476.96 160.19,476.82 160.23,476.81 161.38,476.68 161.61,476.65 162.56,476.54 162.99,476.49 163.74,476.4 164.38,476.33 164.92,476.26 165.77,476.17" fill="none" stroke="#ccb82e" stroke-width="1.35" stroke-linecap="round"/>
<polyline points="252.4,491.58 252.01,491.94 251.61,492.3 251.21,492.66 250.8,493.02 250.39,493.38 249.97,493.74 249.55,494.1 249.12,494.45 248.87,494.66 248.69,494.81 248.25,495.16 247.8,495.51 247.35,495.87 246.9,496.22 246.44,496.57 245.98,496.92 245.51,497.26 245.04,497.61 244.57,497.96 244.48,498.02 244.09,498.3 243.61,498.65 243.12,498.99 242.63,499.34 242.13,499.68 241.64,500.02 241.13,500.36 241.09,500.39 240.63,500.7 240.12,501.04 239.61,501.38 239.09,501.72 238.57,502.06 238.09,502.37 238.05,502.4 237.52,502.73 236.99,503.07 236.46,503.4 235.92,503.74 235.38,504.07 235.32,504.11 234.84,504.4 234.3,504.74 233.75,505.07 233.2,505.4 232.7,505.7 232.65,505.73 232.09,506.06 231.53,506.39 230.97,506.72 230.4,507.04 230.19,507.17 229.83,507.37 229.26,507.7 228.69,508.02 228.11,508.35 227.77,508.54 227.54,508.68 226.95,509 226.37,509.32 225.78,509.65 225.41,509.85 225.2,509.97 224.6,510.29 224.01,510.61 223.41,510.93 223.11,511.09 222.82,511.25 222.21,511.57 221.61,511.89 221.01,512.21 220.86,512.29 220.4,512.53 219.79,512.85 219.18,513.16 218.64,513.44 218.56,513.48 217.94,513.79 217.32,514.11 216.7,514.42 216.47,514.54 216.08,514.74 215.45,515.05 214.82,515.36 214.32,515.62 214.2,515.68 213.56,515.99 212.93,516.3 212.29,516.61 212.19,516.66 211.65,516.92 211.01,517.23 210.37,517.54 210.09,517.67 209.72,517.85 209.08,518.16 208.43,518.46 208.02,518.66 207.78,518.77 207.12,519.08 206.47,519.38 205.96,519.62 205.81,519.69 205.15,519.99 204.49,520.3 203.92,520.56 203.83,520.6 203.16,520.91 202.5,521.21 201.89,521.48 201.83,521.51 201.16,521.81 200.49,522.11 199.88,522.39 199.81,522.42 199.14,522.72 198.46,523.02 197.88,523.27 197.78,523.31 197.1,523.61 196.41,523.91 195.89,524.14 195.73,524.21 195.04,524.51 194.35,524.8 193.92,524.99 193.66,525.1 192.97,525.4 192.28,525.69 191.95,525.83 191.58,525.99 190.88,526.28 190.18,526.57 190,526.65 189.48,526.87 188.78,527.16 188.07,527.45 188.05,527.46 187.37,527.74 186.66,528.03 186.12,528.26 185.95,528.33 185.24,528.62 184.52,528.91 184.19,529.04 183.81,529.19 183.09,529.48 182.37,529.77 182.26,529.82 181.65,530.06 180.93,530.35 180.35,530.58 180.21,530.63 179.48,530.92 178.76,531.21 178.44,531.33 178.03,531.49 177.3,531.78 176.57,532.06 176.53,532.07 175.83,532.34 175.1,532.63 174.64,532.81 174.36,532.91 173.62,533.19 172.89,533.47 172.74,533.53 172.14,533.76 171.4,534.04 170.86,534.24 170.66,534.32 169.91,534.6 169.16,534.88 168.97,534.95 168.41,535.15 167.66,535.43 167.1,535.64 166.91,535.71 166.16,535.99 165.4,536.27 165.22,536.33 164.64,536.54 163.88,536.82 163.35,537.01 163.12,537.09 162.36,537.37 161.6,537.64 161.48,537.68 160.83,537.92 160.07,538.19 159.62,538.35 159.3,538.46 158.53,538.74 157.76,539.01 157.76,539.01 156.99,539.28 156.21,539.55 155.91,539.66 155.44,539.82 154.66,540.09 154.05,540.3 153.88,540.36 153.1,540.63 152.32,540.9 152.2,540.94 151.54,541.17" fill="none" stroke="#ccb82e" stroke-width="1.35" stroke-linecap="round"/>
<polyline points="270.18,504.25 269.97,504.36 269.37,504.69 268.77,505.02 268.2,505.33 268.17,505.35 267.56,505.68 266.96,506.01 266.35,506.34 266.24,506.4 265.74,506.67 265.13,506.99 264.51,507.32 264.29,507.44 263.9,507.65 263.28,507.97 262.66,508.3 262.36,508.46 262.04,508.62 261.42,508.95 260.8,509.27 260.44,509.46 260.17,509.6 259.54,509.92 258.92,510.24 258.53,510.44 258.29,510.57 257.65,510.89 257.02,511.21 256.63,511.41 256.39,511.53 255.75,511.85 255.11,512.17 254.74,512.36 254.47,512.49 253.83,512.81 253.19,513.13 252.87,513.29 252.54,513.45 251.89,513.77 251.25,514.08 251,514.21 250.6,514.4 249.95,514.72 249.29,515.03 249.13,515.11 248.64,515.35 247.98,515.67 247.33,515.98 247.28,516 246.67,516.3 246.01,516.61 245.43,516.88 245.34,516.92 244.68,517.24 244.02,517.55 243.59,517.75 243.35,517.86 242.68,518.17 242.01,518.48 241.75,518.61 241.34,518.8 240.67,519.11 240,519.42 239.92,519.45 239.32,519.73 238.64,520.03 238.1,520.28 237.96,520.34 237.28,520.65 236.6,520.96 236.28,521.11 235.92,521.27 235.24,521.57 234.55,521.88 234.46,521.92 233.86,522.19 233.17,522.49 232.65,522.72 232.48,522.8 231.79,523.1 231.1,523.41 230.84,523.52 230.4,523.71 229.71,524.01 229.04,524.3 229.01,524.32 228.31,524.62 227.61,524.92 227.24,525.08 226.91,525.22 226.21,525.52 225.5,525.82 225.45,525.85 224.8,526.12 224.09,526.42 223.65,526.61 223.38,526.72 222.67,527.02 221.96,527.32 221.87,527.36 221.25,527.62 220.53,527.92 220.08,528.11 219.82,528.21 219.1,528.51 218.38,528.81 218.3,528.84 217.66,529.1 216.94,529.4 216.52,529.57 216.22,529.69 215.49,529.99 214.77,530.28 214.74,530.3 214.04,530.58 213.31,530.87 212.96,531.01 212.58,531.16 211.85,531.45 211.19,531.72 211.12,531.75 210.39,532.04 209.65,532.33 209.42,532.42 208.92,532.62 208.18,532.91 207.65,533.12 207.44,533.2 206.7,533.49 205.96,533.78 205.88,533.81 205.21,534.06 204.47,534.35 204.11,534.49 203.72,534.64 202.98,534.93 202.35,535.17 202.23,535.21 201.48,535.5 200.73,535.79 200.58,535.84 199.98,536.07 199.22,536.35 198.82,536.51 198.47,536.64 197.71,536.92 197.06,537.17 196.95,537.21 196.19,537.49 195.43,537.77 195.3,537.82 194.67,538.05 193.91,538.34 193.55,538.47 193.14,538.62 192.38,538.9 191.79,539.11 191.61,539.18 190.84,539.46 190.07,539.74 190.03,539.75 189.3,540.02 188.53,540.29 188.28,540.38 187.76,540.57 186.98,540.85 186.53,541.01 186.21,541.13 185.43,541.4 184.77,541.64 184.65,541.68 183.87,541.96 183.09,542.23 183.02,542.25 182.3,542.51 181.52,542.78 181.27,542.87 180.74,543.05 179.95,543.33 179.52,543.48 179.16,543.6 178.37,543.87 177.77,544.08 177.58,544.15 176.79,544.42 176.02,544.68 176,544.69 175.2,544.96 174.41,545.23 174.27,545.27 173.61,545.5 172.81,545.77" fill="none" stroke="#b5cc2e" stroke-width="1.35" stroke-linecap="round"/>
<polyline points="247.05,528.98 246.61,529.16 245.89,529.47 245.37,529.69 245.17,529.77 244.45,530.07 243.73,530.37 243.68,530.39 243,530.67 242.28,530.97 242,531.09 241.55,531.27 240.82,531.57 240.31,531.78 240.1,531.87 239.37,532.17 238.64,532.47 238.63,532.47 237.9,532.77 237.17,533.07 236.95,533.16 236.43,533.36 235.7,533.66 235.27,533.84 234.96,533.96 234.22,534.25 233.58,534.51 233.48,534.55 232.74,534.84 232,535.14 231.9,535.18 231.26,535.43 230.51,535.73 230.22,535.84 229.77,536.02 229.02,536.31 228.54,536.5 228.27,536.61 227.52,536.9 226.86,537.16 226.77,537.19 226.02,537.48 225.27,537.77 225.18,537.81 224.52,538.06 223.76,538.35 223.5,538.45 223,538.64 222.25,538.93 221.82,539.09 221.49,539.22 220.73,539.51 220.14,539.73 219.97,539.8 219.21,540.08 218.46,540.36 218.44,540.37 217.68,540.66 216.91,540.94 216.78,540.99 216.14,541.23 215.38,541.51 215.1,541.62 214.61,541.8 213.84,542.08 213.42,542.24 213.06,542.37 212.29,542.65 211.74,542.85 211.52,542.93 210.74,543.22 210.06,543.47 209.97,543.5 209.19,543.78 208.41,544.06 208.37,544.07 207.63,544.34 206.85,544.62 206.69,544.68 206.06,544.9 205.28,545.18 205.01,545.28 204.5,545.46 203.71,545.74 203.33,545.88 202.92,546.02 202.13,546.3 201.65,546.47 201.34,546.57 200.55,546.85 199.97,547.06 199.76,547.13 198.97,547.4 198.28,547.64 198.18,547.68 197.38,547.96 196.6,548.22 196.58,548.23 195.78,548.51 194.99,548.78 194.92,548.8 194.19,549.05 193.38,549.33 193.23,549.38 192.58,549.6 191.78,549.87" fill="none" stroke="#88cc2e" stroke-width="1.35" stroke-linecap="round"/>
<polyline points="235.2,541.66 234.49,541.92 233.73,542.21 233.56,542.28 232.97,542.5 232.2,542.79 231.92,542.9 231.43,543.08 230.67,543.37 230.28,543.52 229.9,543.66 229.13,543.95 228.65,544.13 228.36,544.24 227.59,544.52 227.01,544.74 226.81,544.81 226.04,545.1 225.37,545.34 225.26,545.38 224.49,545.67 223.73,545.95 223.71,545.95 222.93,546.24 222.15,546.52 222.09,546.54 221.37,546.81 220.59,547.09 220.45,547.14 219.8,547.37 219.02,547.65 218.81,547.73 218.23,547.94 217.45,548.22 217.16,548.32 216.66,548.5 215.87,548.78 215.52,548.9 215.08,549.06 214.29,549.34 213.88,549.49 213.49,549.62 212.7,549.9 212.23,550.06 211.91,550.18 211.11,550.46 210.59,550.64 210.31,550.73 209.52,551.01 208.94,551.21 208.72,551.29 207.92,551.57 207.29,551.78 207.12,551.84 206.31,552.12 205.65,552.35 205.51,552.39 204.7,552.67" fill="none" stroke="#66cc2e" stroke-width="1.35" stroke-linecap="round"/>
<g stroke-width="0.6" stroke-linejoin="round"><polygon points="143.81,367.97 150.57,367.7 154.37,367.02 147.66,367.37" fill="#fcf114" stroke="#6a6508" stroke-width="0.3"/><polygon points="139.96,368.61 146.77,368.42 150.57,367.7 143.81,367.97" fill="#fce414" stroke="#6a6008" stroke-width="0.3"/><polygon points="150.57,367.7 157.33,367.55 161.08,366.79 154.37,367.02" fill="#fce514" stroke="#6a6008" stroke-width="0.3"/><polygon points="146.77,368.42 153.57,368.36 157.33,367.55 150.57,367.7" fill="#fcd914" stroke="#6a5b08" stroke-width="0.3"/><polygon points="136.11,369.29 142.96,369.19 146.77,368.42 139.96,368.61" fill="#fcd814" stroke="#6a5b08" stroke-width="0.3"/><polygon points="157.33,367.55 164.1,367.53 167.8,366.68 161.08,366.79" fill="#fcdb14" stroke="#6a5c08" stroke-width="0.3"/><polygon points="142.96,369.19 149.82,369.21 153.57,368.36 146.77,368.42" fill="#fcce14" stroke="#6a5608" stroke-width="0.3"/><polygon points="153.57,368.36 160.39,368.43 164.1,367.53 157.33,367.55" fill="#fcd014" stroke="#6a5708" stroke-width="0.3"/><polygon points="164.1,367.53 170.87,367.63 174.53,366.7 167.8,366.68" fill="#fcd214" stroke="#6a5808" stroke-width="0.3"/><polygon points="132.25,370.01 139.15,369.99 142.96,369.19 136.11,369.29" fill="#fccc14" stroke="#6a5608" stroke-width="0.3"/><polygon points="128.4,370.77 135.34,370.85 139.15,369.99 132.25,370.01" fill="#fcc114" stroke="#6a5108" stroke-width="0.3"/><polygon points="139.15,369.99 146.06,370.11 149.82,369.21 142.96,369.19" fill="#fcc314" stroke="#6a5208" stroke-width="0.3"/><polygon points="149.82,369.21 156.68,369.36 160.39,368.43 153.57,368.36" fill="#fcc514" stroke="#6a5308" stroke-width="0.3"/><polygon points="160.39,368.43 167.21,368.62 170.87,367.63 164.1,367.53" fill="#fcc814" stroke="#6a5408" stroke-width="0.3"/><polygon points="170.87,367.63 177.65,367.86 181.25,366.84 174.53,366.7" fill="#fccb14" stroke="#6a5508" stroke-width="0.3"/><polygon points="167.21,368.62 174.03,368.94 177.65,367.86 170.87,367.63" fill="#fcc114" stroke="#6a5108" stroke-width="0.3"/><polygon points="124.53,371.58 131.53,371.75 135.34,370.85 128.4,370.77" fill="#fcb714" stroke="#6a4d08" stroke-width="0.3"/><polygon points="135.34,370.85 142.3,371.05 146.06,370.11 139.15,369.99" fill="#fcb914" stroke="#6a4e08" stroke-width="0.3"/><polygon points="146.06,370.11 152.97,370.35 156.68,369.36 149.82,369.21" fill="#fcbb14" stroke="#6a4f08" stroke-width="0.3"/><polygon points="156.68,369.36 163.55,369.65 167.21,368.62 160.39,368.43" fill="#fcbe14" stroke="#6a5008" stroke-width="0.3"/><polygon points="177.65,367.86 184.42,368.22 187.99,367.1 181.25,366.84" fill="#fcc514" stroke="#6a5308" stroke-width="0.31"/><polygon points="120.67,372.44 127.72,372.69 131.53,371.75 124.53,371.58" fill="#fcad14" stroke="#6a4908" stroke-width="0.3"/><polygon points="142.3,371.05 149.26,371.38 152.97,370.35 146.06,370.11" fill="#fcb214" stroke="#6a4b08" stroke-width="0.3"/><polygon points="163.55,369.65 170.42,370.06 174.03,368.94 167.21,368.62" fill="#fcb914" stroke="#6a4e08" stroke-width="0.32"/><polygon points="174.03,368.94 180.86,369.38 184.42,368.22 177.65,367.86" fill="#fcbc14" stroke="#6a4f08" stroke-width="0.33"/><polygon points="184.42,368.22 191.21,368.71 194.72,367.5 187.99,367.1" fill="#fcc014" stroke="#6a5108" stroke-width="0.35"/><polygon points="131.53,371.75 138.53,372.04 142.3,371.05 135.34,370.85" fill="#fcb014" stroke="#6a4a08" stroke-width="0.3"/><polygon points="152.97,370.35 159.88,370.72 163.55,369.65 156.68,369.36" fill="#fcb514" stroke="#6a4c08" stroke-width="0.3"/><polygon points="127.72,372.69 134.77,373.08 138.53,372.04 131.53,371.75" fill="#fca714" stroke="#6a4608" stroke-width="0.3"/><polygon points="149.26,371.38 156.22,371.85 159.88,370.72 152.97,370.35" fill="#fcad14" stroke="#6a4908" stroke-width="0.32"/><polygon points="180.86,369.38 187.69,369.96 191.21,368.71 184.42,368.22" fill="#fcb914" stroke="#6a4e08" stroke-width="0.37"/><polygon points="116.81,373.34 123.9,373.69 127.72,372.69 120.67,372.44" fill="#fca414" stroke="#6a4508" stroke-width="0.3"/><polygon points="138.53,372.04 145.54,372.47 149.26,371.38 142.3,371.05" fill="#fcaa14" stroke="#6a4708" stroke-width="0.31"/><polygon points="159.88,370.72 166.8,371.22 170.42,370.06 163.55,369.65" fill="#fcb114" stroke="#6a4a08" stroke-width="0.34"/><polygon points="170.42,370.06 177.29,370.6 180.86,369.38 174.03,368.94" fill="#fcb514" stroke="#6a4c08" stroke-width="0.35"/><polygon points="191.21,368.71 197.99,369.32 201.46,368.02 194.72,367.5" fill="#fcbd14" stroke="#6a5008" stroke-width="0.38"/><polygon points="123.9,373.69 131,374.17 134.77,373.08 127.72,372.69" fill="#fc9f14" stroke="#6a4308" stroke-width="0.32"/><polygon points="134.77,373.08 141.82,373.6 145.54,372.47 138.53,372.04" fill="#fca214" stroke="#6a4408" stroke-width="0.33"/><polygon points="145.54,372.47 152.55,373.02 156.22,371.85 149.26,371.38" fill="#fca514" stroke="#6a4608" stroke-width="0.35"/><polygon points="156.22,371.85 163.19,372.44 166.8,371.22 159.88,370.72" fill="#fca914" stroke="#6a4708" stroke-width="0.36"/><polygon points="177.29,370.6 184.17,371.27 187.69,369.96 180.86,369.38" fill="#fcb214" stroke="#6a4b08" stroke-width="0.39"/><polygon points="187.69,369.96 194.52,370.67 197.99,369.32 191.21,368.71" fill="#fcb714" stroke="#6a4d08" stroke-width="0.41"/><polygon points="112.94,374.3 120.08,374.74 123.9,373.69 116.81,373.34" fill="#fc9c14" stroke="#6a4208" stroke-width="0.3"/><polygon points="166.8,371.22 173.72,371.86 177.29,370.6 170.42,370.06" fill="#fcad14" stroke="#6a4908" stroke-width="0.38"/><polygon points="197.99,369.32 204.77,370.07 208.19,368.68 201.46,368.02" fill="#fcbc14" stroke="#6a4f08" stroke-width="0.42"/><polygon points="109.07,375.3 116.26,375.83 120.08,374.74 112.94,374.3" fill="#fc9414" stroke="#6a3e08" stroke-width="0.33"/><polygon points="131,374.17 138.1,374.78 141.82,373.6 134.77,373.08" fill="#fc9b14" stroke="#6a4108" stroke-width="0.36"/><polygon points="141.82,373.6 148.88,374.25 152.55,373.02 145.54,372.47" fill="#fc9f14" stroke="#6a4308" stroke-width="0.37"/><polygon points="152.55,373.02 159.57,373.71 163.19,372.44 156.22,371.85" fill="#fca314" stroke="#6a4408" stroke-width="0.39"/><polygon points="163.19,372.44 170.15,373.17 173.72,371.86 166.8,371.22" fill="#fca714" stroke="#6a4608" stroke-width="0.4"/><polygon points="173.72,371.86 180.65,372.63 184.17,371.27 177.29,370.6" fill="#fcac14" stroke="#6a4808" stroke-width="0.42"/><polygon points="184.17,371.27 191.04,372.07 194.52,370.67 187.69,369.96" fill="#fcb114" stroke="#6a4a08" stroke-width="0.43"/><polygon points="194.52,370.67 201.34,371.52 204.77,370.07 197.99,369.32" fill="#fcb614" stroke="#6a4d08" stroke-width="0.45"/><polygon points="204.77,370.07 211.55,370.95 214.92,369.46 208.19,368.68" fill="#fcbc14" stroke="#6a4f08" stroke-width="0.46"/><polygon points="120.08,374.74 127.23,375.31 131,374.17 123.9,373.69" fill="#fc9714" stroke="#6a4008" stroke-width="0.34"/><polygon points="148.88,374.25 155.95,375.04 159.57,373.71 152.55,373.02" fill="#fc9c14" stroke="#6a4208" stroke-width="0.41"/><polygon points="170.15,373.17 177.12,374.04 180.65,372.63 173.72,371.86" fill="#fca614" stroke="#6a4608" stroke-width="0.44"/><polygon points="201.34,371.52 208.17,372.49 211.55,370.95 204.77,370.07" fill="#fcb714" stroke="#6a4d08" stroke-width="0.48"/><polygon points="116.26,375.83 123.46,376.5 127.23,375.31 120.08,374.74" fill="#fc9114" stroke="#6a3d08" stroke-width="0.37"/><polygon points="138.1,374.78 145.21,375.53 148.88,374.25 141.82,373.6" fill="#fc9814" stroke="#6a4008" stroke-width="0.4"/><polygon points="105.2,376.35 112.45,376.98 116.26,375.83 109.07,375.3" fill="#fc8d14" stroke="#6a3b08" stroke-width="0.35"/><polygon points="127.23,375.31 134.39,376.02 138.1,374.78 131,374.17" fill="#fc9414" stroke="#6a3e08" stroke-width="0.38"/><polygon points="159.57,373.71 166.58,374.54 170.15,373.17 163.19,372.44" fill="#fca114" stroke="#6a4408" stroke-width="0.43"/><polygon points="180.65,372.63 187.57,373.53 191.04,372.07 184.17,371.27" fill="#fcab14" stroke="#6a4808" stroke-width="0.45"/><polygon points="191.04,372.07 197.92,373.01 201.34,371.52 194.52,370.67" fill="#fcb114" stroke="#6a4a08" stroke-width="0.47"/><polygon points="211.55,370.95 218.33,371.97 221.66,370.38 214.92,369.46" fill="#fcbd14" stroke="#6a5008" stroke-width="0.5"/><polygon points="101.33,377.46 108.63,378.18 112.45,376.98 105.2,376.35" fill="#fc8714" stroke="#6a3908" stroke-width="0.37"/><polygon points="123.46,376.5 130.67,377.31 134.39,376.02 127.23,375.31" fill="#fc8e14" stroke="#6a3c08" stroke-width="0.4"/><polygon points="145.21,375.53 152.33,376.41 155.95,375.04 148.88,374.25" fill="#fc9714" stroke="#6a3f08" stroke-width="0.43"/><polygon points="155.95,375.04 163.01,375.96 166.58,374.54 159.57,373.71" fill="#fc9c14" stroke="#6a4108" stroke-width="0.45"/><polygon points="166.58,374.54 173.6,375.5 177.12,374.04 170.15,373.17" fill="#fca114" stroke="#6a4408" stroke-width="0.46"/><polygon points="177.12,374.04 184.09,375.04 187.57,373.53 180.65,372.63" fill="#fca714" stroke="#6a4608" stroke-width="0.48"/><polygon points="197.92,373.01 204.79,374.09 208.17,372.49 201.34,371.52" fill="#fcb314" stroke="#6a4b08" stroke-width="0.51"/><polygon points="208.17,372.49 214.99,373.61 218.33,371.97 211.55,370.95" fill="#fcb914" stroke="#6a4e08" stroke-width="0.52"/><polygon points="218.33,371.97 225.1,373.12 228.38,371.43 221.66,370.38" fill="#fcc014" stroke="#6a5108" stroke-width="0.53"/><polygon points="112.45,376.98 119.69,377.75 123.46,376.5 116.26,375.83" fill="#fc8b14" stroke="#6a3a08" stroke-width="0.39"/><polygon points="134.39,376.02 141.54,376.86 145.21,375.53 138.1,374.78" fill="#fc9314" stroke="#6a3e08" stroke-width="0.42"/><polygon points="187.57,373.53 194.49,374.57 197.92,373.01 191.04,372.07" fill="#fcad14" stroke="#6a4808" stroke-width="0.49"/><polygon points="163.01,375.96 170.08,377.02 173.6,375.5 166.58,374.54" fill="#fc9d14" stroke="#6a4208" stroke-width="0.49"/><polygon points="214.99,373.61 221.81,374.86 225.1,373.12 218.33,371.97" fill="#fcbd14" stroke="#6a4f08" stroke-width="0.56"/><polygon points="108.63,378.18 115.93,379.05 119.69,377.75 112.45,376.98" fill="#fc8514" stroke="#6a3808" stroke-width="0.41"/><polygon points="130.67,377.31 137.87,378.25 141.54,376.86 134.39,376.02" fill="#fc8e14" stroke="#6a3b08" stroke-width="0.44"/><polygon points="97.47,378.62 104.81,379.44 108.63,378.18 101.33,377.46" fill="#fc8114" stroke="#6a3608" stroke-width="0.4"/><polygon points="119.69,377.75 126.95,378.65 130.67,377.31 123.46,376.5" fill="#fc8914" stroke="#6a3a08" stroke-width="0.43"/><polygon points="141.54,376.86 148.7,377.84 152.33,376.41 145.21,375.53" fill="#fc9214" stroke="#6a3d08" stroke-width="0.46"/><polygon points="152.33,376.41 159.44,377.43 163.01,375.96 155.95,375.04" fill="#fc9714" stroke="#6a4008" stroke-width="0.47"/><polygon points="173.6,375.5 180.62,376.6 184.09,375.04 177.12,374.04" fill="#fca314" stroke="#6a4408" stroke-width="0.5"/><polygon points="184.09,375.04 191.06,376.18 194.49,374.57 187.57,373.53" fill="#fca914" stroke="#6a4708" stroke-width="0.52"/><polygon points="194.49,374.57 201.41,375.74 204.79,374.09 197.92,373.01" fill="#fcaf14" stroke="#6a4a08" stroke-width="0.53"/><polygon points="204.79,374.09 211.66,375.31 214.99,373.61 208.17,372.49" fill="#fcb614" stroke="#6a4c08" stroke-width="0.54"/><polygon points="225.1,373.12 231.87,374.41 235.11,372.62 228.38,371.43" fill="#fcc514" stroke="#6a5308" stroke-width="0.57"/><polygon points="115.93,379.05 123.23,380.05 126.95,378.65 119.69,377.75" fill="#fc8514" stroke="#6a3808" stroke-width="0.45"/><polygon points="137.87,378.25 145.08,379.33 148.7,377.84 141.54,376.86" fill="#fc8e14" stroke="#6a3c08" stroke-width="0.48"/><polygon points="159.44,377.43 166.55,378.6 170.08,377.02 163.01,375.96" fill="#fc9914" stroke="#6a4008" stroke-width="0.51"/><polygon points="170.08,377.02 177.14,378.22 180.62,376.6 173.6,375.5" fill="#fc9f14" stroke="#6a4308" stroke-width="0.53"/><polygon points="191.06,376.18 198.03,377.45 201.41,375.74 194.49,374.57" fill="#fcac14" stroke="#6a4808" stroke-width="0.55"/><polygon points="211.66,375.31 218.53,376.66 221.81,374.86 214.99,373.61" fill="#fcbb14" stroke="#6a4e08" stroke-width="0.58"/><polygon points="221.81,374.86 228.63,376.25 231.87,374.41 225.1,373.12" fill="#fcc214" stroke="#6a5208" stroke-width="0.59"/><polygon points="104.81,379.44 112.16,380.41 115.93,379.05 108.63,378.18" fill="#fc8014" stroke="#6a3608" stroke-width="0.44"/><polygon points="126.95,378.65 134.2,379.69 137.87,378.25 130.67,377.31" fill="#fc8914" stroke="#6a3a08" stroke-width="0.47"/><polygon points="93.6,379.84 100.99,380.76 104.81,379.44 97.47,378.62" fill="#fc7c14" stroke="#6a3408" stroke-width="0.43"/><polygon points="148.7,377.84 155.86,378.97 159.44,377.43 152.33,376.41" fill="#fc9314" stroke="#6a3e08" stroke-width="0.5"/><polygon points="180.62,376.6 187.63,377.84 191.06,376.18 184.09,375.04" fill="#fca514" stroke="#6a4508" stroke-width="0.54"/><polygon points="201.41,375.74 208.33,377.06 211.66,375.31 204.79,374.09" fill="#fcb314" stroke="#6a4b08" stroke-width="0.57"/><polygon points="231.87,374.41 238.63,375.83 241.83,373.94 235.11,372.62" fill="#fcca14" stroke="#6a5508" stroke-width="0.61"/><polygon points="123.23,380.05 130.53,381.2 134.2,379.69 126.95,378.65" fill="#fc8514" stroke="#6a3808" stroke-width="0.49"/><polygon points="89.73,381.11 97.17,382.13 100.99,380.76 93.6,379.84" fill="#fc7814" stroke="#6a3208" stroke-width="0.45"/><polygon points="112.16,380.41 119.51,381.51 123.23,380.05 115.93,379.05" fill="#fc8114" stroke="#6a3608" stroke-width="0.48"/><polygon points="145.08,379.33 152.29,380.56 155.86,378.97 148.7,377.84" fill="#fc9014" stroke="#6a3d08" stroke-width="0.52"/><polygon points="155.86,378.97 163.03,380.23 166.55,378.6 159.44,377.43" fill="#fc9614" stroke="#6a3f08" stroke-width="0.54"/><polygon points="166.55,378.6 173.66,379.9 177.14,378.22 170.08,377.02" fill="#fc9c14" stroke="#6a4208" stroke-width="0.55"/><polygon points="177.14,378.22 184.2,379.56 187.63,377.84 180.62,376.6" fill="#fca314" stroke="#6a4408" stroke-width="0.56"/><polygon points="187.63,377.84 194.65,379.22 198.03,377.45 191.06,376.18" fill="#fcaa14" stroke="#6a4708" stroke-width="0.58"/><polygon points="198.03,377.45 204.99,378.87 208.33,377.06 201.41,375.74" fill="#fcb114" stroke="#6a4a08" stroke-width="0.59"/><polygon points="208.33,377.06 215.24,378.52 218.53,376.66 211.66,375.31" fill="#fcb914" stroke="#6a4e08" stroke-width="0.6"/><polygon points="218.53,376.66 225.39,378.15 228.63,376.25 221.81,374.86" fill="#fcc114" stroke="#6a5108" stroke-width="0.62"/><polygon points="228.63,376.25 235.44,377.78 238.63,375.83 231.87,374.41" fill="#fcc914" stroke="#6a5408" stroke-width="0.62"/><polygon points="238.63,375.83 245.39,377.4 248.54,375.41 241.83,373.94" fill="#fcd214" stroke="#6a5808" stroke-width="0.62"/><polygon points="134.2,379.69 141.46,380.88 145.08,379.33 137.87,378.25" fill="#fc8b14" stroke="#6a3a08" stroke-width="0.51"/><polygon points="100.99,380.76 108.39,381.82 112.16,380.41 104.81,379.44" fill="#fc7c14" stroke="#6a3408" stroke-width="0.47"/><polygon points="152.29,380.56 159.5,381.93 163.03,380.23 155.86,378.97" fill="#fc9414" stroke="#6a3e08" stroke-width="0.56"/><polygon points="184.2,379.56 191.26,381.05 194.65,379.22 187.63,377.84" fill="#fca814" stroke="#6a4708" stroke-width="0.6"/><polygon points="204.99,378.87 211.95,380.43 215.24,378.52 208.33,377.06" fill="#fcb714" stroke="#6a4d08" stroke-width="0.62"/><polygon points="235.44,377.78 242.24,379.45 245.39,377.4 238.63,375.83" fill="#fcd114" stroke="#6a5808" stroke-width="0.62"/><polygon points="130.53,381.2 137.84,382.49 141.46,380.88 134.2,379.69" fill="#fc8814" stroke="#6a3908" stroke-width="0.53"/><polygon points="85.86,382.43 93.36,383.56 97.17,382.13 89.73,381.11" fill="#fc7414" stroke="#6a3108" stroke-width="0.48"/><polygon points="97.17,382.13 104.62,383.3 108.39,381.82 100.99,380.76" fill="#fc7814" stroke="#6a3308" stroke-width="0.49"/><polygon points="119.51,381.51 126.86,382.76 130.53,381.2 123.23,380.05" fill="#fc8214" stroke="#6a3708" stroke-width="0.52"/><polygon points="108.39,381.82 115.79,383.03 119.51,381.51 112.16,380.41" fill="#fc7d14" stroke="#6a3508" stroke-width="0.5"/><polygon points="141.46,380.88 148.72,382.21 152.29,380.56 145.08,379.33" fill="#fc8e14" stroke="#6a3b08" stroke-width="0.55"/><polygon points="163.03,380.23 170.19,381.64 173.66,379.9 166.55,378.6" fill="#fc9a14" stroke="#6a4108" stroke-width="0.57"/><polygon points="173.66,379.9 180.77,381.35 184.2,379.56 177.14,378.22" fill="#fca114" stroke="#6a4408" stroke-width="0.59"/><polygon points="194.65,379.22 201.66,380.74 204.99,378.87 198.03,377.45" fill="#fcb014" stroke="#6a4a08" stroke-width="0.62"/><polygon points="215.24,378.52 222.14,380.11 225.39,378.15 218.53,376.66" fill="#fcc014" stroke="#6a5108" stroke-width="0.62"/><polygon points="225.39,378.15 232.24,379.79 235.44,377.78 228.63,376.25" fill="#fcc814" stroke="#6a5408" stroke-width="0.62"/><polygon points="245.39,377.4 252.14,379.11 255.25,377.01 248.54,375.41" fill="#fcda14" stroke="#6a5c08" stroke-width="0.62"/><polygon points="104.62,383.3 112.07,384.61 115.79,383.03 108.39,381.82" fill="#fc7b14" stroke="#6a3308" stroke-width="0.53"/><polygon points="137.84,382.49 145.14,383.92 148.72,382.21 141.46,380.88" fill="#fc8c14" stroke="#6a3b08" stroke-width="0.57"/><polygon points="148.72,382.21 155.97,383.68 159.5,381.93 152.29,380.56" fill="#fc9214" stroke="#6a3d08" stroke-width="0.59"/><polygon points="159.5,381.93 166.71,383.44 170.19,381.64 163.03,380.23" fill="#fc9914" stroke="#6a4008" stroke-width="0.6"/><polygon points="180.77,381.35 187.88,382.94 191.26,381.05 184.2,379.56" fill="#fca714" stroke="#6a4608" stroke-width="0.62"/><polygon points="191.26,381.05 198.32,382.68 201.66,380.74 194.65,379.22" fill="#fcaf14" stroke="#6a4908" stroke-width="0.62"/><polygon points="201.66,380.74 208.66,382.41 211.95,380.43 204.99,378.87" fill="#fcb714" stroke="#6a4d08" stroke-width="0.62"/><polygon points="211.95,380.43 218.9,382.14 222.14,380.11 215.24,378.52" fill="#fcbf14" stroke="#6a5008" stroke-width="0.62"/><polygon points="232.24,379.79 239.09,381.56 242.24,379.45 235.44,377.78" fill="#fcd114" stroke="#6a5808" stroke-width="0.62"/><polygon points="242.24,379.45 249.04,381.26 252.14,379.11 245.39,377.4" fill="#fcdb14" stroke="#6a5c08" stroke-width="0.62"/><polygon points="252.14,379.11 258.88,380.95 261.94,378.75 255.25,377.01" fill="#fce414" stroke="#6a6008" stroke-width="0.62"/><polygon points="82,383.82 89.54,385.05 93.36,383.56 85.86,382.43" fill="#fc7114" stroke="#6a2f08" stroke-width="0.5"/><polygon points="93.36,383.56 100.86,384.83 104.62,383.3 97.17,382.13" fill="#fc7614" stroke="#6a3108" stroke-width="0.52"/><polygon points="126.86,382.76 134.22,384.15 137.84,382.49 130.53,381.2" fill="#fc8614" stroke="#6a3808" stroke-width="0.56"/><polygon points="115.79,383.03 123.19,384.38 126.86,382.76 119.51,381.51" fill="#fc8014" stroke="#6a3608" stroke-width="0.54"/><polygon points="170.19,381.64 177.34,383.19 180.77,381.35 173.66,379.9" fill="#fca014" stroke="#6a4308" stroke-width="0.61"/><polygon points="222.14,380.11 229.04,381.85 232.24,379.79 225.39,378.15" fill="#fcc814" stroke="#6a5408" stroke-width="0.62"/><polygon points="145.14,383.92 152.45,385.5 155.97,383.68 148.72,382.21" fill="#fc9114" stroke="#6a3d08" stroke-width="0.61"/><polygon points="198.32,382.68 205.37,384.45 208.66,382.41 201.66,380.74" fill="#fcb714" stroke="#6a4d08" stroke-width="0.62"/><polygon points="249.04,381.26 255.82,383.22 258.88,380.95 252.14,379.11" fill="#fce614" stroke="#6a6008" stroke-width="0.62"/><polygon points="112.07,384.61 119.53,386.07 123.19,384.38 115.79,383.03" fill="#fc7e14" stroke="#6a3508" stroke-width="0.57"/><polygon points="78.13,385.27 85.73,386.6 89.54,385.05 82,383.82" fill="#fc6e14" stroke="#6a2e08" stroke-width="0.53"/><polygon points="100.86,384.83 108.36,386.25 112.07,384.61 104.62,383.3" fill="#fc7914" stroke="#6a3308" stroke-width="0.56"/><polygon points="89.54,385.05 97.09,386.43 100.86,384.83 93.36,383.56" fill="#fc7314" stroke="#6a3008" stroke-width="0.54"/><polygon points="134.22,384.15 141.57,385.69 145.14,383.92 137.84,382.49" fill="#fc8a14" stroke="#6a3a08" stroke-width="0.6"/><polygon points="155.97,383.68 163.23,385.3 166.71,383.44 159.5,381.93" fill="#fc9814" stroke="#6a4008" stroke-width="0.62"/><polygon points="166.71,383.44 173.91,385.1 177.34,383.19 170.19,381.64" fill="#fc9f14" stroke="#6a4308" stroke-width="0.62"/><polygon points="177.34,383.19 184.5,384.89 187.88,382.94 180.77,381.35" fill="#fca714" stroke="#6a4608" stroke-width="0.62"/><polygon points="187.88,382.94 194.98,384.67 198.32,382.68 191.26,381.05" fill="#fcaf14" stroke="#6a4908" stroke-width="0.62"/><polygon points="208.66,382.41 215.66,384.22 218.9,382.14 211.95,380.43" fill="#fcc014" stroke="#6a5008" stroke-width="0.62"/><polygon points="218.9,382.14 225.85,383.98 229.04,381.85 222.14,380.11" fill="#fcc914" stroke="#6a5408" stroke-width="0.62"/><polygon points="229.04,381.85 235.94,383.74 239.09,381.56 232.24,379.79" fill="#fcd214" stroke="#6a5808" stroke-width="0.62"/><polygon points="239.09,381.56 245.93,383.49 249.04,381.26 242.24,379.45" fill="#fcdc14" stroke="#6a5c08" stroke-width="0.62"/><polygon points="258.88,380.95 265.61,382.95 268.63,380.64 261.94,378.75" fill="#fcf014" stroke="#6a6508" stroke-width="0.62"/><polygon points="123.19,384.38 130.6,385.88 134.22,384.15 126.86,382.76" fill="#fc8414" stroke="#6a3708" stroke-width="0.58"/><polygon points="141.57,385.69 148.93,387.38 152.45,385.5 145.14,383.92" fill="#fc9014" stroke="#6a3d08" stroke-width="0.62"/><polygon points="152.45,385.5 159.75,387.22 163.23,385.3 155.97,383.68" fill="#fc9814" stroke="#6a4008" stroke-width="0.62"/><polygon points="173.91,385.1 181.11,386.9 184.5,384.89 177.34,383.19" fill="#fca714" stroke="#6a4608" stroke-width="0.62"/><polygon points="194.98,384.67 202.08,386.55 205.37,384.45 198.32,382.68" fill="#fcb814" stroke="#6a4d08" stroke-width="0.62"/><polygon points="205.37,384.45 212.41,386.37 215.66,384.22 208.66,382.41" fill="#fcc114" stroke="#6a5108" stroke-width="0.62"/><polygon points="225.85,383.98 232.78,385.98 235.94,383.74 229.04,381.85" fill="#fcd314" stroke="#6a5908" stroke-width="0.62"/><polygon points="245.93,383.49 252.76,385.55 255.82,383.22 249.04,381.26" fill="#fce814" stroke="#6a6108" stroke-width="0.62"/><polygon points="255.82,383.22 262.6,385.32 265.61,382.95 258.88,380.95" fill="#fcf214" stroke="#6a6608" stroke-width="0.62"/><polygon points="108.36,386.25 115.86,387.81 119.53,386.07 112.07,384.61" fill="#fc7d14" stroke="#6a3408" stroke-width="0.6"/><polygon points="119.53,386.07 126.98,387.67 130.6,385.88 123.19,384.38" fill="#fc8314" stroke="#6a3708" stroke-width="0.61"/><polygon points="74.27,386.78 81.92,388.22 85.73,386.6 78.13,385.27" fill="#fc6d14" stroke="#6a2e08" stroke-width="0.55"/><polygon points="85.73,386.6 93.33,388.09 97.09,386.43 89.54,385.05" fill="#fc7214" stroke="#6a3008" stroke-width="0.57"/><polygon points="97.09,386.43 104.64,387.95 108.36,386.25 100.86,384.83" fill="#fc7714" stroke="#6a3208" stroke-width="0.58"/><polygon points="130.6,385.88 138,387.53 141.57,385.69 134.22,384.15" fill="#fc8a14" stroke="#6a3a08" stroke-width="0.62"/><polygon points="163.23,385.3 170.48,387.07 173.91,385.1 166.71,383.44" fill="#fc9f14" stroke="#6a4308" stroke-width="0.62"/><polygon points="184.5,384.89 191.64,386.73 194.98,384.67 187.88,382.94" fill="#fcaf14" stroke="#6a4a08" stroke-width="0.62"/><polygon points="215.66,384.22 222.65,386.18 225.85,383.98 218.9,382.14" fill="#fcca14" stroke="#6a5508" stroke-width="0.62"/><polygon points="235.94,383.74 242.82,385.77 245.93,383.49 239.09,381.56" fill="#fcdd14" stroke="#6a5d08" stroke-width="0.62"/><polygon points="265.61,382.95 272.33,385.09 275.31,382.66 268.63,380.64" fill="#fcfc14" stroke="#6a6a08" stroke-width="0.62"/><polygon points="70.41,388.35 78.11,389.9 81.92,388.22 74.27,386.78" fill="#fc6b14" stroke="#6a2d08" stroke-width="0.58"/><polygon points="81.92,388.22 89.57,389.81 93.33,388.09 85.73,386.6" fill="#fc7114" stroke="#6a2f08" stroke-width="0.59"/><polygon points="93.33,388.09 100.93,389.72 104.64,387.95 97.09,386.43" fill="#fc7614" stroke="#6a3208" stroke-width="0.61"/><polygon points="104.64,387.95 112.19,389.62 115.86,387.81 108.36,386.25" fill="#fc7c14" stroke="#6a3408" stroke-width="0.62"/><polygon points="115.86,387.81 123.36,389.53 126.98,387.67 119.53,386.07" fill="#fc8314" stroke="#6a3708" stroke-width="0.62"/><polygon points="126.98,387.67 134.43,389.43 138,387.53 130.6,385.88" fill="#fc8914" stroke="#6a3a08" stroke-width="0.62"/><polygon points="138,387.53 145.4,389.32 148.93,387.38 141.57,385.69" fill="#fc9114" stroke="#6a3d08" stroke-width="0.62"/><polygon points="148.93,387.38 156.28,389.21 159.75,387.22 152.45,385.5" fill="#fc9814" stroke="#6a4008" stroke-width="0.62"/><polygon points="159.75,387.22 167.05,389.1 170.48,387.07 163.23,385.3" fill="#fca014" stroke="#6a4308" stroke-width="0.62"/><polygon points="170.48,387.07 177.73,388.98 181.11,386.9 173.91,385.1" fill="#fca814" stroke="#6a4608" stroke-width="0.62"/><polygon points="181.11,386.9 188.31,388.86 191.64,386.73 184.5,384.89" fill="#fcb014" stroke="#6a4a08" stroke-width="0.62"/><polygon points="191.64,386.73 198.79,388.72 202.08,386.55 194.98,384.67" fill="#fcb914" stroke="#6a4e08" stroke-width="0.62"/><polygon points="202.08,386.55 209.17,388.59 212.41,386.37 205.37,384.45" fill="#fcc214" stroke="#6a5208" stroke-width="0.62"/><polygon points="212.41,386.37 219.45,388.44 222.65,386.18 215.66,384.22" fill="#fccc14" stroke="#6a5608" stroke-width="0.62"/><polygon points="222.65,386.18 229.63,388.28 232.78,385.98 225.85,383.98" fill="#fcd514" stroke="#6a5a08" stroke-width="0.62"/><polygon points="232.78,385.98 239.71,388.12 242.82,385.77 235.94,383.74" fill="#fce014" stroke="#6a5e08" stroke-width="0.62"/><polygon points="242.82,385.77 249.69,387.95 252.76,385.55 245.93,383.49" fill="#fcea14" stroke="#6a6208" stroke-width="0.62"/><polygon points="252.76,385.55 259.58,387.77 262.6,385.32 255.82,383.22" fill="#fcf514" stroke="#6a6708" stroke-width="0.62"/><polygon points="262.6,385.32 269.36,387.57 272.33,385.09 265.61,382.95" fill="#f9fc14" stroke="#686a08" stroke-width="0.62"/><polygon points="272.33,385.09 279.04,387.37 281.97,384.84 275.31,382.66" fill="#edfc14" stroke="#646a08" stroke-width="0.62"/><polygon points="134.43,389.43 141.88,391.33 145.4,389.32 138,387.53" fill="#fc9114" stroke="#6a3d08" stroke-width="0.62"/><polygon points="167.05,389.1 174.35,391.13 177.73,388.98 170.48,387.07" fill="#fca914" stroke="#6a4708" stroke-width="0.62"/><polygon points="188.31,388.86 195.5,390.96 198.79,388.72 191.64,386.73" fill="#fcbb14" stroke="#6a4f08" stroke-width="0.62"/><polygon points="219.45,388.44 226.48,390.66 229.63,388.28 222.65,386.18" fill="#fcd814" stroke="#6a5b08" stroke-width="0.62"/><polygon points="239.71,388.12 246.63,390.41 249.69,387.95 242.82,385.77" fill="#fced14" stroke="#6a6408" stroke-width="0.62"/><polygon points="269.36,387.57 276.11,389.97 279.04,387.37 272.33,385.09" fill="#e9fc14" stroke="#626a08" stroke-width="0.62"/><polygon points="89.57,389.81 97.22,391.55 100.93,389.72 93.33,388.09" fill="#fc7614" stroke="#6a3208" stroke-width="0.62"/><polygon points="100.93,389.72 108.53,391.5 112.19,389.62 104.64,387.95" fill="#fc7d14" stroke="#6a3408" stroke-width="0.62"/><polygon points="78.11,389.9 85.81,391.6 89.57,389.81 81.92,388.22" fill="#fc7014" stroke="#6a2f08" stroke-width="0.62"/><polygon points="112.19,389.62 119.75,391.45 123.36,389.53 115.86,387.81" fill="#fc8314" stroke="#6a3708" stroke-width="0.62"/><polygon points="123.36,389.53 130.86,391.39 134.43,389.43 126.98,387.67" fill="#fc8a14" stroke="#6a3a08" stroke-width="0.62"/><polygon points="145.4,389.32 152.8,391.27 156.28,389.21 148.93,387.38" fill="#fc9914" stroke="#6a4008" stroke-width="0.62"/><polygon points="156.28,389.21 163.62,391.2 167.05,389.1 159.75,387.22" fill="#fca114" stroke="#6a4408" stroke-width="0.62"/><polygon points="177.73,388.98 184.97,391.05 188.31,388.86 181.11,386.9" fill="#fcb214" stroke="#6a4b08" stroke-width="0.62"/><polygon points="198.79,388.72 205.92,390.87 209.17,388.59 202.08,386.55" fill="#fcc414" stroke="#6a5208" stroke-width="0.62"/><polygon points="209.17,388.59 216.25,390.77 219.45,388.44 212.41,386.37" fill="#fcce14" stroke="#6a5708" stroke-width="0.62"/><polygon points="229.63,388.28 236.6,390.54 239.71,388.12 232.78,385.98" fill="#fce214" stroke="#6a5f08" stroke-width="0.62"/><polygon points="249.69,387.95 256.56,390.28 259.58,387.77 252.76,385.55" fill="#fcf814" stroke="#6a6808" stroke-width="0.62"/><polygon points="259.58,387.77 266.38,390.13 269.36,387.57 262.6,385.32" fill="#f5fc14" stroke="#676a08" stroke-width="0.62"/><polygon points="130.86,391.39 138.36,393.41 141.88,391.33 134.43,389.43" fill="#fc9314" stroke="#6a3e08" stroke-width="0.62"/><polygon points="97.22,391.55 104.87,393.44 108.53,391.5 100.93,389.72" fill="#fc7d14" stroke="#6a3508" stroke-width="0.62"/><polygon points="141.88,391.33 149.33,393.39 152.8,391.27 145.4,389.32" fill="#fc9b14" stroke="#6a4108" stroke-width="0.62"/><polygon points="163.62,391.2 170.97,393.34 174.35,391.13 167.05,389.1" fill="#fcab14" stroke="#6a4808" stroke-width="0.62"/><polygon points="174.35,391.13 181.64,393.3 184.97,391.05 177.73,388.98" fill="#fcb414" stroke="#6a4c08" stroke-width="0.62"/><polygon points="184.97,391.05 192.21,393.26 195.5,390.96 188.31,388.86" fill="#fcbe14" stroke="#6a5008" stroke-width="0.62"/><polygon points="195.5,390.96 202.68,393.21 205.92,390.87 198.79,388.72" fill="#fcc714" stroke="#6a5408" stroke-width="0.62"/><polygon points="216.25,390.77 223.32,393.1 226.48,390.66 219.45,388.44" fill="#fcdb14" stroke="#6a5c08" stroke-width="0.62"/><polygon points="226.48,390.66 233.49,393.03 236.6,390.54 229.63,388.28" fill="#fce614" stroke="#6a6108" stroke-width="0.62"/><polygon points="236.6,390.54 243.56,392.95 246.63,390.41 239.71,388.12" fill="#fcf114" stroke="#6a6508" stroke-width="0.62"/><polygon points="246.63,390.41 253.54,392.85 256.56,390.28 249.69,387.95" fill="#fcfc14" stroke="#6a6a08" stroke-width="0.62"/><polygon points="266.38,390.13 273.18,392.64 276.11,389.97 269.36,387.57" fill="#e5fc14" stroke="#606a08" stroke-width="0.62"/><polygon points="85.81,391.6 93.51,393.45 97.22,391.55 89.57,389.81" fill="#fc7714" stroke="#6a3208" stroke-width="0.62"/><polygon points="108.53,391.5 116.13,393.44 119.75,391.45 112.19,389.62" fill="#fc8414" stroke="#6a3808" stroke-width="0.62"/><polygon points="119.75,391.45 127.3,393.42 130.86,391.39 123.36,389.53" fill="#fc8b14" stroke="#6a3b08" stroke-width="0.62"/><polygon points="152.8,391.27 160.2,393.37 163.62,391.2 156.28,389.21" fill="#fca314" stroke="#6a4408" stroke-width="0.62"/><polygon points="205.92,390.87 213.05,393.16 216.25,390.77 209.17,388.59" fill="#fcd114" stroke="#6a5808" stroke-width="0.62"/><polygon points="256.56,390.28 263.41,392.75 266.38,390.13 259.58,387.77" fill="#f1fc14" stroke="#656a08" stroke-width="0.62"/><polygon points="181.64,393.3 188.92,395.64 192.21,393.26 184.97,391.05" fill="#fcc114" stroke="#6a5108" stroke-width="0.62"/><polygon points="233.49,393.03 240.5,395.55 243.56,392.95 236.6,390.54" fill="#fcf514" stroke="#6a6708" stroke-width="0.62"/><polygon points="127.3,393.42 134.84,395.56 138.36,393.41 130.86,391.39" fill="#fc9514" stroke="#6a3f08" stroke-width="0.62"/><polygon points="93.51,393.45 101.21,395.46 104.87,393.44 97.22,391.55" fill="#fc7f14" stroke="#6a3508" stroke-width="0.62"/><polygon points="104.87,393.44 112.52,395.49 116.13,393.44 108.53,391.5" fill="#fc8614" stroke="#6a3808" stroke-width="0.62"/><polygon points="138.36,393.41 145.86,395.58 149.33,393.39 141.88,391.33" fill="#fc9d14" stroke="#6a4208" stroke-width="0.62"/><polygon points="116.13,393.44 123.73,395.53 127.3,393.42 119.75,391.45" fill="#fc8d14" stroke="#6a3b08" stroke-width="0.62"/><polygon points="149.33,393.39 156.77,395.6 160.2,393.37 152.8,391.27" fill="#fca614" stroke="#6a4608" stroke-width="0.62"/><polygon points="160.2,393.37 167.59,395.62 170.97,393.34 163.62,391.2" fill="#fcae14" stroke="#6a4908" stroke-width="0.62"/><polygon points="170.97,393.34 178.3,395.63 181.64,393.3 174.35,391.13" fill="#fcb714" stroke="#6a4d08" stroke-width="0.62"/><polygon points="192.21,393.26 199.43,395.63 202.68,393.21 195.5,390.96" fill="#fccb14" stroke="#6a5508" stroke-width="0.62"/><polygon points="202.68,393.21 209.85,395.62 213.05,393.16 205.92,390.87" fill="#fcd514" stroke="#6a5908" stroke-width="0.62"/><polygon points="213.05,393.16 220.17,395.61 223.32,393.1 216.25,390.77" fill="#fcdf14" stroke="#6a5e08" stroke-width="0.62"/><polygon points="223.32,393.1 230.38,395.58 233.49,393.03 226.48,390.66" fill="#fcea14" stroke="#6a6208" stroke-width="0.62"/><polygon points="243.56,392.95 250.51,395.5 253.54,392.85 246.63,390.41" fill="#f8fc14" stroke="#686a08" stroke-width="0.62"/><polygon points="253.54,392.85 260.43,395.45 263.41,392.75 256.56,390.28" fill="#ecfc14" stroke="#636a08" stroke-width="0.62"/><polygon points="263.41,392.75 270.24,395.38 273.18,392.64 266.38,390.13" fill="#e0fc14" stroke="#5e6a08" stroke-width="0.62"/><polygon points="123.73,395.53 131.33,397.77 134.84,395.56 127.3,393.42" fill="#fc9814" stroke="#6a4008" stroke-width="0.62"/><polygon points="156.77,395.6 164.21,397.97 167.59,395.62 160.2,393.37" fill="#fcb214" stroke="#6a4b08" stroke-width="0.62"/><polygon points="178.3,395.63 185.63,398.08 188.92,395.64 181.64,393.3" fill="#fcc514" stroke="#6a5308" stroke-width="0.62"/><polygon points="188.92,395.64 196.19,398.12 199.43,395.63 192.21,393.26" fill="#fccf14" stroke="#6a5708" stroke-width="0.62"/><polygon points="209.85,395.62 217.01,398.19 220.17,395.61 213.05,393.16" fill="#fce414" stroke="#6a6008" stroke-width="0.62"/><polygon points="230.38,395.58 237.43,398.22 240.5,395.55 233.49,393.03" fill="#fcfb14" stroke="#6a6908" stroke-width="0.62"/><polygon points="240.5,395.55 247.49,398.22 250.51,395.5 243.56,392.95" fill="#f3fc14" stroke="#666a08" stroke-width="0.62"/><polygon points="260.43,395.45 267.31,398.19 270.24,395.38 263.41,392.75" fill="#dafc14" stroke="#5c6a08" stroke-width="0.62"/><polygon points="101.21,395.46 108.91,397.62 112.52,395.49 104.87,393.44" fill="#fc8814" stroke="#6a3908" stroke-width="0.62"/><polygon points="112.52,395.49 120.17,397.7 123.73,395.53 116.13,393.44" fill="#fc9014" stroke="#6a3c08" stroke-width="0.62"/><polygon points="134.84,395.56 142.39,397.84 145.86,395.58 138.36,393.41" fill="#fca014" stroke="#6a4308" stroke-width="0.62"/><polygon points="145.86,395.58 153.35,397.91 156.77,395.6 149.33,393.39" fill="#fca914" stroke="#6a4708" stroke-width="0.62"/><polygon points="167.59,395.62 174.97,398.03 178.3,395.63 170.97,393.34" fill="#fcbb14" stroke="#6a4f08" stroke-width="0.62"/><polygon points="199.43,395.63 206.65,398.16 209.85,395.62 202.68,393.21" fill="#fcd914" stroke="#6a5b08" stroke-width="0.62"/><polygon points="220.17,395.61 227.27,398.21 230.38,395.58 223.32,393.1" fill="#fcef14" stroke="#6a6408" stroke-width="0.62"/><polygon points="250.51,395.5 257.45,398.21 260.43,395.45 253.54,392.85" fill="#e6fc14" stroke="#616a08" stroke-width="0.62"/><polygon points="120.17,397.7 127.82,400.06 131.33,397.77 123.73,395.53" fill="#fc9b14" stroke="#6a4108" stroke-width="0.62"/><polygon points="153.35,397.91 160.83,400.39 164.21,397.97 156.77,395.6" fill="#fcb614" stroke="#6a4c08" stroke-width="0.62"/><polygon points="108.91,397.62 116.61,399.94 120.17,397.7 112.52,395.49" fill="#fc9314" stroke="#6a3e08" stroke-width="0.62"/><polygon points="131.33,397.77 138.92,400.18 142.39,397.84 134.84,395.56" fill="#fca414" stroke="#6a4508" stroke-width="0.62"/><polygon points="164.21,397.97 171.64,400.5 174.97,398.03 167.59,395.62" fill="#fcbf14" stroke="#6a5008" stroke-width="0.62"/><polygon points="174.97,398.03 182.34,400.59 185.63,398.08 178.3,395.63" fill="#fcc914" stroke="#6a5508" stroke-width="0.62"/><polygon points="185.63,398.08 192.95,400.68 196.19,398.12 188.92,395.64" fill="#fcd414" stroke="#6a5908" stroke-width="0.62"/><polygon points="196.19,398.12 203.45,400.76 206.65,398.16 199.43,395.63" fill="#fcde14" stroke="#6a5d08" stroke-width="0.62"/><polygon points="206.65,398.16 213.86,400.84 217.01,398.19 209.85,395.62" fill="#fce914" stroke="#6a6208" stroke-width="0.62"/><polygon points="217.01,398.19 224.16,400.91 227.27,398.21 220.17,395.61" fill="#fcf514" stroke="#6a6708" stroke-width="0.62"/><polygon points="227.27,398.21 234.37,400.96 237.43,398.22 230.38,395.58" fill="#f9fc14" stroke="#686a08" stroke-width="0.62"/><polygon points="237.43,398.22 244.47,401.01 247.49,398.22 240.5,395.55" fill="#edfc14" stroke="#636a08" stroke-width="0.62"/><polygon points="247.49,398.22 254.47,401.05 257.45,398.21 250.51,395.5" fill="#e0fc14" stroke="#5e6a08" stroke-width="0.62"/><polygon points="257.45,398.21 264.37,401.08 267.31,398.19 260.43,395.45" fill="#d4fc14" stroke="#596a08" stroke-width="0.62"/><polygon points="142.39,397.84 149.93,400.29 153.35,397.91 145.86,395.58" fill="#fcad14" stroke="#6a4808" stroke-width="0.62"/><polygon points="116.61,399.94 124.31,402.42 127.82,400.06 120.17,397.7" fill="#fc9f14" stroke="#6a4308" stroke-width="0.62"/><polygon points="171.64,400.5 179.06,403.18 182.34,400.59 174.97,398.03" fill="#fccf14" stroke="#6a5708" stroke-width="0.62"/><polygon points="203.45,400.76 210.7,403.57 213.86,400.84 206.65,398.16" fill="#fcef14" stroke="#6a6408" stroke-width="0.62"/><polygon points="224.16,400.91 231.3,403.78 234.37,400.96 227.27,398.21" fill="#f2fc14" stroke="#666a08" stroke-width="0.62"/><polygon points="254.47,401.05 261.44,404.04 264.37,401.08 257.45,398.21" fill="#cdfc14" stroke="#566a08" stroke-width="0.62"/><polygon points="127.82,400.06 135.46,402.58 138.92,400.18 131.33,397.77" fill="#fca814" stroke="#6a4708" stroke-width="0.62"/><polygon points="149.93,400.29 157.46,402.89 160.83,400.39 153.35,397.91" fill="#fcbb14" stroke="#6a4e08" stroke-width="0.62"/><polygon points="138.92,400.18 146.51,402.74 149.93,400.29 142.39,397.84" fill="#fcb114" stroke="#6a4a08" stroke-width="0.62"/><polygon points="160.83,400.39 168.31,403.04 171.64,400.5 164.21,397.97" fill="#fcc414" stroke="#6a5308" stroke-width="0.62"/><polygon points="182.34,400.59 189.71,403.32 192.95,400.68 185.63,398.08" fill="#fcd914" stroke="#6a5b08" stroke-width="0.62"/><polygon points="192.95,400.68 200.26,403.44 203.45,400.76 196.19,398.12" fill="#fce414" stroke="#6a6008" stroke-width="0.62"/><polygon points="213.86,400.84 221.05,403.68 224.16,400.91 217.01,398.19" fill="#fcfb14" stroke="#6a6908" stroke-width="0.62"/><polygon points="234.37,400.96 241.45,403.88 244.47,401.01 237.43,398.22" fill="#e6fc14" stroke="#616a08" stroke-width="0.62"/><polygon points="244.47,401.01 251.49,403.96 254.47,401.05 247.49,398.22" fill="#d9fc14" stroke="#5b6a08" stroke-width="0.62"/><polygon points="124.31,402.42 131.99,405.06 135.46,402.58 127.82,400.06" fill="#fcad14" stroke="#6a4908" stroke-width="0.62"/><polygon points="146.51,402.74 154.08,405.46 157.46,402.89 149.93,400.29" fill="#fcc014" stroke="#6a5108" stroke-width="0.62"/><polygon points="168.31,403.04 175.77,405.84 179.06,403.18 171.64,400.5" fill="#fcd414" stroke="#6a5908" stroke-width="0.62"/><polygon points="179.06,403.18 186.47,406.02 189.71,403.32 182.34,400.59" fill="#fcdf14" stroke="#6a5e08" stroke-width="0.62"/><polygon points="200.26,403.44 207.55,406.37 210.7,403.57 203.45,400.76" fill="#fcf614" stroke="#6a6708" stroke-width="0.62"/><polygon points="210.7,403.57 217.94,406.53 221.05,403.68 213.86,400.84" fill="#f7fc14" stroke="#686a08" stroke-width="0.62"/><polygon points="221.05,403.68 228.23,406.68 231.3,403.78 224.16,400.91" fill="#ebfc14" stroke="#636a08" stroke-width="0.62"/><polygon points="231.3,403.78 238.42,406.82 241.45,403.88 234.37,400.96" fill="#dffc14" stroke="#5e6a08" stroke-width="0.62"/><polygon points="251.49,403.96 258.5,407.07 261.44,404.04 254.47,401.05" fill="#c5fc14" stroke="#536a08" stroke-width="0.62"/><polygon points="135.46,402.58 143.09,405.26 146.51,402.74 138.92,400.18" fill="#fcb614" stroke="#6a4d08" stroke-width="0.62"/><polygon points="157.46,402.89 164.98,405.66 168.31,403.04 160.83,400.39" fill="#fcca14" stroke="#6a5508" stroke-width="0.62"/><polygon points="189.71,403.32 197.06,406.2 200.26,403.44 192.95,400.68" fill="#fcea14" stroke="#6a6208" stroke-width="0.62"/><polygon points="241.45,403.88 248.51,406.95 251.49,403.96 244.47,401.01" fill="#d2fc14" stroke="#586a08" stroke-width="0.62"/><polygon points="217.94,406.53 225.17,409.65 228.23,406.68 221.05,403.68" fill="#e4fc14" stroke="#606a08" stroke-width="0.62"/><polygon points="143.09,405.26 150.71,408.11 154.08,405.46 146.51,402.74" fill="#fcc614" stroke="#6a5308" stroke-width="0.62"/><polygon points="164.98,405.66 172.49,408.58 175.77,405.84 168.31,403.04" fill="#fcdb14" stroke="#6a5c08" stroke-width="0.62"/><polygon points="131.99,405.06 139.67,407.86 143.09,405.26 135.46,402.58" fill="#fcbc14" stroke="#6a4f08" stroke-width="0.62"/><polygon points="154.08,405.46 161.65,408.35 164.98,405.66 157.46,402.89" fill="#fcd014" stroke="#6a5808" stroke-width="0.62"/><polygon points="175.77,405.84 183.23,408.81 186.47,406.02 179.06,403.18" fill="#fce614" stroke="#6a6108" stroke-width="0.62"/><polygon points="186.47,406.02 193.86,409.03 197.06,406.2 189.71,403.32" fill="#fcf114" stroke="#6a6508" stroke-width="0.62"/><polygon points="197.06,406.2 204.4,409.24 207.55,406.37 200.26,403.44" fill="#fcfc14" stroke="#6a6a08" stroke-width="0.62"/><polygon points="207.55,406.37 214.84,409.45 217.94,406.53 210.7,403.57" fill="#f0fc14" stroke="#656a08" stroke-width="0.62"/><polygon points="228.23,406.68 235.4,409.84 238.42,406.82 231.3,403.78" fill="#d7fc14" stroke="#5a6a08" stroke-width="0.62"/><polygon points="238.42,406.82 245.53,410.02 248.51,406.95 241.45,403.88" fill="#cafc14" stroke="#556a08" stroke-width="0.62"/><polygon points="248.51,406.95 255.56,410.18 258.5,407.07 251.49,403.96" fill="#bcfc14" stroke="#4f6a08" stroke-width="0.62"/><polygon points="139.67,407.86 147.35,410.83 150.71,408.11 143.09,405.26" fill="#fccd14" stroke="#6a5608" stroke-width="0.62"/><polygon points="161.65,408.35 169.21,411.4 172.49,408.58 164.98,405.66" fill="#fce214" stroke="#6a5f08" stroke-width="0.62"/><polygon points="193.86,409.03 201.25,412.2 204.4,409.24 197.06,406.2" fill="#f4fc14" stroke="#676a08" stroke-width="0.62"/><polygon points="214.84,409.45 222.1,412.7 225.17,409.65 217.94,406.53" fill="#dbfc14" stroke="#5c6a08" stroke-width="0.62"/><polygon points="225.17,409.65 232.38,412.93 235.4,409.84 228.23,406.68" fill="#cefc14" stroke="#576a08" stroke-width="0.62"/><polygon points="245.53,410.02 252.63,413.37 255.56,410.18 248.51,406.95" fill="#b3fc14" stroke="#4b6a08" stroke-width="0.62"/><polygon points="150.71,408.11 158.33,411.12 161.65,408.35 154.08,405.46" fill="#fcd714" stroke="#6a5a08" stroke-width="0.62"/><polygon points="172.49,408.58 179.99,411.67 183.23,408.81 175.77,405.84" fill="#fced14" stroke="#6a6408" stroke-width="0.62"/><polygon points="183.23,408.81 190.67,411.94 193.86,409.03 186.47,406.02" fill="#fcf914" stroke="#6a6908" stroke-width="0.62"/><polygon points="204.4,409.24 211.73,412.45 214.84,409.45 207.55,406.37" fill="#e8fc14" stroke="#616a08" stroke-width="0.62"/><polygon points="235.4,409.84 242.55,413.16 245.53,410.02 238.42,406.82" fill="#c1fc14" stroke="#516a08" stroke-width="0.62"/><polygon points="158.33,411.12 165.93,414.29 169.21,411.4 161.65,408.35" fill="#fcea14" stroke="#6a6208" stroke-width="0.62"/><polygon points="147.35,410.83 155.01,413.96 158.33,411.12 150.71,408.11" fill="#fcdf14" stroke="#6a5e08" stroke-width="0.62"/><polygon points="169.21,411.4 176.76,414.61 179.99,411.67 172.49,408.58" fill="#fcf514" stroke="#6a6708" stroke-width="0.62"/><polygon points="179.99,411.67 187.48,414.93 190.67,411.94 183.23,408.81" fill="#f8fc14" stroke="#686a08" stroke-width="0.62"/><polygon points="190.67,411.94 198.1,415.23 201.25,412.2 193.86,409.03" fill="#ecfc14" stroke="#636a08" stroke-width="0.62"/><polygon points="201.25,412.2 208.62,415.53 211.73,412.45 204.4,409.24" fill="#dffc14" stroke="#5e6a08" stroke-width="0.62"/><polygon points="211.73,412.45 219.04,415.82 222.1,412.7 214.84,409.45" fill="#d2fc14" stroke="#586a08" stroke-width="0.62"/><polygon points="222.1,412.7 229.36,416.11 232.38,412.93 225.17,409.65" fill="#c5fc14" stroke="#536a08" stroke-width="0.62"/><polygon points="232.38,412.93 239.57,416.38 242.55,413.16 235.4,409.84" fill="#b8fc14" stroke="#4d6a08" stroke-width="0.62"/><polygon points="242.55,413.16 249.69,416.64 252.63,413.37 245.53,410.02" fill="#aafc14" stroke="#476a08" stroke-width="0.62"/><polygon points="155.01,413.96 162.66,417.26 165.93,414.29 158.33,411.12" fill="#fcf214" stroke="#6a6608" stroke-width="0.62"/><polygon points="208.62,415.53 215.98,419.03 219.04,415.82 211.73,412.45" fill="#c9fc14" stroke="#546a08" stroke-width="0.62"/><polygon points="239.57,416.38 246.75,419.99 249.69,416.64 242.55,413.16" fill="#9ffc14" stroke="#436a08" stroke-width="0.62"/><polygon points="165.93,414.29 173.52,417.63 176.76,414.61 169.21,411.4" fill="#fbfc14" stroke="#696a08" stroke-width="0.62"/><polygon points="176.76,414.61 184.29,417.99 187.48,414.93 179.99,411.67" fill="#effc14" stroke="#646a08" stroke-width="0.62"/><polygon points="187.48,414.93 194.95,418.35 198.1,415.23 190.67,411.94" fill="#e2fc14" stroke="#5f6a08" stroke-width="0.62"/><polygon points="198.1,415.23 205.52,418.69 208.62,415.53 201.25,412.2" fill="#d6fc14" stroke="#5a6a08" stroke-width="0.62"/><polygon points="219.04,415.82 226.34,419.36 229.36,416.11 222.1,412.7" fill="#bbfc14" stroke="#4f6a08" stroke-width="0.62"/><polygon points="229.36,416.11 236.6,419.68 239.57,416.38 232.38,412.93" fill="#aefc14" stroke="#496a08" stroke-width="0.62"/><polygon points="162.66,417.26 170.3,420.73 173.52,417.63 165.93,414.29" fill="#f2fc14" stroke="#656a08" stroke-width="0.62"/><polygon points="184.29,417.99 191.81,421.54 194.95,418.35 187.48,414.93" fill="#d9fc14" stroke="#5b6a08" stroke-width="0.62"/><polygon points="205.52,418.69 212.92,422.32 215.98,419.03 208.62,415.53" fill="#befc14" stroke="#506a08" stroke-width="0.62"/><polygon points="215.98,419.03 223.32,422.7 226.34,419.36 219.04,415.82" fill="#b1fc14" stroke="#4a6a08" stroke-width="0.62"/><polygon points="236.6,419.68 243.81,423.43 246.75,419.99 239.57,416.38" fill="#95fc14" stroke="#3e6a08" stroke-width="0.62"/><polygon points="173.52,417.63 181.1,421.14 184.29,417.99 176.76,414.61" fill="#e5fc14" stroke="#606a08" stroke-width="0.62"/><polygon points="194.95,418.35 202.41,421.94 205.52,418.69 198.1,415.23" fill="#ccfc14" stroke="#566a08" stroke-width="0.62"/><polygon points="226.34,419.36 233.62,423.07 236.6,419.68 229.36,416.11" fill="#a3fc14" stroke="#446a08" stroke-width="0.62"/><polygon points="181.1,421.14 188.67,424.82 191.81,421.54 184.29,417.99" fill="#cefc14" stroke="#576a08" stroke-width="0.62"/><polygon points="202.41,421.94 209.86,425.7 212.92,422.32 205.52,418.69" fill="#b4fc14" stroke="#4b6a08" stroke-width="0.62"/><polygon points="170.3,420.73 177.92,424.37 181.1,421.14 173.52,417.63" fill="#dbfc14" stroke="#5c6a08" stroke-width="0.62"/><polygon points="191.81,421.54 199.31,425.26 202.41,421.94 194.95,418.35" fill="#c1fc14" stroke="#516a08" stroke-width="0.62"/><polygon points="212.92,422.32 220.3,426.12 223.32,422.7 215.98,419.03" fill="#a6fc14" stroke="#466a08" stroke-width="0.62"/><polygon points="223.32,422.7 230.64,426.54 233.62,423.07 226.34,419.36" fill="#98fc14" stroke="#406a08" stroke-width="0.62"/><polygon points="233.62,423.07 240.88,426.94 243.81,423.43 236.6,419.68" fill="#89fc14" stroke="#3a6a08" stroke-width="0.62"/><polygon points="177.92,424.37 185.53,428.19 188.67,424.82 181.1,421.14" fill="#c3fc14" stroke="#526a08" stroke-width="0.62"/><polygon points="188.67,424.82 196.21,428.67 199.31,425.26 191.81,421.54" fill="#b6fc14" stroke="#4c6a08" stroke-width="0.62"/><polygon points="199.31,425.26 206.8,429.16 209.86,425.7 202.41,421.94" fill="#a8fc14" stroke="#476a08" stroke-width="0.62"/><polygon points="209.86,425.7 217.28,429.63 220.3,426.12 212.92,422.32" fill="#9afc14" stroke="#416a08" stroke-width="0.62"/><polygon points="230.64,426.54 237.94,430.54 240.88,426.94 233.62,423.07" fill="#7dfc14" stroke="#346a08" stroke-width="0.62"/><polygon points="220.3,426.12 227.66,430.09 230.64,426.54 223.32,422.7" fill="#8cfc14" stroke="#3b6a08" stroke-width="0.62"/><polygon points="185.53,428.19 193.12,432.17 196.21,428.67 188.67,424.82" fill="#aafc14" stroke="#476a08" stroke-width="0.62"/><polygon points="196.21,428.67 203.74,432.7 206.8,429.16 199.31,425.26" fill="#9cfc14" stroke="#416a08" stroke-width="0.62"/><polygon points="206.8,429.16 214.27,433.22 217.28,429.63 209.86,425.7" fill="#8efc14" stroke="#3b6a08" stroke-width="0.62"/><polygon points="217.28,429.63 224.69,433.73 227.66,430.09 220.3,426.12" fill="#7ffc14" stroke="#356a08" stroke-width="0.62"/><polygon points="227.66,430.09 235.01,434.23 237.94,430.54 230.64,426.54" fill="#70fc14" stroke="#2f6a08" stroke-width="0.62"/><polygon points="193.12,432.17 200.69,436.33 203.74,432.7 196.21,428.67" fill="#8ffc14" stroke="#3c6a08" stroke-width="0.62"/><polygon points="203.74,432.7 211.25,436.9 214.27,433.22 206.8,429.16" fill="#80fc14" stroke="#366a08" stroke-width="0.62"/><polygon points="214.27,433.22 221.71,437.46 224.69,433.73 217.28,429.63" fill="#72fc14" stroke="#306a08" stroke-width="0.62"/><polygon points="224.69,433.73 232.07,438.01 235.01,434.23 227.66,430.09" fill="#62fc14" stroke="#296a08" stroke-width="0.62"/><polygon points="200.69,436.33 208.24,440.67 211.25,436.9 203.74,432.7" fill="#73fc14" stroke="#306a08" stroke-width="0.62"/><polygon points="221.71,437.46 229.14,441.88 232.07,438.01 224.69,433.73" fill="#54fc14" stroke="#236a08" stroke-width="0.62"/><polygon points="211.25,436.9 218.74,441.28 221.71,437.46 214.27,433.22" fill="#64fc14" stroke="#2a6a08" stroke-width="0.62"/><polygon points="218.74,441.28 226.21,445.83 229.14,441.88 221.71,437.46" fill="#45fc14" stroke="#1d6a08" stroke-width="0.62"/><polygon points="208.24,440.67 215.77,445.19 218.74,441.28 211.25,436.9" fill="#55fc14" stroke="#246a08" stroke-width="0.62"/><polygon points="215.77,445.19 223.28,449.88 226.21,445.83 218.74,441.28" fill="#36fc14" stroke="#176a08" stroke-width="0.62"/></g>
<circle cx="180.9" cy="382.1" r="2.6" fill="#c80000" stroke="#700000" stroke-width="0.6"/>
<g fill="#111"><circle cx="75.11" cy="488.83" r="1.1"/><circle cx="73.76" cy="459.9" r="1.1"/><circle cx="72.4" cy="430.97" r="1.1"/><circle cx="71.05" cy="402.03" r="1.1"/><circle cx="69.7" cy="373.1" r="1.1"/><circle cx="76.8" cy="525" r="1.1"/><circle cx="105.74" cy="531.26" r="1.1"/><circle cx="134.68" cy="537.52" r="1.1"/><circle cx="163.62" cy="543.78" r="1.1"/><circle cx="192.56" cy="550.04" r="1.1"/><circle cx="221.5" cy="556.3" r="1.1"/><circle cx="221.5" cy="556.3" r="1.1"/><circle cx="232.76" cy="544.26" r="1.1"/><circle cx="244.02" cy="532.22" r="1.1"/><circle cx="255.28" cy="520.18" r="1.1"/><circle cx="266.54" cy="508.14" r="1.1"/><circle cx="277.8" cy="496.1" r="1.1"/></g>
<g style="filter:grayscale(1)" font-family="Liberation Sans, sans-serif" font-size="5.5" fill="#404040" stroke="#404040" stroke-width="0.12"><text x="70.51" y="487.1" text-anchor="middle" textLength="2.63" lengthAdjust="spacingAndGlyphs">1</text><text x="69.16" y="458.17" text-anchor="middle" textLength="2.63" lengthAdjust="spacingAndGlyphs">2</text><text x="67.8" y="429.24" text-anchor="middle" textLength="2.63" lengthAdjust="spacingAndGlyphs">3</text><text x="66.45" y="400.3" text-anchor="middle" textLength="2.63" lengthAdjust="spacingAndGlyphs">4</text><text x="65.1" y="371.37" text-anchor="middle" textLength="2.63" lengthAdjust="spacingAndGlyphs">5</text><text x="73.8" y="530.47" text-anchor="end" textLength="6.57" lengthAdjust="spacingAndGlyphs">6.5</text><text x="102.74" y="536.73" text-anchor="end" textLength="6.57" lengthAdjust="spacingAndGlyphs">6.3</text><text x="131.68" y="542.99" text-anchor="end" textLength="6.57" lengthAdjust="spacingAndGlyphs">6.1</text><text x="160.62" y="549.25" text-anchor="end" textLength="6.57" lengthAdjust="spacingAndGlyphs">5.9</text><text x="189.56" y="555.51" text-anchor="end" textLength="6.57" lengthAdjust="spacingAndGlyphs">5.7</text><text x="218.5" y="561.77" text-anchor="end" textLength="6.57" lengthAdjust="spacingAndGlyphs">5.5</text><text x="224.6" y="561.57" text-anchor="start" textLength="11.84" lengthAdjust="spacingAndGlyphs">0.005</text><text x="235.86" y="549.53" text-anchor="start" textLength="11.84" lengthAdjust="spacingAndGlyphs">0.007</text><text x="247.12" y="537.49" text-anchor="start" textLength="11.84" lengthAdjust="spacingAndGlyphs">0.009</text><text x="258.38" y="525.45" text-anchor="start" textLength="11.48" lengthAdjust="spacingAndGlyphs">0.011</text><text x="269.64" y="513.41" text-anchor="start" textLength="11.84" lengthAdjust="spacingAndGlyphs">0.013</text><text x="280.9" y="501.37" text-anchor="start" textLength="11.84" lengthAdjust="spacingAndGlyphs">0.015</text></g>
<rect x="403.8" y="312.6" width="227.6" height="225.9" fill="none" stroke="#8a8a8a" stroke-width="1"/>
<g stroke="#5a5a5a" stroke-width="0.65"><line x1="399.6" y1="507.65" x2="403.8" y2="507.65"/><line x1="399.6" y1="483.53" x2="403.8" y2="483.53"/><line x1="399.6" y1="470.67" x2="403.8" y2="470.67"/><line x1="399.6" y1="455.09" x2="403.8" y2="455.09"/><line x1="399.6" y1="443.86" x2="403.8" y2="443.86"/><line x1="399.6" y1="425.3" x2="403.8" y2="425.3"/><line x1="399.6" y1="406.74" x2="403.8" y2="406.74"/><line x1="399.6" y1="395.51" x2="403.8" y2="395.51"/><line x1="399.6" y1="379.93" x2="403.8" y2="379.93"/><line x1="399.6" y1="367.07" x2="403.8" y2="367.07"/><line x1="399.6" y1="342.95" x2="403.8" y2="342.95"/><line x1="401.6" y1="498" x2="403.8" y2="498"/><line x1="401.6" y1="491.88" x2="403.8" y2="491.88"/><line x1="401.6" y1="487.27" x2="403.8" y2="487.27"/><line x1="401.6" y1="483.53" x2="403.8" y2="483.53"/><line x1="401.6" y1="480.34" x2="403.8" y2="480.34"/><line x1="401.6" y1="477.54" x2="403.8" y2="477.54"/><line x1="401.6" y1="475.04" x2="403.8" y2="475.04"/><line x1="401.6" y1="472.76" x2="403.8" y2="472.76"/><line x1="401.6" y1="468.72" x2="403.8" y2="468.72"/><line x1="401.6" y1="466.89" x2="403.8" y2="466.89"/><line x1="401.6" y1="465.17" x2="403.8" y2="465.17"/><line x1="401.6" y1="463.54" x2="403.8" y2="463.54"/><line x1="401.6" y1="461.99" x2="403.8" y2="461.99"/><line x1="401.6" y1="460.5" x2="403.8" y2="460.5"/><line x1="401.6" y1="459.08" x2="403.8" y2="459.08"/><line x1="401.6" y1="457.7" x2="403.8" y2="457.7"/><line x1="401.6" y1="456.38" x2="403.8" y2="456.38"/><line x1="401.6" y1="455.09" x2="403.8" y2="455.09"/><line x1="401.6" y1="453.85" x2="403.8" y2="453.85"/><line x1="401.6" y1="452.64" x2="403.8" y2="452.64"/><line x1="401.6" y1="451.46" x2="403.8" y2="451.46"/><line x1="401.6" y1="450.3" x2="403.8" y2="450.3"/><line x1="401.6" y1="449.18" x2="403.8" y2="449.18"/><line x1="401.6" y1="448.07" x2="403.8" y2="448.07"/><line x1="401.6" y1="446.99" x2="403.8" y2="446.99"/><line x1="401.6" y1="445.93" x2="403.8" y2="445.93"/><line x1="401.6" y1="444.89" x2="403.8" y2="444.89"/><line x1="401.6" y1="443.86" x2="403.8" y2="443.86"/><line x1="401.6" y1="442.85" x2="403.8" y2="442.85"/><line x1="401.6" y1="441.86" x2="403.8" y2="441.86"/><line x1="401.6" y1="440.87" x2="403.8" y2="440.87"/><line x1="401.6" y1="439.9" x2="403.8" y2="439.9"/><line x1="401.6" y1="438.94" x2="403.8" y2="438.94"/><line x1="401.6" y1="437.99" x2="403.8" y2="437.99"/><line x1="401.6" y1="437.05" x2="403.8" y2="437.05"/><line x1="401.6" y1="436.11" x2="403.8" y2="436.11"/><line x1="401.6" y1="435.19" x2="403.8" y2="435.19"/><line x1="401.6" y1="434.27" x2="403.8" y2="434.27"/><line x1="401.6" y1="433.36" x2="403.8" y2="433.36"/><line x1="401.6" y1="432.45" x2="403.8" y2="432.45"/><line x1="401.6" y1="431.54" x2="403.8" y2="431.54"/><line x1="401.6" y1="430.64" x2="403.8" y2="430.64"/><line x1="401.6" y1="429.75" x2="403.8" y2="429.75"/><line x1="401.6" y1="428.86" x2="403.8" y2="428.86"/><line x1="401.6" y1="427.96" x2="403.8" y2="427.96"/><line x1="401.6" y1="427.08" x2="403.8" y2="427.08"/><line x1="401.6" y1="426.19" x2="403.8" y2="426.19"/><line x1="401.6" y1="425.3" x2="403.8" y2="425.3"/><line x1="401.6" y1="424.41" x2="403.8" y2="424.41"/><line x1="401.6" y1="423.52" x2="403.8" y2="423.52"/><line x1="401.6" y1="422.64" x2="403.8" y2="422.64"/><line x1="401.6" y1="421.74" x2="403.8" y2="421.74"/><line x1="401.6" y1="420.85" x2="403.8" y2="420.85"/><line x1="401.6" y1="419.96" x2="403.8" y2="419.96"/><line x1="401.6" y1="419.06" x2="403.8" y2="419.06"/><line x1="401.6" y1="418.15" x2="403.8" y2="418.15"/><line x1="401.6" y1="417.24" x2="403.8" y2="417.24"/><line x1="401.6" y1="416.33" x2="403.8" y2="416.33"/><line x1="401.6" y1="415.41" x2="403.8" y2="415.41"/><line x1="401.6" y1="414.49" x2="403.8" y2="414.49"/><line x1="401.6" y1="413.55" x2="403.8" y2="413.55"/><line x1="401.6" y1="412.61" x2="403.8" y2="412.61"/><line x1="401.6" y1="411.66" x2="403.8" y2="411.66"/><line x1="401.6" y1="410.7" x2="403.8" y2="410.7"/><line x1="401.6" y1="409.73" x2="403.8" y2="409.73"/><line x1="401.6" y1="408.74" x2="403.8" y2="408.74"/><line x1="401.6" y1="407.75" x2="403.8" y2="407.75"/><line x1="401.6" y1="406.74" x2="403.8" y2="406.74"/><line x1="401.6" y1="405.71" x2="403.8" y2="405.71"/><line x1="401.6" y1="404.67" x2="403.8" y2="404.67"/><line x1="401.6" y1="403.61" x2="403.8" y2="403.61"/><line x1="401.6" y1="402.53" x2="403.8" y2="402.53"/><line x1="401.6" y1="401.42" x2="403.8" y2="401.42"/><line x1="401.6" y1="400.3" x2="403.8" y2="400.3"/><line x1="401.6" y1="399.14" x2="403.8" y2="399.14"/><line x1="401.6" y1="397.96" x2="403.8" y2="397.96"/><line x1="401.6" y1="396.75" x2="403.8" y2="396.75"/><line x1="401.6" y1="395.51" x2="403.8" y2="395.51"/><line x1="401.6" y1="394.22" x2="403.8" y2="394.22"/><line x1="401.6" y1="392.9" x2="403.8" y2="392.9"/><line x1="401.6" y1="391.52" x2="403.8" y2="391.52"/><line x1="401.6" y1="390.1" x2="403.8" y2="390.1"/><line x1="401.6" y1="388.61" x2="403.8" y2="388.61"/><line x1="401.6" y1="387.06" x2="403.8" y2="387.06"/><line x1="401.6" y1="385.43" x2="403.8" y2="385.43"/><line x1="401.6" y1="383.71" x2="403.8" y2="383.71"/><line x1="401.6" y1="381.88" x2="403.8" y2="381.88"/><line x1="401.6" y1="377.84" x2="403.8" y2="377.84"/><line x1="401.6" y1="375.56" x2="403.8" y2="375.56"/><line x1="401.6" y1="373.06" x2="403.8" y2="373.06"/><line x1="401.6" y1="370.26" x2="403.8" y2="370.26"/><line x1="401.6" y1="367.07" x2="403.8" y2="367.07"/><line x1="401.6" y1="363.33" x2="403.8" y2="363.33"/><line x1="401.6" y1="358.72" x2="403.8" y2="358.72"/><line x1="401.6" y1="352.6" x2="403.8" y2="352.6"/></g>
<g style="filter:grayscale(1)" font-family="Liberation Sans, sans-serif" font-size="5.9" fill="#404040" stroke="#404040" stroke-width="0.12"><text x="396.6" y="509.76" text-anchor="end" textLength="2.82" lengthAdjust="spacingAndGlyphs">1</text><text x="396.6" y="485.64" text-anchor="end" textLength="2.82" lengthAdjust="spacingAndGlyphs">5</text><text x="396.6" y="472.78" text-anchor="end" textLength="5.64" lengthAdjust="spacingAndGlyphs">10</text><text x="396.6" y="457.21" text-anchor="end" textLength="5.64" lengthAdjust="spacingAndGlyphs">20</text><text x="396.6" y="445.98" text-anchor="end" textLength="5.64" lengthAdjust="spacingAndGlyphs">30</text><text x="396.6" y="427.41" text-anchor="end" textLength="5.64" lengthAdjust="spacingAndGlyphs">50</text><text x="396.6" y="408.85" text-anchor="end" textLength="5.64" lengthAdjust="spacingAndGlyphs">70</text><text x="396.6" y="397.62" text-anchor="end" textLength="5.64" lengthAdjust="spacingAndGlyphs">80</text><text x="396.6" y="382.05" text-anchor="end" textLength="5.64" lengthAdjust="spacingAndGlyphs">90</text><text x="396.6" y="369.18" text-anchor="end" textLength="5.64" lengthAdjust="spacingAndGlyphs">95</text><text x="396.6" y="345.06" text-anchor="end" textLength="5.64" lengthAdjust="spacingAndGlyphs">99</text></g>
<g stroke="#5a5a5a" stroke-width="0.8"><line x1="416" y1="538.5" x2="416" y2="544"/><line x1="467" y1="538.5" x2="467" y2="544"/><line x1="518" y1="538.5" x2="518" y2="544"/><line x1="569" y1="538.5" x2="569" y2="544"/><line x1="620" y1="538.5" x2="620" y2="544"/></g>
<g style="filter:grayscale(1)" font-family="Liberation Sans, sans-serif" font-size="5.9" fill="#404040" stroke="#404040" stroke-width="0.12"><text x="416" y="551.91" text-anchor="middle" textLength="11.56" lengthAdjust="spacingAndGlyphs">-4.00</text><text x="467" y="551.91" text-anchor="middle" textLength="11.56" lengthAdjust="spacingAndGlyphs">-2.00</text><text x="518" y="551.91" text-anchor="middle" textLength="9.87" lengthAdjust="spacingAndGlyphs">0.00</text><text x="569" y="551.91" text-anchor="middle" textLength="9.87" lengthAdjust="spacingAndGlyphs">2.00</text><text x="620" y="551.91" text-anchor="middle" textLength="9.87" lengthAdjust="spacingAndGlyphs">4.00</text></g>
<line x1="421.5" y1="538.2" x2="614.8" y2="312.6" stroke="#f58585" stroke-width="1.3"/>
<rect x="434.3" y="492.5" width="4.2" height="4.2" fill="#22e0a0" stroke="#444" stroke-width="0.5"/><rect x="435.1" y="473.6" width="4.2" height="4.2" fill="#1ee628" stroke="#444" stroke-width="0.5"/><rect x="471.9" y="463.3" width="4.2" height="4.2" fill="#3cdc22" stroke="#444" stroke-width="0.5"/><rect x="487.1" y="455.5" width="4.2" height="4.2" fill="#c4ee12" stroke="#444" stroke-width="0.5"/><rect x="492.4" y="449.2" width="4.2" height="4.2" fill="#e00000" stroke="#444" stroke-width="0.5"/><rect x="504.4" y="443.3" width="4.2" height="4.2" fill="#c8ec1c" stroke="#444" stroke-width="0.5"/><rect x="515.7" y="437.9" width="4.2" height="4.2" fill="#f06010" stroke="#444" stroke-width="0.5"/><rect x="521.2" y="433.1" width="4.2" height="4.2" fill="#ff9a10" stroke="#444" stroke-width="0.5"/><rect x="521.2" y="428.1" width="4.2" height="4.2" fill="#22e022" stroke="#444" stroke-width="0.5"/><rect x="524.5" y="423.2" width="4.2" height="4.2" fill="#ff8c10" stroke="#444" stroke-width="0.5"/><rect x="524.5" y="418.5" width="4.2" height="4.2" fill="#ff8c10" stroke="#444" stroke-width="0.5"/><rect x="524.5" y="413.6" width="4.2" height="4.2" fill="#ff8c10" stroke="#444" stroke-width="0.5"/><rect x="524.5" y="408.5" width="4.2" height="4.2" fill="#ff8c10" stroke="#444" stroke-width="0.5"/><rect x="524.5" y="403.4" width="4.2" height="4.2" fill="#ff8c10" stroke="#444" stroke-width="0.5"/><rect x="534.3" y="398.2" width="4.2" height="4.2" fill="#d4f020" stroke="#444" stroke-width="0.5"/><rect x="534.2" y="391.4" width="4.2" height="4.2" fill="#0010f0" stroke="#444" stroke-width="0.5"/><rect x="540.7" y="383.5" width="4.2" height="4.2" fill="#2ddc8c" stroke="#444" stroke-width="0.5"/><rect x="555.2" y="373" width="4.2" height="4.2" fill="#ffd21e" stroke="#444" stroke-width="0.5"/><rect x="593" y="354.1" width="4.2" height="4.2" fill="#f2e41a" stroke="#444" stroke-width="0.5"/>
<circle cx="518" cy="425.4" r="3.7" fill="#b86068" stroke="#7a3038" stroke-width="0.6"/>
<text x="12.3" y="35.4" font-family="Liberation Serif, serif" font-size="30" font-weight="bold" fill="#000" text-anchor="start" >A</text>
<text x="348.2" y="35.7" font-family="Liberation Serif, serif" font-size="30" font-weight="bold" fill="#000" text-anchor="start" >B</text>
<text x="12.6" y="324.5" font-family="Liberation Serif, serif" font-size="30" font-weight="bold" fill="#000" text-anchor="start" >C</text>
<text x="347.5" y="324.3" font-family="Liberation Serif, serif" font-size="30" font-weight="bold" fill="#000" text-anchor="start" >D</text>
<text x="83.7" y="256.4" font-family="Liberation Serif, serif" font-size="12.6" font-weight="bold" fill="#000" text-anchor="start" textLength="39.3" lengthAdjust="spacingAndGlyphs">MgSO4</text>
<text x="279.7" y="229.9" font-family="Liberation Serif, serif" font-size="11.8" font-weight="bold" fill="#000" text-anchor="start" textLength="44.2" lengthAdjust="spacingAndGlyphs">K2HPO4</text>
<text x="430.6" y="248.8" font-family="Liberation Serif, serif" font-size="11.3" font-weight="bold" fill="#000" text-anchor="start" textLength="14.8" lengthAdjust="spacingAndGlyphs">pH</text>
<text x="623.7" y="225.7" font-family="Liberation Serif, serif" font-size="11.4" font-weight="bold" fill="#000" text-anchor="start" textLength="44" lengthAdjust="spacingAndGlyphs">K2HPO4</text>
<text x="100.6" y="563.8" font-family="Liberation Serif, serif" font-size="11.6" font-weight="bold" fill="#000" text-anchor="start" textLength="15.3" lengthAdjust="spacingAndGlyphs">pH</text>
<text x="277.7" y="542.6" font-family="Liberation Serif, serif" font-size="11.6" font-weight="bold" fill="#000" text-anchor="start" textLength="37.3" lengthAdjust="spacingAndGlyphs">MgSO4</text>
<g style="filter:grayscale(1)"><text transform="translate(367.4,133) rotate(-90)" x="0" y="2.29" font-family="Liberation Sans, sans-serif" font-size="6.4" fill="#555" stroke="#555" stroke-width="0.1" text-anchor="middle" textLength="6.7" lengthAdjust="spacingAndGlyphs">R1</text></g>
<g style="filter:grayscale(1)"><text transform="translate(33.5,451.9) rotate(-90)" x="0" y="2.29" font-family="Liberation Sans, sans-serif" font-size="6.4" fill="#555" stroke="#555" stroke-width="0.1" text-anchor="middle" textLength="5.9" lengthAdjust="spacingAndGlyphs">R1</text></g>
<text x="459.3" y="309.4" font-family="Liberation Serif, serif" font-size="11.2" font-weight="bold" fill="#000" text-anchor="start" textLength="120.3" lengthAdjust="spacingAndGlyphs">Normal plot of residuals</text>
<text x="341.9" y="423.8" font-family="Liberation Serif, serif" font-size="11.6" font-weight="bold" fill="#000" text-anchor="start" textLength="50.1" lengthAdjust="spacingAndGlyphs">Normal %</text>
<text x="341.9" y="435" font-family="Liberation Serif, serif" font-size="11.6" font-weight="bold" fill="#000" text-anchor="start" textLength="54.4" lengthAdjust="spacingAndGlyphs">probability</text>
<text x="441" y="569.7" font-family="Liberation Serif, serif" font-size="11.6" font-weight="bold" fill="#000" text-anchor="start" textLength="161.4" lengthAdjust="spacingAndGlyphs">Externally studentized residuals</text>
<text x="12.3" y="615.1" font-family="Liberation Serif, serif" font-size="15.5" font-weight="bold" fill="#000" text-anchor="start" >Figure (3): 3D plots showing the interaction effects of the studied variables on the response</text></svg>
</body></html>
